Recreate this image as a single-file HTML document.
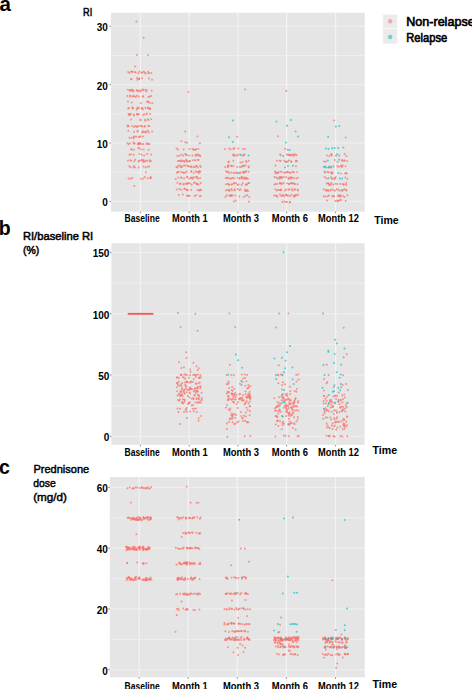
<!DOCTYPE html>
<html><head><meta charset="utf-8"><style>
html,body{margin:0;padding:0;background:#fff;width:472px;height:689px;overflow:hidden}
svg{display:block;font-family:"Liberation Sans",sans-serif}
</style></head><body>
<svg width="472" height="689" viewBox="0 0 472 689">
<rect x="111.0" y="12.7" width="253.8" height="199.0" fill="#E5E5E5"/>
<line x1="111.0" x2="364.8" y1="172.22" y2="172.22" stroke="#EFEFEF" stroke-width="1"/>
<line x1="111.0" x2="364.8" y1="113.85" y2="113.85" stroke="#EFEFEF" stroke-width="1"/>
<line x1="111.0" x2="364.8" y1="55.48" y2="55.48" stroke="#EFEFEF" stroke-width="1"/>
<line x1="111.0" x2="364.8" y1="201.40" y2="201.40" stroke="#F0F0F0" stroke-width="1"/>
<line x1="109.5" x2="111.0" y1="201.40" y2="201.40" stroke="#333" stroke-width="0.6"/>
<line x1="111.0" x2="364.8" y1="143.03" y2="143.03" stroke="#F0F0F0" stroke-width="1"/>
<line x1="109.5" x2="111.0" y1="143.03" y2="143.03" stroke="#333" stroke-width="0.6"/>
<line x1="111.0" x2="364.8" y1="84.66" y2="84.66" stroke="#F0F0F0" stroke-width="1"/>
<line x1="109.5" x2="111.0" y1="84.66" y2="84.66" stroke="#333" stroke-width="0.6"/>
<line x1="111.0" x2="364.8" y1="26.29" y2="26.29" stroke="#F0F0F0" stroke-width="1"/>
<line x1="109.5" x2="111.0" y1="26.29" y2="26.29" stroke="#333" stroke-width="0.6"/>
<line x1="140.4" x2="140.4" y1="12.7" y2="211.7" stroke="#F3F3F3" stroke-width="1.2"/>
<line x1="140.4" x2="140.4" y1="211.7" y2="213.2" stroke="#333" stroke-width="0.6"/>
<line x1="189.2" x2="189.2" y1="12.7" y2="211.7" stroke="#F3F3F3" stroke-width="1.2"/>
<line x1="189.2" x2="189.2" y1="211.7" y2="213.2" stroke="#333" stroke-width="0.6"/>
<line x1="237.9" x2="237.9" y1="12.7" y2="211.7" stroke="#F3F3F3" stroke-width="1.2"/>
<line x1="237.9" x2="237.9" y1="211.7" y2="213.2" stroke="#333" stroke-width="0.6"/>
<line x1="286.6" x2="286.6" y1="12.7" y2="211.7" stroke="#F3F3F3" stroke-width="1.2"/>
<line x1="286.6" x2="286.6" y1="211.7" y2="213.2" stroke="#333" stroke-width="0.6"/>
<line x1="335.6" x2="335.6" y1="12.7" y2="211.7" stroke="#F3F3F3" stroke-width="1.2"/>
<line x1="335.6" x2="335.6" y1="211.7" y2="213.2" stroke="#333" stroke-width="0.6"/>
<rect x="111.4" y="243.3" width="253.2" height="201.6" fill="#E5E5E5"/>
<line x1="111.4" x2="364.6" y1="405.64" y2="405.64" stroke="#EFEFEF" stroke-width="1"/>
<line x1="111.4" x2="364.6" y1="344.33" y2="344.33" stroke="#EFEFEF" stroke-width="1"/>
<line x1="111.4" x2="364.6" y1="283.01" y2="283.01" stroke="#EFEFEF" stroke-width="1"/>
<line x1="111.4" x2="364.6" y1="436.30" y2="436.30" stroke="#F0F0F0" stroke-width="1"/>
<line x1="109.9" x2="111.4" y1="436.30" y2="436.30" stroke="#333" stroke-width="0.6"/>
<line x1="111.4" x2="364.6" y1="374.99" y2="374.99" stroke="#F0F0F0" stroke-width="1"/>
<line x1="109.9" x2="111.4" y1="374.99" y2="374.99" stroke="#333" stroke-width="0.6"/>
<line x1="111.4" x2="364.6" y1="313.67" y2="313.67" stroke="#F0F0F0" stroke-width="1"/>
<line x1="109.9" x2="111.4" y1="313.67" y2="313.67" stroke="#333" stroke-width="0.6"/>
<line x1="111.4" x2="364.6" y1="252.36" y2="252.36" stroke="#F0F0F0" stroke-width="1"/>
<line x1="109.9" x2="111.4" y1="252.36" y2="252.36" stroke="#333" stroke-width="0.6"/>
<line x1="140.4" x2="140.4" y1="243.3" y2="444.9" stroke="#F3F3F3" stroke-width="1.2"/>
<line x1="140.4" x2="140.4" y1="444.9" y2="446.4" stroke="#333" stroke-width="0.6"/>
<line x1="189.2" x2="189.2" y1="243.3" y2="444.9" stroke="#F3F3F3" stroke-width="1.2"/>
<line x1="189.2" x2="189.2" y1="444.9" y2="446.4" stroke="#333" stroke-width="0.6"/>
<line x1="237.9" x2="237.9" y1="243.3" y2="444.9" stroke="#F3F3F3" stroke-width="1.2"/>
<line x1="237.9" x2="237.9" y1="444.9" y2="446.4" stroke="#333" stroke-width="0.6"/>
<line x1="286.6" x2="286.6" y1="243.3" y2="444.9" stroke="#F3F3F3" stroke-width="1.2"/>
<line x1="286.6" x2="286.6" y1="444.9" y2="446.4" stroke="#333" stroke-width="0.6"/>
<line x1="335.6" x2="335.6" y1="243.3" y2="444.9" stroke="#F3F3F3" stroke-width="1.2"/>
<line x1="335.6" x2="335.6" y1="444.9" y2="446.4" stroke="#333" stroke-width="0.6"/>
<rect x="109.8" y="477.0" width="255.0" height="200.3" fill="#E5E5E5"/>
<line x1="109.8" x2="364.8" y1="639.32" y2="639.32" stroke="#EFEFEF" stroke-width="1"/>
<line x1="109.8" x2="364.8" y1="578.56" y2="578.56" stroke="#EFEFEF" stroke-width="1"/>
<line x1="109.8" x2="364.8" y1="517.80" y2="517.80" stroke="#EFEFEF" stroke-width="1"/>
<line x1="109.8" x2="364.8" y1="669.70" y2="669.70" stroke="#F0F0F0" stroke-width="1"/>
<line x1="108.3" x2="109.8" y1="669.70" y2="669.70" stroke="#333" stroke-width="0.6"/>
<line x1="109.8" x2="364.8" y1="608.94" y2="608.94" stroke="#F0F0F0" stroke-width="1"/>
<line x1="108.3" x2="109.8" y1="608.94" y2="608.94" stroke="#333" stroke-width="0.6"/>
<line x1="109.8" x2="364.8" y1="548.18" y2="548.18" stroke="#F0F0F0" stroke-width="1"/>
<line x1="108.3" x2="109.8" y1="548.18" y2="548.18" stroke="#333" stroke-width="0.6"/>
<line x1="109.8" x2="364.8" y1="487.42" y2="487.42" stroke="#F0F0F0" stroke-width="1"/>
<line x1="108.3" x2="109.8" y1="487.42" y2="487.42" stroke="#333" stroke-width="0.6"/>
<line x1="139.2" x2="139.2" y1="477.0" y2="677.3" stroke="#F3F3F3" stroke-width="1.2"/>
<line x1="139.2" x2="139.2" y1="677.3" y2="678.8" stroke="#333" stroke-width="0.6"/>
<line x1="188.2" x2="188.2" y1="477.0" y2="677.3" stroke="#F3F3F3" stroke-width="1.2"/>
<line x1="188.2" x2="188.2" y1="677.3" y2="678.8" stroke="#333" stroke-width="0.6"/>
<line x1="237.3" x2="237.3" y1="477.0" y2="677.3" stroke="#F3F3F3" stroke-width="1.2"/>
<line x1="237.3" x2="237.3" y1="677.3" y2="678.8" stroke="#333" stroke-width="0.6"/>
<line x1="286.4" x2="286.4" y1="477.0" y2="677.3" stroke="#F3F3F3" stroke-width="1.2"/>
<line x1="286.4" x2="286.4" y1="677.3" y2="678.8" stroke="#333" stroke-width="0.6"/>
<line x1="335.5" x2="335.5" y1="477.0" y2="677.3" stroke="#F3F3F3" stroke-width="1.2"/>
<line x1="335.5" x2="335.5" y1="677.3" y2="678.8" stroke="#333" stroke-width="0.6"/>
<circle cx="179.9" cy="399.5" r="1.0" fill="#F8766D" fill-opacity="0.75"/>
<circle cx="196.0" cy="383.8" r="1.0" fill="#F8766D" fill-opacity="0.75"/>
<circle cx="189.1" cy="388.9" r="1.0" fill="#F8766D" fill-opacity="0.75"/>
<circle cx="193.1" cy="397.9" r="1.0" fill="#F8766D" fill-opacity="0.75"/>
<circle cx="178.9" cy="377.8" r="1.0" fill="#F8766D" fill-opacity="0.75"/>
<circle cx="197.8" cy="388.5" r="1.0" fill="#F8766D" fill-opacity="0.75"/>
<circle cx="195.9" cy="377.1" r="1.0" fill="#F8766D" fill-opacity="0.75"/>
<circle cx="187.9" cy="396.1" r="1.0" fill="#F8766D" fill-opacity="0.75"/>
<circle cx="182.3" cy="402.0" r="1.0" fill="#F8766D" fill-opacity="0.75"/>
<circle cx="199.5" cy="377.8" r="1.0" fill="#F8766D" fill-opacity="0.75"/>
<circle cx="177.1" cy="391.3" r="1.0" fill="#F8766D" fill-opacity="0.75"/>
<circle cx="200.4" cy="387.1" r="1.0" fill="#F8766D" fill-opacity="0.75"/>
<circle cx="182.0" cy="388.2" r="1.0" fill="#F8766D" fill-opacity="0.75"/>
<circle cx="177.2" cy="382.9" r="1.0" fill="#F8766D" fill-opacity="0.75"/>
<circle cx="187.7" cy="390.1" r="1.0" fill="#F8766D" fill-opacity="0.75"/>
<circle cx="182.4" cy="383.1" r="1.0" fill="#F8766D" fill-opacity="0.75"/>
<circle cx="182.1" cy="389.2" r="1.0" fill="#F8766D" fill-opacity="0.75"/>
<circle cx="183.9" cy="377.6" r="1.0" fill="#F8766D" fill-opacity="0.75"/>
<circle cx="197.9" cy="391.7" r="1.0" fill="#F8766D" fill-opacity="0.75"/>
<circle cx="192.9" cy="381.9" r="1.0" fill="#F8766D" fill-opacity="0.75"/>
<circle cx="201.8" cy="399.8" r="1.0" fill="#F8766D" fill-opacity="0.75"/>
<circle cx="179.6" cy="385.8" r="1.0" fill="#F8766D" fill-opacity="0.75"/>
<circle cx="194.9" cy="395.8" r="1.0" fill="#F8766D" fill-opacity="0.75"/>
<circle cx="200.4" cy="388.2" r="1.0" fill="#F8766D" fill-opacity="0.75"/>
<circle cx="197.7" cy="394.8" r="1.0" fill="#F8766D" fill-opacity="0.75"/>
<circle cx="184.2" cy="392.6" r="1.0" fill="#F8766D" fill-opacity="0.75"/>
<circle cx="199.0" cy="399.4" r="1.0" fill="#F8766D" fill-opacity="0.75"/>
<circle cx="189.4" cy="392.6" r="1.0" fill="#F8766D" fill-opacity="0.75"/>
<circle cx="177.4" cy="383.4" r="1.0" fill="#F8766D" fill-opacity="0.75"/>
<circle cx="196.8" cy="388.0" r="1.0" fill="#F8766D" fill-opacity="0.75"/>
<circle cx="180.9" cy="391.5" r="1.0" fill="#F8766D" fill-opacity="0.75"/>
<circle cx="194.4" cy="394.9" r="1.0" fill="#F8766D" fill-opacity="0.75"/>
<circle cx="186.1" cy="388.6" r="1.0" fill="#F8766D" fill-opacity="0.75"/>
<circle cx="189.5" cy="397.6" r="1.0" fill="#F8766D" fill-opacity="0.75"/>
<circle cx="189.8" cy="387.4" r="1.0" fill="#F8766D" fill-opacity="0.75"/>
<circle cx="189.0" cy="377.8" r="1.0" fill="#F8766D" fill-opacity="0.75"/>
<circle cx="177.6" cy="395.6" r="1.0" fill="#F8766D" fill-opacity="0.75"/>
<circle cx="201.6" cy="392.7" r="1.0" fill="#F8766D" fill-opacity="0.75"/>
<circle cx="186.5" cy="381.5" r="1.0" fill="#F8766D" fill-opacity="0.75"/>
<circle cx="189.3" cy="403.0" r="1.0" fill="#F8766D" fill-opacity="0.75"/>
<circle cx="196.1" cy="391.3" r="1.0" fill="#F8766D" fill-opacity="0.75"/>
<circle cx="198.4" cy="383.2" r="1.0" fill="#F8766D" fill-opacity="0.75"/>
<circle cx="189.6" cy="402.2" r="1.0" fill="#F8766D" fill-opacity="0.75"/>
<circle cx="191.2" cy="389.2" r="1.0" fill="#F8766D" fill-opacity="0.75"/>
<circle cx="183.4" cy="391.5" r="1.0" fill="#F8766D" fill-opacity="0.75"/>
<circle cx="200.9" cy="377.2" r="1.0" fill="#F8766D" fill-opacity="0.75"/>
<circle cx="196.5" cy="398.7" r="1.0" fill="#F8766D" fill-opacity="0.75"/>
<circle cx="199.1" cy="396.6" r="1.0" fill="#F8766D" fill-opacity="0.75"/>
<circle cx="197.1" cy="390.7" r="1.0" fill="#F8766D" fill-opacity="0.75"/>
<circle cx="190.8" cy="388.3" r="1.0" fill="#F8766D" fill-opacity="0.75"/>
<circle cx="177.9" cy="400.1" r="1.0" fill="#F8766D" fill-opacity="0.75"/>
<circle cx="191.0" cy="382.3" r="1.0" fill="#F8766D" fill-opacity="0.75"/>
<circle cx="189.4" cy="389.9" r="1.0" fill="#F8766D" fill-opacity="0.75"/>
<circle cx="185.6" cy="386.2" r="1.0" fill="#F8766D" fill-opacity="0.75"/>
<circle cx="190.2" cy="393.5" r="1.0" fill="#F8766D" fill-opacity="0.75"/>
<circle cx="192.1" cy="389.1" r="1.0" fill="#F8766D" fill-opacity="0.75"/>
<circle cx="177.2" cy="383.1" r="1.0" fill="#F8766D" fill-opacity="0.75"/>
<circle cx="181.0" cy="392.5" r="1.0" fill="#F8766D" fill-opacity="0.75"/>
<circle cx="198.5" cy="398.2" r="1.0" fill="#F8766D" fill-opacity="0.75"/>
<circle cx="196.8" cy="398.6" r="1.0" fill="#F8766D" fill-opacity="0.75"/>
<circle cx="183.0" cy="399.3" r="1.0" fill="#F8766D" fill-opacity="0.75"/>
<circle cx="193.7" cy="379.2" r="1.0" fill="#F8766D" fill-opacity="0.75"/>
<circle cx="176.9" cy="377.4" r="1.0" fill="#F8766D" fill-opacity="0.75"/>
<circle cx="195.8" cy="383.6" r="1.0" fill="#F8766D" fill-opacity="0.75"/>
<circle cx="179.3" cy="393.6" r="1.0" fill="#F8766D" fill-opacity="0.75"/>
<circle cx="185.3" cy="378.8" r="1.0" fill="#F8766D" fill-opacity="0.75"/>
<circle cx="180.6" cy="391.0" r="1.0" fill="#F8766D" fill-opacity="0.75"/>
<circle cx="180.8" cy="384.2" r="1.0" fill="#F8766D" fill-opacity="0.75"/>
<circle cx="194.6" cy="389.0" r="1.0" fill="#F8766D" fill-opacity="0.75"/>
<circle cx="184.7" cy="389.6" r="1.0" fill="#F8766D" fill-opacity="0.75"/>
<circle cx="177.1" cy="387.2" r="1.0" fill="#F8766D" fill-opacity="0.75"/>
<circle cx="187.2" cy="382.0" r="1.0" fill="#F8766D" fill-opacity="0.75"/>
<circle cx="179.3" cy="400.8" r="1.0" fill="#F8766D" fill-opacity="0.75"/>
<circle cx="189.5" cy="382.5" r="1.0" fill="#F8766D" fill-opacity="0.75"/>
<circle cx="191.9" cy="398.7" r="1.0" fill="#F8766D" fill-opacity="0.75"/>
<circle cx="177.0" cy="377.5" r="1.0" fill="#F8766D" fill-opacity="0.75"/>
<circle cx="180.2" cy="396.0" r="1.0" fill="#F8766D" fill-opacity="0.75"/>
<circle cx="180.6" cy="395.7" r="1.0" fill="#F8766D" fill-opacity="0.75"/>
<circle cx="193.8" cy="391.4" r="1.0" fill="#F8766D" fill-opacity="0.75"/>
<circle cx="182.1" cy="402.9" r="1.0" fill="#F8766D" fill-opacity="0.75"/>
<circle cx="196.8" cy="390.7" r="1.0" fill="#F8766D" fill-opacity="0.75"/>
<circle cx="182.2" cy="394.2" r="1.0" fill="#F8766D" fill-opacity="0.75"/>
<circle cx="186.6" cy="392.3" r="1.0" fill="#F8766D" fill-opacity="0.75"/>
<circle cx="184.7" cy="393.7" r="1.0" fill="#F8766D" fill-opacity="0.75"/>
<circle cx="178.0" cy="384.9" r="1.0" fill="#F8766D" fill-opacity="0.75"/>
<circle cx="201.2" cy="400.2" r="1.0" fill="#F8766D" fill-opacity="0.75"/>
<circle cx="184.3" cy="399.8" r="1.0" fill="#F8766D" fill-opacity="0.75"/>
<circle cx="184.4" cy="401.9" r="1.0" fill="#F8766D" fill-opacity="0.75"/>
<circle cx="195.5" cy="388.0" r="1.0" fill="#F8766D" fill-opacity="0.75"/>
<circle cx="182.9" cy="377.2" r="1.0" fill="#F8766D" fill-opacity="0.75"/>
<circle cx="198.9" cy="378.0" r="1.0" fill="#F8766D" fill-opacity="0.75"/>
<circle cx="197.4" cy="402.5" r="1.0" fill="#F8766D" fill-opacity="0.75"/>
<circle cx="191.0" cy="381.5" r="1.0" fill="#F8766D" fill-opacity="0.75"/>
<circle cx="198.6" cy="402.8" r="1.0" fill="#F8766D" fill-opacity="0.75"/>
<circle cx="194.5" cy="390.5" r="1.0" fill="#F8766D" fill-opacity="0.75"/>
<circle cx="186.1" cy="386.2" r="1.0" fill="#F8766D" fill-opacity="0.75"/>
<circle cx="181.7" cy="394.9" r="1.0" fill="#F8766D" fill-opacity="0.75"/>
<circle cx="187.5" cy="382.1" r="1.0" fill="#F8766D" fill-opacity="0.75"/>
<circle cx="179.2" cy="394.6" r="1.0" fill="#F8766D" fill-opacity="0.75"/>
<circle cx="184.0" cy="390.2" r="1.0" fill="#F8766D" fill-opacity="0.75"/>
<circle cx="184.8" cy="400.1" r="1.0" fill="#F8766D" fill-opacity="0.75"/>
<circle cx="199.4" cy="377.5" r="1.0" fill="#F8766D" fill-opacity="0.75"/>
<circle cx="181.6" cy="385.7" r="1.0" fill="#F8766D" fill-opacity="0.75"/>
<circle cx="201.7" cy="397.7" r="1.0" fill="#F8766D" fill-opacity="0.75"/>
<circle cx="185.1" cy="382.6" r="1.0" fill="#F8766D" fill-opacity="0.75"/>
<circle cx="193.7" cy="399.2" r="1.0" fill="#F8766D" fill-opacity="0.75"/>
<circle cx="200.3" cy="386.1" r="1.0" fill="#F8766D" fill-opacity="0.75"/>
<circle cx="199.0" cy="395.2" r="1.0" fill="#F8766D" fill-opacity="0.75"/>
<circle cx="188.9" cy="403.1" r="1.0" fill="#F8766D" fill-opacity="0.75"/>
<circle cx="182.5" cy="396.2" r="1.0" fill="#F8766D" fill-opacity="0.75"/>
<circle cx="178.7" cy="381.5" r="1.0" fill="#F8766D" fill-opacity="0.75"/>
<circle cx="199.7" cy="382.6" r="1.0" fill="#F8766D" fill-opacity="0.75"/>
<circle cx="195.9" cy="392.9" r="1.0" fill="#F8766D" fill-opacity="0.75"/>
<circle cx="197.9" cy="386.8" r="1.0" fill="#F8766D" fill-opacity="0.75"/>
<circle cx="185.2" cy="384.7" r="1.0" fill="#F8766D" fill-opacity="0.75"/>
<circle cx="247.4" cy="388.5" r="1.0" fill="#F8766D" fill-opacity="0.75"/>
<circle cx="249.6" cy="392.1" r="1.0" fill="#F8766D" fill-opacity="0.75"/>
<circle cx="229.2" cy="387.9" r="1.0" fill="#F8766D" fill-opacity="0.75"/>
<circle cx="228.4" cy="381.5" r="1.0" fill="#F8766D" fill-opacity="0.75"/>
<circle cx="227.6" cy="391.8" r="1.0" fill="#F8766D" fill-opacity="0.75"/>
<circle cx="245.4" cy="391.4" r="1.0" fill="#F8766D" fill-opacity="0.75"/>
<circle cx="234.3" cy="388.7" r="1.0" fill="#F8766D" fill-opacity="0.75"/>
<circle cx="245.3" cy="385.7" r="1.0" fill="#F8766D" fill-opacity="0.75"/>
<circle cx="240.0" cy="383.8" r="1.0" fill="#F8766D" fill-opacity="0.75"/>
<circle cx="227.8" cy="384.3" r="1.0" fill="#F8766D" fill-opacity="0.75"/>
<circle cx="248.0" cy="388.1" r="1.0" fill="#F8766D" fill-opacity="0.75"/>
<circle cx="248.8" cy="386.7" r="1.0" fill="#F8766D" fill-opacity="0.75"/>
<circle cx="232.7" cy="390.8" r="1.0" fill="#F8766D" fill-opacity="0.75"/>
<circle cx="246.4" cy="381.2" r="1.0" fill="#F8766D" fill-opacity="0.75"/>
<circle cx="242.5" cy="382.1" r="1.0" fill="#F8766D" fill-opacity="0.75"/>
<circle cx="228.7" cy="392.1" r="1.0" fill="#F8766D" fill-opacity="0.75"/>
<circle cx="226.8" cy="384.0" r="1.0" fill="#F8766D" fill-opacity="0.75"/>
<circle cx="250.4" cy="386.3" r="1.0" fill="#F8766D" fill-opacity="0.75"/>
<circle cx="228.7" cy="383.1" r="1.0" fill="#F8766D" fill-opacity="0.75"/>
<circle cx="231.8" cy="390.3" r="1.0" fill="#F8766D" fill-opacity="0.75"/>
<circle cx="228.4" cy="392.4" r="1.0" fill="#F8766D" fill-opacity="0.75"/>
<circle cx="235.2" cy="393.1" r="1.0" fill="#F8766D" fill-opacity="0.75"/>
<circle cx="248.4" cy="384.7" r="1.0" fill="#F8766D" fill-opacity="0.75"/>
<circle cx="232.1" cy="387.0" r="1.0" fill="#F8766D" fill-opacity="0.75"/>
<circle cx="228.3" cy="400.0" r="1.0" fill="#F8766D" fill-opacity="0.75"/>
<circle cx="226.8" cy="393.6" r="1.0" fill="#F8766D" fill-opacity="0.75"/>
<circle cx="250.3" cy="396.5" r="1.0" fill="#F8766D" fill-opacity="0.75"/>
<circle cx="240.7" cy="398.0" r="1.0" fill="#F8766D" fill-opacity="0.75"/>
<circle cx="233.6" cy="394.1" r="1.0" fill="#F8766D" fill-opacity="0.75"/>
<circle cx="248.5" cy="403.2" r="1.0" fill="#F8766D" fill-opacity="0.75"/>
<circle cx="249.9" cy="394.6" r="1.0" fill="#F8766D" fill-opacity="0.75"/>
<circle cx="231.2" cy="399.7" r="1.0" fill="#F8766D" fill-opacity="0.75"/>
<circle cx="250.2" cy="398.9" r="1.0" fill="#F8766D" fill-opacity="0.75"/>
<circle cx="242.9" cy="400.1" r="1.0" fill="#F8766D" fill-opacity="0.75"/>
<circle cx="232.3" cy="398.9" r="1.0" fill="#F8766D" fill-opacity="0.75"/>
<circle cx="233.5" cy="396.0" r="1.0" fill="#F8766D" fill-opacity="0.75"/>
<circle cx="227.8" cy="396.3" r="1.0" fill="#F8766D" fill-opacity="0.75"/>
<circle cx="250.3" cy="398.0" r="1.0" fill="#F8766D" fill-opacity="0.75"/>
<circle cx="242.0" cy="399.9" r="1.0" fill="#F8766D" fill-opacity="0.75"/>
<circle cx="249.2" cy="397.4" r="1.0" fill="#F8766D" fill-opacity="0.75"/>
<circle cx="233.4" cy="396.8" r="1.0" fill="#F8766D" fill-opacity="0.75"/>
<circle cx="233.7" cy="402.0" r="1.0" fill="#F8766D" fill-opacity="0.75"/>
<circle cx="248.0" cy="396.5" r="1.0" fill="#F8766D" fill-opacity="0.75"/>
<circle cx="234.1" cy="398.9" r="1.0" fill="#F8766D" fill-opacity="0.75"/>
<circle cx="240.2" cy="399.5" r="1.0" fill="#F8766D" fill-opacity="0.75"/>
<circle cx="231.9" cy="393.7" r="1.0" fill="#F8766D" fill-opacity="0.75"/>
<circle cx="231.9" cy="394.2" r="1.0" fill="#F8766D" fill-opacity="0.75"/>
<circle cx="239.5" cy="394.2" r="1.0" fill="#F8766D" fill-opacity="0.75"/>
<circle cx="227.7" cy="399.9" r="1.0" fill="#F8766D" fill-opacity="0.75"/>
<circle cx="233.0" cy="401.4" r="1.0" fill="#F8766D" fill-opacity="0.75"/>
<circle cx="238.1" cy="402.1" r="1.0" fill="#F8766D" fill-opacity="0.75"/>
<circle cx="229.6" cy="398.5" r="1.0" fill="#F8766D" fill-opacity="0.75"/>
<circle cx="245.6" cy="394.3" r="1.0" fill="#F8766D" fill-opacity="0.75"/>
<circle cx="249.4" cy="395.2" r="1.0" fill="#F8766D" fill-opacity="0.75"/>
<circle cx="245.1" cy="403.3" r="1.0" fill="#F8766D" fill-opacity="0.75"/>
<circle cx="246.3" cy="396.7" r="1.0" fill="#F8766D" fill-opacity="0.75"/>
<circle cx="228.5" cy="398.6" r="1.0" fill="#F8766D" fill-opacity="0.75"/>
<circle cx="248.7" cy="396.4" r="1.0" fill="#F8766D" fill-opacity="0.75"/>
<circle cx="248.1" cy="394.9" r="1.0" fill="#F8766D" fill-opacity="0.75"/>
<circle cx="248.5" cy="393.8" r="1.0" fill="#F8766D" fill-opacity="0.75"/>
<circle cx="233.7" cy="402.5" r="1.0" fill="#F8766D" fill-opacity="0.75"/>
<circle cx="245.8" cy="402.6" r="1.0" fill="#F8766D" fill-opacity="0.75"/>
<circle cx="246.7" cy="401.0" r="1.0" fill="#F8766D" fill-opacity="0.75"/>
<circle cx="243.0" cy="395.3" r="1.0" fill="#F8766D" fill-opacity="0.75"/>
<circle cx="236.6" cy="395.1" r="1.0" fill="#F8766D" fill-opacity="0.75"/>
<circle cx="243.6" cy="400.2" r="1.0" fill="#F8766D" fill-opacity="0.75"/>
<circle cx="232.1" cy="394.1" r="1.0" fill="#F8766D" fill-opacity="0.75"/>
<circle cx="249.8" cy="401.6" r="1.0" fill="#F8766D" fill-opacity="0.75"/>
<circle cx="239.5" cy="398.9" r="1.0" fill="#F8766D" fill-opacity="0.75"/>
<circle cx="247.0" cy="398.0" r="1.0" fill="#F8766D" fill-opacity="0.75"/>
<circle cx="235.7" cy="396.9" r="1.0" fill="#F8766D" fill-opacity="0.75"/>
<circle cx="232.2" cy="393.7" r="1.0" fill="#F8766D" fill-opacity="0.75"/>
<circle cx="241.9" cy="397.7" r="1.0" fill="#F8766D" fill-opacity="0.75"/>
<circle cx="240.0" cy="394.1" r="1.0" fill="#F8766D" fill-opacity="0.75"/>
<circle cx="234.6" cy="394.9" r="1.0" fill="#F8766D" fill-opacity="0.75"/>
<circle cx="228.9" cy="396.1" r="1.0" fill="#F8766D" fill-opacity="0.75"/>
<circle cx="246.4" cy="397.5" r="1.0" fill="#F8766D" fill-opacity="0.75"/>
<circle cx="235.8" cy="399.6" r="1.0" fill="#F8766D" fill-opacity="0.75"/>
<circle cx="231.6" cy="393.6" r="1.0" fill="#F8766D" fill-opacity="0.75"/>
<circle cx="239.0" cy="398.5" r="1.0" fill="#F8766D" fill-opacity="0.75"/>
<circle cx="242.0" cy="397.9" r="1.0" fill="#F8766D" fill-opacity="0.75"/>
<circle cx="242.9" cy="400.8" r="1.0" fill="#F8766D" fill-opacity="0.75"/>
<circle cx="231.7" cy="413.6" r="1.0" fill="#F8766D" fill-opacity="0.75"/>
<circle cx="237.7" cy="408.1" r="1.0" fill="#F8766D" fill-opacity="0.75"/>
<circle cx="236.1" cy="415.0" r="1.0" fill="#F8766D" fill-opacity="0.75"/>
<circle cx="248.4" cy="422.3" r="1.0" fill="#F8766D" fill-opacity="0.75"/>
<circle cx="232.7" cy="416.8" r="1.0" fill="#F8766D" fill-opacity="0.75"/>
<circle cx="227.0" cy="405.0" r="1.0" fill="#F8766D" fill-opacity="0.75"/>
<circle cx="238.5" cy="421.5" r="1.0" fill="#F8766D" fill-opacity="0.75"/>
<circle cx="229.8" cy="419.2" r="1.0" fill="#F8766D" fill-opacity="0.75"/>
<circle cx="247.8" cy="409.9" r="1.0" fill="#F8766D" fill-opacity="0.75"/>
<circle cx="243.0" cy="420.9" r="1.0" fill="#F8766D" fill-opacity="0.75"/>
<circle cx="235.1" cy="417.9" r="1.0" fill="#F8766D" fill-opacity="0.75"/>
<circle cx="244.1" cy="415.7" r="1.0" fill="#F8766D" fill-opacity="0.75"/>
<circle cx="247.1" cy="421.9" r="1.0" fill="#F8766D" fill-opacity="0.75"/>
<circle cx="249.7" cy="415.2" r="1.0" fill="#F8766D" fill-opacity="0.75"/>
<circle cx="230.2" cy="408.6" r="1.0" fill="#F8766D" fill-opacity="0.75"/>
<circle cx="231.2" cy="415.2" r="1.0" fill="#F8766D" fill-opacity="0.75"/>
<circle cx="244.7" cy="404.6" r="1.0" fill="#F8766D" fill-opacity="0.75"/>
<circle cx="242.8" cy="418.2" r="1.0" fill="#F8766D" fill-opacity="0.75"/>
<circle cx="234.5" cy="414.1" r="1.0" fill="#F8766D" fill-opacity="0.75"/>
<circle cx="229.9" cy="418.5" r="1.0" fill="#F8766D" fill-opacity="0.75"/>
<circle cx="226.8" cy="423.6" r="1.0" fill="#F8766D" fill-opacity="0.75"/>
<circle cx="245.9" cy="416.4" r="1.0" fill="#F8766D" fill-opacity="0.75"/>
<circle cx="232.5" cy="422.2" r="1.0" fill="#F8766D" fill-opacity="0.75"/>
<circle cx="249.7" cy="406.4" r="1.0" fill="#F8766D" fill-opacity="0.75"/>
<circle cx="245.1" cy="420.8" r="1.0" fill="#F8766D" fill-opacity="0.75"/>
<circle cx="242.2" cy="417.9" r="1.0" fill="#F8766D" fill-opacity="0.75"/>
<circle cx="236.9" cy="422.4" r="1.0" fill="#F8766D" fill-opacity="0.75"/>
<circle cx="250.0" cy="411.3" r="1.0" fill="#F8766D" fill-opacity="0.75"/>
<circle cx="245.8" cy="412.4" r="1.0" fill="#F8766D" fill-opacity="0.75"/>
<circle cx="229.9" cy="410.2" r="1.0" fill="#F8766D" fill-opacity="0.75"/>
<circle cx="228.9" cy="422.1" r="1.0" fill="#F8766D" fill-opacity="0.75"/>
<circle cx="249.7" cy="405.9" r="1.0" fill="#F8766D" fill-opacity="0.75"/>
<circle cx="240.8" cy="411.9" r="1.0" fill="#F8766D" fill-opacity="0.75"/>
<circle cx="228.7" cy="409.6" r="1.0" fill="#F8766D" fill-opacity="0.75"/>
<circle cx="232.0" cy="418.9" r="1.0" fill="#F8766D" fill-opacity="0.75"/>
<circle cx="225.9" cy="407.4" r="1.0" fill="#F8766D" fill-opacity="0.75"/>
<circle cx="236.7" cy="403.9" r="1.0" fill="#F8766D" fill-opacity="0.75"/>
<circle cx="241.4" cy="415.9" r="1.0" fill="#F8766D" fill-opacity="0.75"/>
<circle cx="246.6" cy="407.7" r="1.0" fill="#F8766D" fill-opacity="0.75"/>
<circle cx="232.9" cy="414.6" r="1.0" fill="#F8766D" fill-opacity="0.75"/>
<circle cx="232.6" cy="415.5" r="1.0" fill="#F8766D" fill-opacity="0.75"/>
<circle cx="232.0" cy="417.5" r="1.0" fill="#F8766D" fill-opacity="0.75"/>
<circle cx="293.4" cy="406.9" r="1.0" fill="#F8766D" fill-opacity="0.75"/>
<circle cx="297.9" cy="402.6" r="1.0" fill="#F8766D" fill-opacity="0.75"/>
<circle cx="286.1" cy="407.7" r="1.0" fill="#F8766D" fill-opacity="0.75"/>
<circle cx="292.9" cy="403.0" r="1.0" fill="#F8766D" fill-opacity="0.75"/>
<circle cx="283.5" cy="398.4" r="1.0" fill="#F8766D" fill-opacity="0.75"/>
<circle cx="276.8" cy="406.9" r="1.0" fill="#F8766D" fill-opacity="0.75"/>
<circle cx="277.1" cy="405.9" r="1.0" fill="#F8766D" fill-opacity="0.75"/>
<circle cx="287.5" cy="409.4" r="1.0" fill="#F8766D" fill-opacity="0.75"/>
<circle cx="292.7" cy="409.6" r="1.0" fill="#F8766D" fill-opacity="0.75"/>
<circle cx="277.5" cy="401.9" r="1.0" fill="#F8766D" fill-opacity="0.75"/>
<circle cx="288.1" cy="398.8" r="1.0" fill="#F8766D" fill-opacity="0.75"/>
<circle cx="286.4" cy="399.6" r="1.0" fill="#F8766D" fill-opacity="0.75"/>
<circle cx="287.0" cy="393.8" r="1.0" fill="#F8766D" fill-opacity="0.75"/>
<circle cx="284.9" cy="401.1" r="1.0" fill="#F8766D" fill-opacity="0.75"/>
<circle cx="281.6" cy="400.3" r="1.0" fill="#F8766D" fill-opacity="0.75"/>
<circle cx="293.2" cy="404.9" r="1.0" fill="#F8766D" fill-opacity="0.75"/>
<circle cx="286.2" cy="404.3" r="1.0" fill="#F8766D" fill-opacity="0.75"/>
<circle cx="283.4" cy="397.1" r="1.0" fill="#F8766D" fill-opacity="0.75"/>
<circle cx="274.3" cy="398.3" r="1.0" fill="#F8766D" fill-opacity="0.75"/>
<circle cx="288.7" cy="408.1" r="1.0" fill="#F8766D" fill-opacity="0.75"/>
<circle cx="294.4" cy="402.1" r="1.0" fill="#F8766D" fill-opacity="0.75"/>
<circle cx="298.2" cy="401.3" r="1.0" fill="#F8766D" fill-opacity="0.75"/>
<circle cx="294.5" cy="400.4" r="1.0" fill="#F8766D" fill-opacity="0.75"/>
<circle cx="292.3" cy="409.8" r="1.0" fill="#F8766D" fill-opacity="0.75"/>
<circle cx="281.6" cy="396.6" r="1.0" fill="#F8766D" fill-opacity="0.75"/>
<circle cx="289.3" cy="402.4" r="1.0" fill="#F8766D" fill-opacity="0.75"/>
<circle cx="282.9" cy="393.9" r="1.0" fill="#F8766D" fill-opacity="0.75"/>
<circle cx="283.7" cy="400.7" r="1.0" fill="#F8766D" fill-opacity="0.75"/>
<circle cx="284.0" cy="407.8" r="1.0" fill="#F8766D" fill-opacity="0.75"/>
<circle cx="288.4" cy="405.7" r="1.0" fill="#F8766D" fill-opacity="0.75"/>
<circle cx="296.0" cy="405.9" r="1.0" fill="#F8766D" fill-opacity="0.75"/>
<circle cx="286.2" cy="405.9" r="1.0" fill="#F8766D" fill-opacity="0.75"/>
<circle cx="289.8" cy="404.3" r="1.0" fill="#F8766D" fill-opacity="0.75"/>
<circle cx="289.5" cy="400.4" r="1.0" fill="#F8766D" fill-opacity="0.75"/>
<circle cx="289.5" cy="404.1" r="1.0" fill="#F8766D" fill-opacity="0.75"/>
<circle cx="297.0" cy="406.5" r="1.0" fill="#F8766D" fill-opacity="0.75"/>
<circle cx="294.8" cy="406.2" r="1.0" fill="#F8766D" fill-opacity="0.75"/>
<circle cx="294.0" cy="403.6" r="1.0" fill="#F8766D" fill-opacity="0.75"/>
<circle cx="282.7" cy="398.1" r="1.0" fill="#F8766D" fill-opacity="0.75"/>
<circle cx="291.4" cy="408.0" r="1.0" fill="#F8766D" fill-opacity="0.75"/>
<circle cx="287.4" cy="396.3" r="1.0" fill="#F8766D" fill-opacity="0.75"/>
<circle cx="294.4" cy="401.6" r="1.0" fill="#F8766D" fill-opacity="0.75"/>
<circle cx="285.6" cy="394.5" r="1.0" fill="#F8766D" fill-opacity="0.75"/>
<circle cx="286.6" cy="405.9" r="1.0" fill="#F8766D" fill-opacity="0.75"/>
<circle cx="284.5" cy="399.6" r="1.0" fill="#F8766D" fill-opacity="0.75"/>
<circle cx="290.2" cy="394.1" r="1.0" fill="#F8766D" fill-opacity="0.75"/>
<circle cx="286.5" cy="409.1" r="1.0" fill="#F8766D" fill-opacity="0.75"/>
<circle cx="291.0" cy="400.3" r="1.0" fill="#F8766D" fill-opacity="0.75"/>
<circle cx="290.9" cy="403.6" r="1.0" fill="#F8766D" fill-opacity="0.75"/>
<circle cx="279.3" cy="397.2" r="1.0" fill="#F8766D" fill-opacity="0.75"/>
<circle cx="295.7" cy="398.2" r="1.0" fill="#F8766D" fill-opacity="0.75"/>
<circle cx="276.0" cy="407.3" r="1.0" fill="#F8766D" fill-opacity="0.75"/>
<circle cx="286.9" cy="399.8" r="1.0" fill="#F8766D" fill-opacity="0.75"/>
<circle cx="286.6" cy="405.7" r="1.0" fill="#F8766D" fill-opacity="0.75"/>
<circle cx="278.3" cy="404.4" r="1.0" fill="#F8766D" fill-opacity="0.75"/>
<circle cx="291.5" cy="407.0" r="1.0" fill="#F8766D" fill-opacity="0.75"/>
<circle cx="280.8" cy="403.7" r="1.0" fill="#F8766D" fill-opacity="0.75"/>
<circle cx="279.8" cy="402.9" r="1.0" fill="#F8766D" fill-opacity="0.75"/>
<circle cx="278.4" cy="406.6" r="1.0" fill="#F8766D" fill-opacity="0.75"/>
<circle cx="295.3" cy="399.1" r="1.0" fill="#F8766D" fill-opacity="0.75"/>
<circle cx="279.6" cy="409.4" r="1.0" fill="#F8766D" fill-opacity="0.75"/>
<circle cx="291.4" cy="407.5" r="1.0" fill="#F8766D" fill-opacity="0.75"/>
<circle cx="274.9" cy="408.4" r="1.0" fill="#F8766D" fill-opacity="0.75"/>
<circle cx="289.3" cy="398.9" r="1.0" fill="#F8766D" fill-opacity="0.75"/>
<circle cx="284.7" cy="406.1" r="1.0" fill="#F8766D" fill-opacity="0.75"/>
<circle cx="293.3" cy="413.0" r="1.0" fill="#F8766D" fill-opacity="0.75"/>
<circle cx="289.4" cy="412.6" r="1.0" fill="#F8766D" fill-opacity="0.75"/>
<circle cx="297.8" cy="416.9" r="1.0" fill="#F8766D" fill-opacity="0.75"/>
<circle cx="296.4" cy="421.4" r="1.0" fill="#F8766D" fill-opacity="0.75"/>
<circle cx="288.9" cy="414.1" r="1.0" fill="#F8766D" fill-opacity="0.75"/>
<circle cx="287.0" cy="412.2" r="1.0" fill="#F8766D" fill-opacity="0.75"/>
<circle cx="277.6" cy="421.2" r="1.0" fill="#F8766D" fill-opacity="0.75"/>
<circle cx="283.0" cy="421.7" r="1.0" fill="#F8766D" fill-opacity="0.75"/>
<circle cx="280.0" cy="421.2" r="1.0" fill="#F8766D" fill-opacity="0.75"/>
<circle cx="291.7" cy="414.8" r="1.0" fill="#F8766D" fill-opacity="0.75"/>
<circle cx="276.8" cy="416.2" r="1.0" fill="#F8766D" fill-opacity="0.75"/>
<circle cx="286.2" cy="411.6" r="1.0" fill="#F8766D" fill-opacity="0.75"/>
<circle cx="278.7" cy="410.9" r="1.0" fill="#F8766D" fill-opacity="0.75"/>
<circle cx="288.7" cy="423.9" r="1.0" fill="#F8766D" fill-opacity="0.75"/>
<circle cx="279.5" cy="410.5" r="1.0" fill="#F8766D" fill-opacity="0.75"/>
<circle cx="291.3" cy="422.7" r="1.0" fill="#F8766D" fill-opacity="0.75"/>
<circle cx="297.6" cy="419.6" r="1.0" fill="#F8766D" fill-opacity="0.75"/>
<circle cx="282.5" cy="423.1" r="1.0" fill="#F8766D" fill-opacity="0.75"/>
<circle cx="277.1" cy="420.8" r="1.0" fill="#F8766D" fill-opacity="0.75"/>
<circle cx="276.5" cy="416.2" r="1.0" fill="#F8766D" fill-opacity="0.75"/>
<circle cx="286.2" cy="415.9" r="1.0" fill="#F8766D" fill-opacity="0.75"/>
<circle cx="278.3" cy="413.6" r="1.0" fill="#F8766D" fill-opacity="0.75"/>
<circle cx="294.1" cy="417.2" r="1.0" fill="#F8766D" fill-opacity="0.75"/>
<circle cx="288.3" cy="413.3" r="1.0" fill="#F8766D" fill-opacity="0.75"/>
<circle cx="291.6" cy="415.1" r="1.0" fill="#F8766D" fill-opacity="0.75"/>
<circle cx="288.6" cy="424.2" r="1.0" fill="#F8766D" fill-opacity="0.75"/>
<circle cx="298.4" cy="410.7" r="1.0" fill="#F8766D" fill-opacity="0.75"/>
<circle cx="293.6" cy="423.4" r="1.0" fill="#F8766D" fill-opacity="0.75"/>
<circle cx="282.0" cy="416.0" r="1.0" fill="#F8766D" fill-opacity="0.75"/>
<circle cx="288.3" cy="424.3" r="1.0" fill="#F8766D" fill-opacity="0.75"/>
<circle cx="283.9" cy="423.7" r="1.0" fill="#F8766D" fill-opacity="0.75"/>
<circle cx="292.6" cy="412.4" r="1.0" fill="#F8766D" fill-opacity="0.75"/>
<circle cx="296.4" cy="410.2" r="1.0" fill="#F8766D" fill-opacity="0.75"/>
<circle cx="277.7" cy="420.4" r="1.0" fill="#F8766D" fill-opacity="0.75"/>
<circle cx="275.6" cy="415.9" r="1.0" fill="#F8766D" fill-opacity="0.75"/>
<circle cx="277.4" cy="417.2" r="1.0" fill="#F8766D" fill-opacity="0.75"/>
<circle cx="294.6" cy="424.1" r="1.0" fill="#F8766D" fill-opacity="0.75"/>
<circle cx="275.1" cy="410.9" r="1.0" fill="#F8766D" fill-opacity="0.75"/>
<circle cx="294.6" cy="410.7" r="1.0" fill="#F8766D" fill-opacity="0.75"/>
<circle cx="280.8" cy="411.8" r="1.0" fill="#F8766D" fill-opacity="0.75"/>
<circle cx="276.4" cy="410.4" r="1.0" fill="#F8766D" fill-opacity="0.75"/>
<circle cx="289.7" cy="421.6" r="1.0" fill="#F8766D" fill-opacity="0.75"/>
<circle cx="290.9" cy="423.2" r="1.0" fill="#F8766D" fill-opacity="0.75"/>
<circle cx="290.3" cy="416.1" r="1.0" fill="#F8766D" fill-opacity="0.75"/>
<circle cx="289.5" cy="425.1" r="1.0" fill="#F8766D" fill-opacity="0.75"/>
<circle cx="289.8" cy="413.8" r="1.0" fill="#F8766D" fill-opacity="0.75"/>
<circle cx="275.7" cy="424.6" r="1.0" fill="#F8766D" fill-opacity="0.75"/>
<circle cx="288.5" cy="415.5" r="1.0" fill="#F8766D" fill-opacity="0.75"/>
<circle cx="288.9" cy="418.7" r="1.0" fill="#F8766D" fill-opacity="0.75"/>
<circle cx="286.9" cy="410.9" r="1.0" fill="#F8766D" fill-opacity="0.75"/>
<circle cx="331.3" cy="401.5" r="1.0" fill="#F8766D" fill-opacity="0.75"/>
<circle cx="327.6" cy="409.9" r="1.0" fill="#F8766D" fill-opacity="0.75"/>
<circle cx="333.0" cy="406.0" r="1.0" fill="#F8766D" fill-opacity="0.75"/>
<circle cx="340.1" cy="407.4" r="1.0" fill="#F8766D" fill-opacity="0.75"/>
<circle cx="340.3" cy="407.6" r="1.0" fill="#F8766D" fill-opacity="0.75"/>
<circle cx="328.8" cy="411.6" r="1.0" fill="#F8766D" fill-opacity="0.75"/>
<circle cx="326.4" cy="410.5" r="1.0" fill="#F8766D" fill-opacity="0.75"/>
<circle cx="343.6" cy="409.4" r="1.0" fill="#F8766D" fill-opacity="0.75"/>
<circle cx="324.0" cy="395.7" r="1.0" fill="#F8766D" fill-opacity="0.75"/>
<circle cx="342.5" cy="402.5" r="1.0" fill="#F8766D" fill-opacity="0.75"/>
<circle cx="331.7" cy="411.7" r="1.0" fill="#F8766D" fill-opacity="0.75"/>
<circle cx="323.7" cy="403.6" r="1.0" fill="#F8766D" fill-opacity="0.75"/>
<circle cx="333.5" cy="396.4" r="1.0" fill="#F8766D" fill-opacity="0.75"/>
<circle cx="332.3" cy="406.8" r="1.0" fill="#F8766D" fill-opacity="0.75"/>
<circle cx="344.2" cy="394.5" r="1.0" fill="#F8766D" fill-opacity="0.75"/>
<circle cx="335.5" cy="395.7" r="1.0" fill="#F8766D" fill-opacity="0.75"/>
<circle cx="342.2" cy="395.6" r="1.0" fill="#F8766D" fill-opacity="0.75"/>
<circle cx="323.5" cy="401.0" r="1.0" fill="#F8766D" fill-opacity="0.75"/>
<circle cx="340.6" cy="399.7" r="1.0" fill="#F8766D" fill-opacity="0.75"/>
<circle cx="325.9" cy="408.3" r="1.0" fill="#F8766D" fill-opacity="0.75"/>
<circle cx="342.4" cy="409.4" r="1.0" fill="#F8766D" fill-opacity="0.75"/>
<circle cx="330.1" cy="401.7" r="1.0" fill="#F8766D" fill-opacity="0.75"/>
<circle cx="328.7" cy="404.1" r="1.0" fill="#F8766D" fill-opacity="0.75"/>
<circle cx="330.8" cy="400.2" r="1.0" fill="#F8766D" fill-opacity="0.75"/>
<circle cx="341.8" cy="411.2" r="1.0" fill="#F8766D" fill-opacity="0.75"/>
<circle cx="337.0" cy="396.0" r="1.0" fill="#F8766D" fill-opacity="0.75"/>
<circle cx="338.6" cy="402.1" r="1.0" fill="#F8766D" fill-opacity="0.75"/>
<circle cx="346.8" cy="407.0" r="1.0" fill="#F8766D" fill-opacity="0.75"/>
<circle cx="343.1" cy="406.7" r="1.0" fill="#F8766D" fill-opacity="0.75"/>
<circle cx="335.8" cy="410.2" r="1.0" fill="#F8766D" fill-opacity="0.75"/>
<circle cx="343.0" cy="399.3" r="1.0" fill="#F8766D" fill-opacity="0.75"/>
<circle cx="326.5" cy="400.7" r="1.0" fill="#F8766D" fill-opacity="0.75"/>
<circle cx="335.4" cy="395.8" r="1.0" fill="#F8766D" fill-opacity="0.75"/>
<circle cx="331.1" cy="404.4" r="1.0" fill="#F8766D" fill-opacity="0.75"/>
<circle cx="323.8" cy="408.7" r="1.0" fill="#F8766D" fill-opacity="0.75"/>
<circle cx="338.6" cy="399.7" r="1.0" fill="#F8766D" fill-opacity="0.75"/>
<circle cx="330.0" cy="400.4" r="1.0" fill="#F8766D" fill-opacity="0.75"/>
<circle cx="330.6" cy="407.5" r="1.0" fill="#F8766D" fill-opacity="0.75"/>
<circle cx="334.9" cy="403.5" r="1.0" fill="#F8766D" fill-opacity="0.75"/>
<circle cx="326.3" cy="410.5" r="1.0" fill="#F8766D" fill-opacity="0.75"/>
<circle cx="330.6" cy="400.0" r="1.0" fill="#F8766D" fill-opacity="0.75"/>
<circle cx="324.4" cy="411.6" r="1.0" fill="#F8766D" fill-opacity="0.75"/>
<circle cx="334.4" cy="410.4" r="1.0" fill="#F8766D" fill-opacity="0.75"/>
<circle cx="345.3" cy="411.5" r="1.0" fill="#F8766D" fill-opacity="0.75"/>
<circle cx="342.6" cy="410.7" r="1.0" fill="#F8766D" fill-opacity="0.75"/>
<circle cx="345.2" cy="408.4" r="1.0" fill="#F8766D" fill-opacity="0.75"/>
<circle cx="326.0" cy="403.5" r="1.0" fill="#F8766D" fill-opacity="0.75"/>
<circle cx="336.7" cy="411.9" r="1.0" fill="#F8766D" fill-opacity="0.75"/>
<circle cx="341.8" cy="406.7" r="1.0" fill="#F8766D" fill-opacity="0.75"/>
<circle cx="340.9" cy="400.6" r="1.0" fill="#F8766D" fill-opacity="0.75"/>
<circle cx="345.7" cy="405.6" r="1.0" fill="#F8766D" fill-opacity="0.75"/>
<circle cx="332.5" cy="402.4" r="1.0" fill="#F8766D" fill-opacity="0.75"/>
<circle cx="346.6" cy="403.6" r="1.0" fill="#F8766D" fill-opacity="0.75"/>
<circle cx="326.8" cy="396.8" r="1.0" fill="#F8766D" fill-opacity="0.75"/>
<circle cx="339.5" cy="404.2" r="1.0" fill="#F8766D" fill-opacity="0.75"/>
<circle cx="344.8" cy="397.4" r="1.0" fill="#F8766D" fill-opacity="0.75"/>
<circle cx="332.7" cy="407.1" r="1.0" fill="#F8766D" fill-opacity="0.75"/>
<circle cx="323.9" cy="395.9" r="1.0" fill="#F8766D" fill-opacity="0.75"/>
<circle cx="336.0" cy="398.9" r="1.0" fill="#F8766D" fill-opacity="0.75"/>
<circle cx="325.3" cy="398.8" r="1.0" fill="#F8766D" fill-opacity="0.75"/>
<circle cx="338.1" cy="421.5" r="1.0" fill="#F8766D" fill-opacity="0.75"/>
<circle cx="324.6" cy="413.3" r="1.0" fill="#F8766D" fill-opacity="0.75"/>
<circle cx="343.5" cy="423.6" r="1.0" fill="#F8766D" fill-opacity="0.75"/>
<circle cx="326.9" cy="427.6" r="1.0" fill="#F8766D" fill-opacity="0.75"/>
<circle cx="323.2" cy="418.7" r="1.0" fill="#F8766D" fill-opacity="0.75"/>
<circle cx="343.4" cy="424.9" r="1.0" fill="#F8766D" fill-opacity="0.75"/>
<circle cx="329.6" cy="428.1" r="1.0" fill="#F8766D" fill-opacity="0.75"/>
<circle cx="337.3" cy="427.7" r="1.0" fill="#F8766D" fill-opacity="0.75"/>
<circle cx="344.5" cy="419.7" r="1.0" fill="#F8766D" fill-opacity="0.75"/>
<circle cx="339.2" cy="421.9" r="1.0" fill="#F8766D" fill-opacity="0.75"/>
<circle cx="345.8" cy="426.4" r="1.0" fill="#F8766D" fill-opacity="0.75"/>
<circle cx="340.4" cy="426.7" r="1.0" fill="#F8766D" fill-opacity="0.75"/>
<circle cx="347.1" cy="416.6" r="1.0" fill="#F8766D" fill-opacity="0.75"/>
<circle cx="327.6" cy="425.5" r="1.0" fill="#F8766D" fill-opacity="0.75"/>
<circle cx="341.5" cy="421.3" r="1.0" fill="#F8766D" fill-opacity="0.75"/>
<circle cx="334.6" cy="419.3" r="1.0" fill="#F8766D" fill-opacity="0.75"/>
<circle cx="344.2" cy="426.4" r="1.0" fill="#F8766D" fill-opacity="0.75"/>
<circle cx="337.0" cy="412.7" r="1.0" fill="#F8766D" fill-opacity="0.75"/>
<circle cx="343.5" cy="420.3" r="1.0" fill="#F8766D" fill-opacity="0.75"/>
<circle cx="327.3" cy="417.4" r="1.0" fill="#F8766D" fill-opacity="0.75"/>
<circle cx="339.6" cy="412.1" r="1.0" fill="#F8766D" fill-opacity="0.75"/>
<circle cx="325.6" cy="417.5" r="1.0" fill="#F8766D" fill-opacity="0.75"/>
<circle cx="344.3" cy="425.5" r="1.0" fill="#F8766D" fill-opacity="0.75"/>
<circle cx="346.4" cy="421.8" r="1.0" fill="#F8766D" fill-opacity="0.75"/>
<circle cx="336.7" cy="422.0" r="1.0" fill="#F8766D" fill-opacity="0.75"/>
<circle cx="335.5" cy="421.8" r="1.0" fill="#F8766D" fill-opacity="0.75"/>
<circle cx="342.7" cy="429.3" r="1.0" fill="#F8766D" fill-opacity="0.75"/>
<circle cx="332.7" cy="423.4" r="1.0" fill="#F8766D" fill-opacity="0.75"/>
<circle cx="330.2" cy="417.5" r="1.0" fill="#F8766D" fill-opacity="0.75"/>
<circle cx="335.1" cy="422.6" r="1.0" fill="#F8766D" fill-opacity="0.75"/>
<circle cx="336.1" cy="429.7" r="1.0" fill="#F8766D" fill-opacity="0.75"/>
<circle cx="326.7" cy="423.5" r="1.0" fill="#F8766D" fill-opacity="0.75"/>
<circle cx="347.0" cy="425.3" r="1.0" fill="#F8766D" fill-opacity="0.75"/>
<circle cx="336.5" cy="418.7" r="1.0" fill="#F8766D" fill-opacity="0.75"/>
<circle cx="332.5" cy="429.0" r="1.0" fill="#F8766D" fill-opacity="0.75"/>
<circle cx="344.5" cy="424.1" r="1.0" fill="#F8766D" fill-opacity="0.75"/>
<circle cx="344.6" cy="428.7" r="1.0" fill="#F8766D" fill-opacity="0.75"/>
<circle cx="343.4" cy="418.9" r="1.0" fill="#F8766D" fill-opacity="0.75"/>
<circle cx="334.0" cy="426.4" r="1.0" fill="#F8766D" fill-opacity="0.75"/>
<circle cx="331.8" cy="425.6" r="1.0" fill="#F8766D" fill-opacity="0.75"/>
<circle cx="334.4" cy="418.1" r="1.0" fill="#F8766D" fill-opacity="0.75"/>
<circle cx="333.8" cy="414.1" r="1.0" fill="#F8766D" fill-opacity="0.75"/>
<circle cx="331.3" cy="419.5" r="1.0" fill="#F8766D" fill-opacity="0.75"/>
<circle cx="323.1" cy="415.1" r="1.0" fill="#F8766D" fill-opacity="0.75"/>
<circle cx="329.0" cy="427.5" r="1.0" fill="#F8766D" fill-opacity="0.75"/>
<circle cx="337.1" cy="417.2" r="1.0" fill="#F8766D" fill-opacity="0.75"/>
<circle cx="347.0" cy="416.7" r="1.0" fill="#F8766D" fill-opacity="0.75"/>
<circle cx="335.2" cy="425.4" r="1.0" fill="#F8766D" fill-opacity="0.75"/>
<circle cx="143.7" cy="518.4" r="1.0" fill="#F8766D" fill-opacity="0.75"/>
<circle cx="145.8" cy="518.6" r="1.0" fill="#F8766D" fill-opacity="0.75"/>
<circle cx="144.3" cy="518.6" r="1.0" fill="#F8766D" fill-opacity="0.75"/>
<circle cx="150.5" cy="519.3" r="1.0" fill="#F8766D" fill-opacity="0.75"/>
<circle cx="129.2" cy="517.4" r="1.0" fill="#F8766D" fill-opacity="0.75"/>
<circle cx="150.4" cy="517.7" r="1.0" fill="#F8766D" fill-opacity="0.75"/>
<circle cx="127.6" cy="517.8" r="1.0" fill="#F8766D" fill-opacity="0.75"/>
<circle cx="138.6" cy="520.0" r="1.0" fill="#F8766D" fill-opacity="0.75"/>
<circle cx="136.7" cy="519.3" r="1.0" fill="#F8766D" fill-opacity="0.75"/>
<circle cx="147.2" cy="517.3" r="1.0" fill="#F8766D" fill-opacity="0.75"/>
<circle cx="141.8" cy="520.2" r="1.0" fill="#F8766D" fill-opacity="0.75"/>
<circle cx="140.3" cy="518.7" r="1.0" fill="#F8766D" fill-opacity="0.75"/>
<circle cx="135.4" cy="520.0" r="1.0" fill="#F8766D" fill-opacity="0.75"/>
<circle cx="150.5" cy="517.3" r="1.0" fill="#F8766D" fill-opacity="0.75"/>
<circle cx="140.4" cy="518.3" r="1.0" fill="#F8766D" fill-opacity="0.75"/>
<circle cx="143.3" cy="517.4" r="1.0" fill="#F8766D" fill-opacity="0.75"/>
<circle cx="133.4" cy="517.9" r="1.0" fill="#F8766D" fill-opacity="0.75"/>
<circle cx="138.6" cy="519.5" r="1.0" fill="#F8766D" fill-opacity="0.75"/>
<circle cx="147.8" cy="519.5" r="1.0" fill="#F8766D" fill-opacity="0.75"/>
<circle cx="143.4" cy="517.3" r="1.0" fill="#F8766D" fill-opacity="0.75"/>
<circle cx="136.4" cy="519.1" r="1.0" fill="#F8766D" fill-opacity="0.75"/>
<circle cx="134.1" cy="518.6" r="1.0" fill="#F8766D" fill-opacity="0.75"/>
<circle cx="148.9" cy="517.4" r="1.0" fill="#F8766D" fill-opacity="0.75"/>
<circle cx="147.7" cy="517.3" r="1.0" fill="#F8766D" fill-opacity="0.75"/>
<circle cx="136.4" cy="519.9" r="1.0" fill="#F8766D" fill-opacity="0.75"/>
<circle cx="131.9" cy="518.7" r="1.0" fill="#F8766D" fill-opacity="0.75"/>
<circle cx="137.1" cy="519.8" r="1.0" fill="#F8766D" fill-opacity="0.75"/>
<circle cx="151.0" cy="517.9" r="1.0" fill="#F8766D" fill-opacity="0.75"/>
<circle cx="138.9" cy="519.9" r="1.0" fill="#F8766D" fill-opacity="0.75"/>
<circle cx="140.2" cy="517.7" r="1.0" fill="#F8766D" fill-opacity="0.75"/>
<circle cx="145.4" cy="518.1" r="1.0" fill="#F8766D" fill-opacity="0.75"/>
<circle cx="138.8" cy="517.0" r="1.0" fill="#F8766D" fill-opacity="0.75"/>
<circle cx="150.9" cy="519.1" r="1.0" fill="#F8766D" fill-opacity="0.75"/>
<circle cx="149.4" cy="520.1" r="1.0" fill="#F8766D" fill-opacity="0.75"/>
<circle cx="133.5" cy="518.7" r="1.0" fill="#F8766D" fill-opacity="0.75"/>
<circle cx="137.7" cy="519.4" r="1.0" fill="#F8766D" fill-opacity="0.75"/>
<circle cx="147.4" cy="517.7" r="1.0" fill="#F8766D" fill-opacity="0.75"/>
<circle cx="133.6" cy="519.3" r="1.0" fill="#F8766D" fill-opacity="0.75"/>
<circle cx="137.0" cy="517.4" r="1.0" fill="#F8766D" fill-opacity="0.75"/>
<circle cx="131.7" cy="518.8" r="1.0" fill="#F8766D" fill-opacity="0.75"/>
<circle cx="141.5" cy="520.1" r="1.0" fill="#F8766D" fill-opacity="0.75"/>
<circle cx="139.9" cy="518.9" r="1.0" fill="#F8766D" fill-opacity="0.75"/>
<circle cx="130.6" cy="518.3" r="1.0" fill="#F8766D" fill-opacity="0.75"/>
<circle cx="133.8" cy="519.2" r="1.0" fill="#F8766D" fill-opacity="0.75"/>
<circle cx="133.5" cy="517.7" r="1.0" fill="#F8766D" fill-opacity="0.75"/>
<circle cx="135.9" cy="518.5" r="1.0" fill="#F8766D" fill-opacity="0.75"/>
<circle cx="135.2" cy="518.9" r="1.0" fill="#F8766D" fill-opacity="0.75"/>
<circle cx="131.4" cy="519.8" r="1.0" fill="#F8766D" fill-opacity="0.75"/>
<circle cx="143.8" cy="518.7" r="1.0" fill="#F8766D" fill-opacity="0.75"/>
<circle cx="128.4" cy="518.0" r="1.0" fill="#F8766D" fill-opacity="0.75"/>
<circle cx="143.5" cy="549.1" r="1.0" fill="#F8766D" fill-opacity="0.75"/>
<circle cx="146.5" cy="550.0" r="1.0" fill="#F8766D" fill-opacity="0.75"/>
<circle cx="134.1" cy="548.5" r="1.0" fill="#F8766D" fill-opacity="0.75"/>
<circle cx="134.5" cy="547.1" r="1.0" fill="#F8766D" fill-opacity="0.75"/>
<circle cx="129.7" cy="547.6" r="1.0" fill="#F8766D" fill-opacity="0.75"/>
<circle cx="128.4" cy="548.6" r="1.0" fill="#F8766D" fill-opacity="0.75"/>
<circle cx="143.8" cy="548.7" r="1.0" fill="#F8766D" fill-opacity="0.75"/>
<circle cx="143.3" cy="547.5" r="1.0" fill="#F8766D" fill-opacity="0.75"/>
<circle cx="131.2" cy="548.8" r="1.0" fill="#F8766D" fill-opacity="0.75"/>
<circle cx="148.3" cy="548.2" r="1.0" fill="#F8766D" fill-opacity="0.75"/>
<circle cx="126.3" cy="546.7" r="1.0" fill="#F8766D" fill-opacity="0.75"/>
<circle cx="133.8" cy="548.9" r="1.0" fill="#F8766D" fill-opacity="0.75"/>
<circle cx="128.3" cy="547.5" r="1.0" fill="#F8766D" fill-opacity="0.75"/>
<circle cx="143.2" cy="550.3" r="1.0" fill="#F8766D" fill-opacity="0.75"/>
<circle cx="134.7" cy="548.9" r="1.0" fill="#F8766D" fill-opacity="0.75"/>
<circle cx="139.2" cy="546.7" r="1.0" fill="#F8766D" fill-opacity="0.75"/>
<circle cx="134.4" cy="547.1" r="1.0" fill="#F8766D" fill-opacity="0.75"/>
<circle cx="132.5" cy="549.5" r="1.0" fill="#F8766D" fill-opacity="0.75"/>
<circle cx="143.2" cy="546.8" r="1.0" fill="#F8766D" fill-opacity="0.75"/>
<circle cx="128.1" cy="549.4" r="1.0" fill="#F8766D" fill-opacity="0.75"/>
<circle cx="128.8" cy="547.8" r="1.0" fill="#F8766D" fill-opacity="0.75"/>
<circle cx="132.9" cy="546.8" r="1.0" fill="#F8766D" fill-opacity="0.75"/>
<circle cx="127.0" cy="547.1" r="1.0" fill="#F8766D" fill-opacity="0.75"/>
<circle cx="136.2" cy="550.1" r="1.0" fill="#F8766D" fill-opacity="0.75"/>
<circle cx="142.2" cy="547.5" r="1.0" fill="#F8766D" fill-opacity="0.75"/>
<circle cx="143.2" cy="547.6" r="1.0" fill="#F8766D" fill-opacity="0.75"/>
<circle cx="139.1" cy="547.8" r="1.0" fill="#F8766D" fill-opacity="0.75"/>
<circle cx="149.9" cy="547.9" r="1.0" fill="#F8766D" fill-opacity="0.75"/>
<circle cx="146.3" cy="549.0" r="1.0" fill="#F8766D" fill-opacity="0.75"/>
<circle cx="147.3" cy="548.9" r="1.0" fill="#F8766D" fill-opacity="0.75"/>
<circle cx="148.0" cy="548.1" r="1.0" fill="#F8766D" fill-opacity="0.75"/>
<circle cx="143.2" cy="549.0" r="1.0" fill="#F8766D" fill-opacity="0.75"/>
<circle cx="139.4" cy="548.7" r="1.0" fill="#F8766D" fill-opacity="0.75"/>
<circle cx="139.6" cy="548.1" r="1.0" fill="#F8766D" fill-opacity="0.75"/>
<circle cx="148.7" cy="549.0" r="1.0" fill="#F8766D" fill-opacity="0.75"/>
<circle cx="139.9" cy="546.8" r="1.0" fill="#F8766D" fill-opacity="0.75"/>
<circle cx="138.9" cy="547.3" r="1.0" fill="#F8766D" fill-opacity="0.75"/>
<circle cx="131.6" cy="548.3" r="1.0" fill="#F8766D" fill-opacity="0.75"/>
<circle cx="139.8" cy="547.6" r="1.0" fill="#F8766D" fill-opacity="0.75"/>
<circle cx="133.0" cy="548.6" r="1.0" fill="#F8766D" fill-opacity="0.75"/>
<circle cx="138.0" cy="548.1" r="1.0" fill="#F8766D" fill-opacity="0.75"/>
<circle cx="128.8" cy="548.0" r="1.0" fill="#F8766D" fill-opacity="0.75"/>
<circle cx="142.6" cy="548.7" r="1.0" fill="#F8766D" fill-opacity="0.75"/>
<circle cx="139.8" cy="549.8" r="1.0" fill="#F8766D" fill-opacity="0.75"/>
<circle cx="144.3" cy="549.2" r="1.0" fill="#F8766D" fill-opacity="0.75"/>
<circle cx="127.0" cy="547.8" r="1.0" fill="#F8766D" fill-opacity="0.75"/>
<circle cx="143.3" cy="547.2" r="1.0" fill="#F8766D" fill-opacity="0.75"/>
<circle cx="149.0" cy="547.1" r="1.0" fill="#F8766D" fill-opacity="0.75"/>
<circle cx="148.2" cy="547.4" r="1.0" fill="#F8766D" fill-opacity="0.75"/>
<circle cx="147.2" cy="549.8" r="1.0" fill="#F8766D" fill-opacity="0.75"/>
<circle cx="134.6" cy="550.0" r="1.0" fill="#F8766D" fill-opacity="0.75"/>
<circle cx="130.2" cy="549.8" r="1.0" fill="#F8766D" fill-opacity="0.75"/>
<circle cx="135.7" cy="548.3" r="1.0" fill="#F8766D" fill-opacity="0.75"/>
<circle cx="129.1" cy="548.9" r="1.0" fill="#F8766D" fill-opacity="0.75"/>
<circle cx="132.9" cy="549.1" r="1.0" fill="#F8766D" fill-opacity="0.75"/>
<circle cx="146.2" cy="548.9" r="1.0" fill="#F8766D" fill-opacity="0.75"/>
<circle cx="126.4" cy="550.2" r="1.0" fill="#F8766D" fill-opacity="0.75"/>
<circle cx="149.2" cy="549.0" r="1.0" fill="#F8766D" fill-opacity="0.75"/>
<circle cx="135.7" cy="548.7" r="1.0" fill="#F8766D" fill-opacity="0.75"/>
<circle cx="148.3" cy="548.3" r="1.0" fill="#F8766D" fill-opacity="0.75"/>
<circle cx="145.7" cy="548.9" r="1.0" fill="#F8766D" fill-opacity="0.75"/>
<circle cx="136.8" cy="550.1" r="1.0" fill="#F8766D" fill-opacity="0.75"/>
<circle cx="136.4" cy="548.9" r="1.0" fill="#F8766D" fill-opacity="0.75"/>
<circle cx="127.5" cy="548.4" r="1.0" fill="#F8766D" fill-opacity="0.75"/>
<circle cx="127.1" cy="549.3" r="1.0" fill="#F8766D" fill-opacity="0.75"/>
<circle cx="126.2" cy="546.8" r="1.0" fill="#F8766D" fill-opacity="0.75"/>
<circle cx="129.0" cy="577.5" r="1.0" fill="#F8766D" fill-opacity="0.75"/>
<circle cx="139.1" cy="578.2" r="1.0" fill="#F8766D" fill-opacity="0.75"/>
<circle cx="133.1" cy="580.3" r="1.0" fill="#F8766D" fill-opacity="0.75"/>
<circle cx="149.3" cy="579.2" r="1.0" fill="#F8766D" fill-opacity="0.75"/>
<circle cx="146.6" cy="579.8" r="1.0" fill="#F8766D" fill-opacity="0.75"/>
<circle cx="132.4" cy="579.7" r="1.0" fill="#F8766D" fill-opacity="0.75"/>
<circle cx="132.3" cy="578.9" r="1.0" fill="#F8766D" fill-opacity="0.75"/>
<circle cx="135.3" cy="577.5" r="1.0" fill="#F8766D" fill-opacity="0.75"/>
<circle cx="145.9" cy="580.1" r="1.0" fill="#F8766D" fill-opacity="0.75"/>
<circle cx="134.2" cy="580.0" r="1.0" fill="#F8766D" fill-opacity="0.75"/>
<circle cx="135.0" cy="579.2" r="1.0" fill="#F8766D" fill-opacity="0.75"/>
<circle cx="151.5" cy="579.6" r="1.0" fill="#F8766D" fill-opacity="0.75"/>
<circle cx="127.6" cy="578.5" r="1.0" fill="#F8766D" fill-opacity="0.75"/>
<circle cx="135.8" cy="578.0" r="1.0" fill="#F8766D" fill-opacity="0.75"/>
<circle cx="146.9" cy="578.5" r="1.0" fill="#F8766D" fill-opacity="0.75"/>
<circle cx="144.0" cy="579.2" r="1.0" fill="#F8766D" fill-opacity="0.75"/>
<circle cx="139.4" cy="577.2" r="1.0" fill="#F8766D" fill-opacity="0.75"/>
<circle cx="143.3" cy="580.0" r="1.0" fill="#F8766D" fill-opacity="0.75"/>
<circle cx="130.6" cy="579.2" r="1.0" fill="#F8766D" fill-opacity="0.75"/>
<circle cx="138.6" cy="578.2" r="1.0" fill="#F8766D" fill-opacity="0.75"/>
<circle cx="144.2" cy="580.3" r="1.0" fill="#F8766D" fill-opacity="0.75"/>
<circle cx="126.8" cy="580.1" r="1.0" fill="#F8766D" fill-opacity="0.75"/>
<circle cx="135.9" cy="579.8" r="1.0" fill="#F8766D" fill-opacity="0.75"/>
<circle cx="130.6" cy="579.4" r="1.0" fill="#F8766D" fill-opacity="0.75"/>
<circle cx="128.7" cy="578.1" r="1.0" fill="#F8766D" fill-opacity="0.75"/>
<circle cx="150.8" cy="579.2" r="1.0" fill="#F8766D" fill-opacity="0.75"/>
<circle cx="146.1" cy="578.6" r="1.0" fill="#F8766D" fill-opacity="0.75"/>
<circle cx="138.2" cy="578.7" r="1.0" fill="#F8766D" fill-opacity="0.75"/>
<circle cx="145.8" cy="579.5" r="1.0" fill="#F8766D" fill-opacity="0.75"/>
<circle cx="131.1" cy="578.5" r="1.0" fill="#F8766D" fill-opacity="0.75"/>
<circle cx="140.0" cy="578.9" r="1.0" fill="#F8766D" fill-opacity="0.75"/>
<circle cx="149.7" cy="579.9" r="1.0" fill="#F8766D" fill-opacity="0.75"/>
<circle cx="130.0" cy="578.3" r="1.0" fill="#F8766D" fill-opacity="0.75"/>
<circle cx="129.0" cy="577.1" r="1.0" fill="#F8766D" fill-opacity="0.75"/>
<circle cx="128.1" cy="577.6" r="1.0" fill="#F8766D" fill-opacity="0.75"/>
<circle cx="145.7" cy="579.3" r="1.0" fill="#F8766D" fill-opacity="0.75"/>
<circle cx="146.5" cy="578.0" r="1.0" fill="#F8766D" fill-opacity="0.75"/>
<circle cx="130.1" cy="580.3" r="1.0" fill="#F8766D" fill-opacity="0.75"/>
<circle cx="147.2" cy="580.2" r="1.0" fill="#F8766D" fill-opacity="0.75"/>
<circle cx="126.7" cy="578.3" r="1.0" fill="#F8766D" fill-opacity="0.75"/>
<circle cx="142.3" cy="579.5" r="1.0" fill="#F8766D" fill-opacity="0.75"/>
<circle cx="149.4" cy="578.8" r="1.0" fill="#F8766D" fill-opacity="0.75"/>
<circle cx="136.1" cy="577.0" r="1.0" fill="#F8766D" fill-opacity="0.75"/>
<circle cx="146.6" cy="580.3" r="1.0" fill="#F8766D" fill-opacity="0.75"/>
<circle cx="149.2" cy="579.3" r="1.0" fill="#F8766D" fill-opacity="0.75"/>
<circle cx="134.9" cy="577.8" r="1.0" fill="#F8766D" fill-opacity="0.75"/>
<circle cx="145.9" cy="580.2" r="1.0" fill="#F8766D" fill-opacity="0.75"/>
<circle cx="150.6" cy="577.6" r="1.0" fill="#F8766D" fill-opacity="0.75"/>
<circle cx="190.5" cy="563.4" r="1.0" fill="#F8766D" fill-opacity="0.75"/>
<circle cx="186.6" cy="564.2" r="1.0" fill="#F8766D" fill-opacity="0.75"/>
<circle cx="199.0" cy="564.0" r="1.0" fill="#F8766D" fill-opacity="0.75"/>
<circle cx="193.3" cy="563.9" r="1.0" fill="#F8766D" fill-opacity="0.75"/>
<circle cx="192.1" cy="563.5" r="1.0" fill="#F8766D" fill-opacity="0.75"/>
<circle cx="182.2" cy="564.2" r="1.0" fill="#F8766D" fill-opacity="0.75"/>
<circle cx="179.1" cy="563.8" r="1.0" fill="#F8766D" fill-opacity="0.75"/>
<circle cx="185.6" cy="563.6" r="1.0" fill="#F8766D" fill-opacity="0.75"/>
<circle cx="191.9" cy="563.3" r="1.0" fill="#F8766D" fill-opacity="0.75"/>
<circle cx="200.1" cy="562.7" r="1.0" fill="#F8766D" fill-opacity="0.75"/>
<circle cx="176.5" cy="564.7" r="1.0" fill="#F8766D" fill-opacity="0.75"/>
<circle cx="183.8" cy="562.8" r="1.0" fill="#F8766D" fill-opacity="0.75"/>
<circle cx="186.3" cy="563.7" r="1.0" fill="#F8766D" fill-opacity="0.75"/>
<circle cx="200.3" cy="564.0" r="1.0" fill="#F8766D" fill-opacity="0.75"/>
<circle cx="184.0" cy="563.5" r="1.0" fill="#F8766D" fill-opacity="0.75"/>
<circle cx="187.1" cy="563.4" r="1.0" fill="#F8766D" fill-opacity="0.75"/>
<circle cx="186.4" cy="562.5" r="1.0" fill="#F8766D" fill-opacity="0.75"/>
<circle cx="185.8" cy="563.1" r="1.0" fill="#F8766D" fill-opacity="0.75"/>
<circle cx="181.1" cy="564.3" r="1.0" fill="#F8766D" fill-opacity="0.75"/>
<circle cx="185.0" cy="562.4" r="1.0" fill="#F8766D" fill-opacity="0.75"/>
<circle cx="190.0" cy="564.4" r="1.0" fill="#F8766D" fill-opacity="0.75"/>
<circle cx="195.2" cy="563.7" r="1.0" fill="#F8766D" fill-opacity="0.75"/>
<circle cx="194.0" cy="562.9" r="1.0" fill="#F8766D" fill-opacity="0.75"/>
<circle cx="179.7" cy="562.7" r="1.0" fill="#F8766D" fill-opacity="0.75"/>
<circle cx="184.7" cy="562.8" r="1.0" fill="#F8766D" fill-opacity="0.75"/>
<circle cx="187.6" cy="562.4" r="1.0" fill="#F8766D" fill-opacity="0.75"/>
<circle cx="179.4" cy="562.7" r="1.0" fill="#F8766D" fill-opacity="0.75"/>
<circle cx="181.0" cy="564.2" r="1.0" fill="#F8766D" fill-opacity="0.75"/>
<circle cx="189.3" cy="562.6" r="1.0" fill="#F8766D" fill-opacity="0.75"/>
<circle cx="186.7" cy="564.4" r="1.0" fill="#F8766D" fill-opacity="0.75"/>
<circle cx="190.3" cy="563.6" r="1.0" fill="#F8766D" fill-opacity="0.75"/>
<circle cx="185.7" cy="562.5" r="1.0" fill="#F8766D" fill-opacity="0.75"/>
<circle cx="191.2" cy="577.4" r="1.0" fill="#F8766D" fill-opacity="0.75"/>
<circle cx="195.3" cy="577.4" r="1.0" fill="#F8766D" fill-opacity="0.75"/>
<circle cx="194.3" cy="578.3" r="1.0" fill="#F8766D" fill-opacity="0.75"/>
<circle cx="192.7" cy="578.9" r="1.0" fill="#F8766D" fill-opacity="0.75"/>
<circle cx="178.8" cy="578.7" r="1.0" fill="#F8766D" fill-opacity="0.75"/>
<circle cx="177.5" cy="577.9" r="1.0" fill="#F8766D" fill-opacity="0.75"/>
<circle cx="185.1" cy="578.0" r="1.0" fill="#F8766D" fill-opacity="0.75"/>
<circle cx="192.1" cy="580.0" r="1.0" fill="#F8766D" fill-opacity="0.75"/>
<circle cx="184.5" cy="579.5" r="1.0" fill="#F8766D" fill-opacity="0.75"/>
<circle cx="181.2" cy="579.2" r="1.0" fill="#F8766D" fill-opacity="0.75"/>
<circle cx="184.3" cy="578.7" r="1.0" fill="#F8766D" fill-opacity="0.75"/>
<circle cx="177.8" cy="579.5" r="1.0" fill="#F8766D" fill-opacity="0.75"/>
<circle cx="180.8" cy="578.5" r="1.0" fill="#F8766D" fill-opacity="0.75"/>
<circle cx="182.9" cy="579.5" r="1.0" fill="#F8766D" fill-opacity="0.75"/>
<circle cx="190.4" cy="578.9" r="1.0" fill="#F8766D" fill-opacity="0.75"/>
<circle cx="194.5" cy="577.9" r="1.0" fill="#F8766D" fill-opacity="0.75"/>
<circle cx="177.1" cy="579.5" r="1.0" fill="#F8766D" fill-opacity="0.75"/>
<circle cx="183.5" cy="579.5" r="1.0" fill="#F8766D" fill-opacity="0.75"/>
<circle cx="199.5" cy="579.0" r="1.0" fill="#F8766D" fill-opacity="0.75"/>
<circle cx="178.2" cy="579.6" r="1.0" fill="#F8766D" fill-opacity="0.75"/>
<circle cx="191.4" cy="577.9" r="1.0" fill="#F8766D" fill-opacity="0.75"/>
<circle cx="180.8" cy="578.6" r="1.0" fill="#F8766D" fill-opacity="0.75"/>
<circle cx="178.6" cy="579.7" r="1.0" fill="#F8766D" fill-opacity="0.75"/>
<circle cx="193.3" cy="579.5" r="1.0" fill="#F8766D" fill-opacity="0.75"/>
<circle cx="185.2" cy="579.8" r="1.0" fill="#F8766D" fill-opacity="0.75"/>
<circle cx="178.9" cy="579.2" r="1.0" fill="#F8766D" fill-opacity="0.75"/>
<circle cx="182.0" cy="577.2" r="1.0" fill="#F8766D" fill-opacity="0.75"/>
<circle cx="178.6" cy="577.8" r="1.0" fill="#F8766D" fill-opacity="0.75"/>
<circle cx="194.7" cy="578.3" r="1.0" fill="#F8766D" fill-opacity="0.75"/>
<circle cx="187.7" cy="578.9" r="1.0" fill="#F8766D" fill-opacity="0.75"/>
<circle cx="231.2" cy="639.0" r="1.0" fill="#F8766D" fill-opacity="0.75"/>
<circle cx="241.4" cy="639.9" r="1.0" fill="#F8766D" fill-opacity="0.75"/>
<circle cx="237.1" cy="639.7" r="1.0" fill="#F8766D" fill-opacity="0.75"/>
<circle cx="248.8" cy="639.5" r="1.0" fill="#F8766D" fill-opacity="0.75"/>
<circle cx="235.1" cy="637.9" r="1.0" fill="#F8766D" fill-opacity="0.75"/>
<circle cx="227.0" cy="639.7" r="1.0" fill="#F8766D" fill-opacity="0.75"/>
<circle cx="227.8" cy="638.8" r="1.0" fill="#F8766D" fill-opacity="0.75"/>
<circle cx="235.9" cy="637.1" r="1.0" fill="#F8766D" fill-opacity="0.75"/>
<circle cx="229.9" cy="639.6" r="1.0" fill="#F8766D" fill-opacity="0.75"/>
<circle cx="238.0" cy="640.0" r="1.0" fill="#F8766D" fill-opacity="0.75"/>
<circle cx="247.3" cy="637.3" r="1.0" fill="#F8766D" fill-opacity="0.75"/>
<circle cx="241.5" cy="637.1" r="1.0" fill="#F8766D" fill-opacity="0.75"/>
<circle cx="235.1" cy="638.4" r="1.0" fill="#F8766D" fill-opacity="0.75"/>
<circle cx="248.5" cy="638.9" r="1.0" fill="#F8766D" fill-opacity="0.75"/>
<circle cx="229.3" cy="638.6" r="1.0" fill="#F8766D" fill-opacity="0.75"/>
<circle cx="237.6" cy="637.6" r="1.0" fill="#F8766D" fill-opacity="0.75"/>
<circle cx="233.5" cy="639.8" r="1.0" fill="#F8766D" fill-opacity="0.75"/>
<circle cx="249.1" cy="639.5" r="1.0" fill="#F8766D" fill-opacity="0.75"/>
<circle cx="226.1" cy="639.9" r="1.0" fill="#F8766D" fill-opacity="0.75"/>
<circle cx="236.0" cy="639.7" r="1.0" fill="#F8766D" fill-opacity="0.75"/>
<circle cx="228.9" cy="637.5" r="1.0" fill="#F8766D" fill-opacity="0.75"/>
<circle cx="247.3" cy="637.9" r="1.0" fill="#F8766D" fill-opacity="0.75"/>
<circle cx="225.6" cy="638.6" r="1.0" fill="#F8766D" fill-opacity="0.75"/>
<circle cx="249.4" cy="639.7" r="1.0" fill="#F8766D" fill-opacity="0.75"/>
<circle cx="234.4" cy="640.2" r="1.0" fill="#F8766D" fill-opacity="0.75"/>
<circle cx="244.5" cy="639.7" r="1.0" fill="#F8766D" fill-opacity="0.75"/>
<circle cx="240.7" cy="638.3" r="1.0" fill="#F8766D" fill-opacity="0.75"/>
<circle cx="247.2" cy="638.5" r="1.0" fill="#F8766D" fill-opacity="0.75"/>
<circle cx="248.0" cy="638.8" r="1.0" fill="#F8766D" fill-opacity="0.75"/>
<circle cx="247.3" cy="638.5" r="1.0" fill="#F8766D" fill-opacity="0.75"/>
<circle cx="235.2" cy="638.9" r="1.0" fill="#F8766D" fill-opacity="0.75"/>
<circle cx="232.5" cy="637.5" r="1.0" fill="#F8766D" fill-opacity="0.75"/>
<circle cx="239.3" cy="639.7" r="1.0" fill="#F8766D" fill-opacity="0.75"/>
<circle cx="231.5" cy="639.8" r="1.0" fill="#F8766D" fill-opacity="0.75"/>
<circle cx="244.3" cy="639.5" r="1.0" fill="#F8766D" fill-opacity="0.75"/>
<circle cx="234.9" cy="640.2" r="1.0" fill="#F8766D" fill-opacity="0.75"/>
<circle cx="244.4" cy="638.8" r="1.0" fill="#F8766D" fill-opacity="0.75"/>
<circle cx="227.3" cy="638.8" r="1.0" fill="#F8766D" fill-opacity="0.75"/>
<circle cx="224.9" cy="639.9" r="1.0" fill="#F8766D" fill-opacity="0.75"/>
<circle cx="233.0" cy="638.2" r="1.0" fill="#F8766D" fill-opacity="0.75"/>
<circle cx="287.9" cy="639.5" r="1.0" fill="#F8766D" fill-opacity="0.75"/>
<circle cx="288.7" cy="638.9" r="1.0" fill="#F8766D" fill-opacity="0.75"/>
<circle cx="290.0" cy="640.2" r="1.0" fill="#F8766D" fill-opacity="0.75"/>
<circle cx="285.3" cy="639.0" r="1.0" fill="#F8766D" fill-opacity="0.75"/>
<circle cx="294.4" cy="637.2" r="1.0" fill="#F8766D" fill-opacity="0.75"/>
<circle cx="278.1" cy="638.4" r="1.0" fill="#F8766D" fill-opacity="0.75"/>
<circle cx="279.5" cy="640.4" r="1.0" fill="#F8766D" fill-opacity="0.75"/>
<circle cx="277.8" cy="637.6" r="1.0" fill="#F8766D" fill-opacity="0.75"/>
<circle cx="282.1" cy="639.0" r="1.0" fill="#F8766D" fill-opacity="0.75"/>
<circle cx="294.7" cy="640.8" r="1.0" fill="#F8766D" fill-opacity="0.75"/>
<circle cx="295.5" cy="639.4" r="1.0" fill="#F8766D" fill-opacity="0.75"/>
<circle cx="275.0" cy="637.4" r="1.0" fill="#F8766D" fill-opacity="0.75"/>
<circle cx="289.9" cy="640.2" r="1.0" fill="#F8766D" fill-opacity="0.75"/>
<circle cx="280.8" cy="640.7" r="1.0" fill="#F8766D" fill-opacity="0.75"/>
<circle cx="287.9" cy="639.3" r="1.0" fill="#F8766D" fill-opacity="0.75"/>
<circle cx="289.6" cy="637.5" r="1.0" fill="#F8766D" fill-opacity="0.75"/>
<circle cx="278.4" cy="640.6" r="1.0" fill="#F8766D" fill-opacity="0.75"/>
<circle cx="280.8" cy="637.5" r="1.0" fill="#F8766D" fill-opacity="0.75"/>
<circle cx="281.2" cy="639.8" r="1.0" fill="#F8766D" fill-opacity="0.75"/>
<circle cx="280.7" cy="638.0" r="1.0" fill="#F8766D" fill-opacity="0.75"/>
<circle cx="281.1" cy="638.9" r="1.0" fill="#F8766D" fill-opacity="0.75"/>
<circle cx="292.6" cy="638.3" r="1.0" fill="#F8766D" fill-opacity="0.75"/>
<circle cx="296.0" cy="640.7" r="1.0" fill="#F8766D" fill-opacity="0.75"/>
<circle cx="294.7" cy="637.5" r="1.0" fill="#F8766D" fill-opacity="0.75"/>
<circle cx="282.0" cy="640.5" r="1.0" fill="#F8766D" fill-opacity="0.75"/>
<circle cx="295.7" cy="637.7" r="1.0" fill="#F8766D" fill-opacity="0.75"/>
<circle cx="285.2" cy="638.5" r="1.0" fill="#F8766D" fill-opacity="0.75"/>
<circle cx="292.9" cy="637.3" r="1.0" fill="#F8766D" fill-opacity="0.75"/>
<circle cx="282.0" cy="639.9" r="1.0" fill="#F8766D" fill-opacity="0.75"/>
<circle cx="296.4" cy="637.3" r="1.0" fill="#F8766D" fill-opacity="0.75"/>
<circle cx="288.9" cy="639.6" r="1.0" fill="#F8766D" fill-opacity="0.75"/>
<circle cx="296.0" cy="638.7" r="1.0" fill="#F8766D" fill-opacity="0.75"/>
<circle cx="298.5" cy="637.9" r="1.0" fill="#F8766D" fill-opacity="0.75"/>
<circle cx="277.0" cy="637.7" r="1.0" fill="#F8766D" fill-opacity="0.75"/>
<circle cx="288.8" cy="637.6" r="1.0" fill="#F8766D" fill-opacity="0.75"/>
<circle cx="280.8" cy="637.9" r="1.0" fill="#F8766D" fill-opacity="0.75"/>
<circle cx="275.5" cy="640.7" r="1.0" fill="#F8766D" fill-opacity="0.75"/>
<circle cx="282.5" cy="640.7" r="1.0" fill="#F8766D" fill-opacity="0.75"/>
<circle cx="292.3" cy="638.0" r="1.0" fill="#F8766D" fill-opacity="0.75"/>
<circle cx="297.5" cy="637.2" r="1.0" fill="#F8766D" fill-opacity="0.75"/>
<circle cx="298.7" cy="637.3" r="1.0" fill="#F8766D" fill-opacity="0.75"/>
<circle cx="280.5" cy="639.2" r="1.0" fill="#F8766D" fill-opacity="0.75"/>
<circle cx="274.3" cy="640.0" r="1.0" fill="#F8766D" fill-opacity="0.75"/>
<circle cx="276.2" cy="640.1" r="1.0" fill="#F8766D" fill-opacity="0.75"/>
<circle cx="275.0" cy="639.1" r="1.0" fill="#F8766D" fill-opacity="0.75"/>
<circle cx="279.4" cy="638.2" r="1.0" fill="#F8766D" fill-opacity="0.75"/>
<circle cx="286.4" cy="638.5" r="1.0" fill="#F8766D" fill-opacity="0.75"/>
<circle cx="283.9" cy="639.6" r="1.0" fill="#F8766D" fill-opacity="0.75"/>
<circle cx="279.0" cy="637.9" r="1.0" fill="#F8766D" fill-opacity="0.75"/>
<circle cx="291.3" cy="638.3" r="1.0" fill="#F8766D" fill-opacity="0.75"/>
<circle cx="297.5" cy="638.7" r="1.0" fill="#F8766D" fill-opacity="0.75"/>
<circle cx="286.0" cy="637.3" r="1.0" fill="#F8766D" fill-opacity="0.75"/>
<circle cx="274.6" cy="637.6" r="1.0" fill="#F8766D" fill-opacity="0.75"/>
<circle cx="289.8" cy="639.6" r="1.0" fill="#F8766D" fill-opacity="0.75"/>
<circle cx="298.0" cy="638.8" r="1.0" fill="#F8766D" fill-opacity="0.75"/>
<circle cx="291.9" cy="638.4" r="1.0" fill="#F8766D" fill-opacity="0.75"/>
<circle cx="276.0" cy="638.7" r="1.0" fill="#F8766D" fill-opacity="0.75"/>
<circle cx="291.7" cy="640.1" r="1.0" fill="#F8766D" fill-opacity="0.75"/>
<circle cx="298.0" cy="640.2" r="1.0" fill="#F8766D" fill-opacity="0.75"/>
<circle cx="288.2" cy="639.2" r="1.0" fill="#F8766D" fill-opacity="0.75"/>
<circle cx="286.7" cy="638.9" r="1.0" fill="#F8766D" fill-opacity="0.75"/>
<circle cx="291.2" cy="639.3" r="1.0" fill="#F8766D" fill-opacity="0.75"/>
<circle cx="295.6" cy="638.8" r="1.0" fill="#F8766D" fill-opacity="0.75"/>
<circle cx="285.9" cy="640.2" r="1.0" fill="#F8766D" fill-opacity="0.75"/>
<circle cx="291.1" cy="639.1" r="1.0" fill="#F8766D" fill-opacity="0.75"/>
<circle cx="288.2" cy="640.1" r="1.0" fill="#F8766D" fill-opacity="0.75"/>
<circle cx="289.3" cy="638.1" r="1.0" fill="#F8766D" fill-opacity="0.75"/>
<circle cx="281.9" cy="639.4" r="1.0" fill="#F8766D" fill-opacity="0.75"/>
<circle cx="275.3" cy="638.8" r="1.0" fill="#F8766D" fill-opacity="0.75"/>
<circle cx="296.5" cy="638.0" r="1.0" fill="#F8766D" fill-opacity="0.75"/>
<circle cx="285.2" cy="639.7" r="1.0" fill="#F8766D" fill-opacity="0.75"/>
<circle cx="297.3" cy="639.7" r="1.0" fill="#F8766D" fill-opacity="0.75"/>
<circle cx="289.8" cy="638.6" r="1.0" fill="#F8766D" fill-opacity="0.75"/>
<circle cx="285.1" cy="639.5" r="1.0" fill="#F8766D" fill-opacity="0.75"/>
<circle cx="283.0" cy="640.0" r="1.0" fill="#F8766D" fill-opacity="0.75"/>
<circle cx="274.3" cy="639.9" r="1.0" fill="#F8766D" fill-opacity="0.75"/>
<circle cx="292.7" cy="638.3" r="1.0" fill="#F8766D" fill-opacity="0.75"/>
<circle cx="274.5" cy="638.4" r="1.0" fill="#F8766D" fill-opacity="0.75"/>
<circle cx="288.9" cy="640.0" r="1.0" fill="#F8766D" fill-opacity="0.75"/>
<circle cx="295.9" cy="638.0" r="1.0" fill="#F8766D" fill-opacity="0.75"/>
<circle cx="325.2" cy="637.7" r="1.0" fill="#F8766D" fill-opacity="0.75"/>
<circle cx="347.9" cy="639.3" r="1.0" fill="#F8766D" fill-opacity="0.75"/>
<circle cx="326.4" cy="639.4" r="1.0" fill="#F8766D" fill-opacity="0.75"/>
<circle cx="347.2" cy="639.2" r="1.0" fill="#F8766D" fill-opacity="0.75"/>
<circle cx="329.0" cy="640.3" r="1.0" fill="#F8766D" fill-opacity="0.75"/>
<circle cx="340.7" cy="637.9" r="1.0" fill="#F8766D" fill-opacity="0.75"/>
<circle cx="342.4" cy="638.9" r="1.0" fill="#F8766D" fill-opacity="0.75"/>
<circle cx="337.6" cy="638.4" r="1.0" fill="#F8766D" fill-opacity="0.75"/>
<circle cx="330.5" cy="638.6" r="1.0" fill="#F8766D" fill-opacity="0.75"/>
<circle cx="336.4" cy="638.7" r="1.0" fill="#F8766D" fill-opacity="0.75"/>
<circle cx="344.9" cy="637.5" r="1.0" fill="#F8766D" fill-opacity="0.75"/>
<circle cx="328.2" cy="640.2" r="1.0" fill="#F8766D" fill-opacity="0.75"/>
<circle cx="338.4" cy="639.2" r="1.0" fill="#F8766D" fill-opacity="0.75"/>
<circle cx="338.9" cy="638.1" r="1.0" fill="#F8766D" fill-opacity="0.75"/>
<circle cx="333.1" cy="638.0" r="1.0" fill="#F8766D" fill-opacity="0.75"/>
<circle cx="327.0" cy="640.4" r="1.0" fill="#F8766D" fill-opacity="0.75"/>
<circle cx="341.8" cy="640.0" r="1.0" fill="#F8766D" fill-opacity="0.75"/>
<circle cx="323.2" cy="639.5" r="1.0" fill="#F8766D" fill-opacity="0.75"/>
<circle cx="330.9" cy="638.8" r="1.0" fill="#F8766D" fill-opacity="0.75"/>
<circle cx="340.1" cy="637.4" r="1.0" fill="#F8766D" fill-opacity="0.75"/>
<circle cx="332.5" cy="639.0" r="1.0" fill="#F8766D" fill-opacity="0.75"/>
<circle cx="345.1" cy="638.9" r="1.0" fill="#F8766D" fill-opacity="0.75"/>
<circle cx="331.1" cy="639.2" r="1.0" fill="#F8766D" fill-opacity="0.75"/>
<circle cx="337.8" cy="638.2" r="1.0" fill="#F8766D" fill-opacity="0.75"/>
<circle cx="336.9" cy="638.2" r="1.0" fill="#F8766D" fill-opacity="0.75"/>
<circle cx="323.5" cy="638.3" r="1.0" fill="#F8766D" fill-opacity="0.75"/>
<circle cx="325.4" cy="638.8" r="1.0" fill="#F8766D" fill-opacity="0.75"/>
<circle cx="335.7" cy="640.0" r="1.0" fill="#F8766D" fill-opacity="0.75"/>
<circle cx="341.9" cy="639.6" r="1.0" fill="#F8766D" fill-opacity="0.75"/>
<circle cx="347.9" cy="638.1" r="1.0" fill="#F8766D" fill-opacity="0.75"/>
<circle cx="332.5" cy="638.0" r="1.0" fill="#F8766D" fill-opacity="0.75"/>
<circle cx="325.8" cy="638.9" r="1.0" fill="#F8766D" fill-opacity="0.75"/>
<circle cx="336.0" cy="637.7" r="1.0" fill="#F8766D" fill-opacity="0.75"/>
<circle cx="346.3" cy="640.3" r="1.0" fill="#F8766D" fill-opacity="0.75"/>
<circle cx="324.9" cy="637.3" r="1.0" fill="#F8766D" fill-opacity="0.75"/>
<circle cx="324.7" cy="639.6" r="1.0" fill="#F8766D" fill-opacity="0.75"/>
<circle cx="344.5" cy="637.5" r="1.0" fill="#F8766D" fill-opacity="0.75"/>
<circle cx="323.4" cy="639.0" r="1.0" fill="#F8766D" fill-opacity="0.75"/>
<circle cx="331.5" cy="637.4" r="1.0" fill="#F8766D" fill-opacity="0.75"/>
<circle cx="323.4" cy="638.0" r="1.0" fill="#F8766D" fill-opacity="0.75"/>
<circle cx="328.2" cy="638.2" r="1.0" fill="#F8766D" fill-opacity="0.75"/>
<circle cx="337.0" cy="638.1" r="1.0" fill="#F8766D" fill-opacity="0.75"/>
<circle cx="329.0" cy="638.0" r="1.0" fill="#F8766D" fill-opacity="0.75"/>
<circle cx="345.4" cy="638.0" r="1.0" fill="#F8766D" fill-opacity="0.75"/>
<circle cx="337.1" cy="638.7" r="1.0" fill="#F8766D" fill-opacity="0.75"/>
<circle cx="282.6" cy="644.3" r="1.0" fill="#F8766D" fill-opacity="0.75"/>
<circle cx="274.9" cy="642.8" r="1.0" fill="#F8766D" fill-opacity="0.75"/>
<circle cx="290.2" cy="646.8" r="1.0" fill="#F8766D" fill-opacity="0.75"/>
<circle cx="279.9" cy="642.7" r="1.0" fill="#F8766D" fill-opacity="0.75"/>
<circle cx="296.7" cy="642.2" r="1.0" fill="#F8766D" fill-opacity="0.75"/>
<circle cx="294.0" cy="647.6" r="1.0" fill="#F8766D" fill-opacity="0.75"/>
<circle cx="278.1" cy="647.3" r="1.0" fill="#F8766D" fill-opacity="0.75"/>
<circle cx="278.2" cy="641.8" r="1.0" fill="#F8766D" fill-opacity="0.75"/>
<circle cx="281.5" cy="643.9" r="1.0" fill="#F8766D" fill-opacity="0.75"/>
<circle cx="288.9" cy="644.6" r="1.0" fill="#F8766D" fill-opacity="0.75"/>
<circle cx="293.9" cy="646.2" r="1.0" fill="#F8766D" fill-opacity="0.75"/>
<circle cx="277.4" cy="642.9" r="1.0" fill="#F8766D" fill-opacity="0.75"/>
<circle cx="292.8" cy="642.3" r="1.0" fill="#F8766D" fill-opacity="0.75"/>
<circle cx="297.8" cy="647.2" r="1.0" fill="#F8766D" fill-opacity="0.75"/>
<circle cx="279.9" cy="643.5" r="1.0" fill="#F8766D" fill-opacity="0.75"/>
<circle cx="280.7" cy="644.5" r="1.0" fill="#F8766D" fill-opacity="0.75"/>
<circle cx="329.6" cy="641.7" r="1.0" fill="#F8766D" fill-opacity="0.75"/>
<circle cx="329.7" cy="642.9" r="1.0" fill="#F8766D" fill-opacity="0.75"/>
<circle cx="332.1" cy="644.7" r="1.0" fill="#F8766D" fill-opacity="0.75"/>
<circle cx="344.9" cy="646.1" r="1.0" fill="#F8766D" fill-opacity="0.75"/>
<circle cx="338.6" cy="647.6" r="1.0" fill="#F8766D" fill-opacity="0.75"/>
<circle cx="333.0" cy="644.5" r="1.0" fill="#F8766D" fill-opacity="0.75"/>
<circle cx="329.5" cy="647.3" r="1.0" fill="#F8766D" fill-opacity="0.75"/>
<circle cx="345.0" cy="647.9" r="1.0" fill="#F8766D" fill-opacity="0.75"/>
<circle cx="338.3" cy="642.3" r="1.0" fill="#F8766D" fill-opacity="0.75"/>
<circle cx="325.3" cy="647.1" r="1.0" fill="#F8766D" fill-opacity="0.75"/>
<circle cx="345.2" cy="645.2" r="1.0" fill="#F8766D" fill-opacity="0.75"/>
<circle cx="346.1" cy="648.0" r="1.0" fill="#F8766D" fill-opacity="0.75"/>
<circle cx="136.4" cy="21.4" r="1.0" fill="#F8766D" fill-opacity="0.75"/>
<circle cx="143.6" cy="37.7" r="1.0" fill="#F8766D" fill-opacity="0.75"/>
<circle cx="136.8" cy="54.9" r="1.0" fill="#F8766D" fill-opacity="0.75"/>
<circle cx="148.1" cy="55.3" r="1.0" fill="#F8766D" fill-opacity="0.75"/>
<circle cx="135.2" cy="66.6" r="1.0" fill="#F8766D" fill-opacity="0.75"/>
<circle cx="128.2" cy="71.9" r="1.0" fill="#F8766D" fill-opacity="0.75"/>
<circle cx="132.5" cy="71.7" r="1.0" fill="#F8766D" fill-opacity="0.75"/>
<circle cx="134.7" cy="72.0" r="1.0" fill="#F8766D" fill-opacity="0.75"/>
<circle cx="135.8" cy="72.5" r="1.0" fill="#F8766D" fill-opacity="0.75"/>
<circle cx="138.4" cy="73.2" r="1.0" fill="#F8766D" fill-opacity="0.75"/>
<circle cx="141.4" cy="72.8" r="1.0" fill="#F8766D" fill-opacity="0.75"/>
<circle cx="143.9" cy="71.8" r="1.0" fill="#F8766D" fill-opacity="0.75"/>
<circle cx="145.8" cy="73.4" r="1.0" fill="#F8766D" fill-opacity="0.75"/>
<circle cx="148.0" cy="71.8" r="1.0" fill="#F8766D" fill-opacity="0.75"/>
<circle cx="148.6" cy="73.3" r="1.0" fill="#F8766D" fill-opacity="0.75"/>
<circle cx="151.3" cy="73.1" r="1.0" fill="#F8766D" fill-opacity="0.75"/>
<circle cx="148.9" cy="73.0" r="1.0" fill="#F8766D" fill-opacity="0.75"/>
<circle cx="144.8" cy="72.7" r="1.0" fill="#F8766D" fill-opacity="0.75"/>
<circle cx="131.2" cy="71.6" r="1.0" fill="#F8766D" fill-opacity="0.75"/>
<circle cx="139.4" cy="71.5" r="1.0" fill="#F8766D" fill-opacity="0.75"/>
<circle cx="142.3" cy="72.6" r="1.0" fill="#F8766D" fill-opacity="0.75"/>
<circle cx="131.9" cy="71.8" r="1.0" fill="#F8766D" fill-opacity="0.75"/>
<circle cx="129.4" cy="73.1" r="1.0" fill="#F8766D" fill-opacity="0.75"/>
<circle cx="131.1" cy="79.3" r="1.0" fill="#F8766D" fill-opacity="0.75"/>
<circle cx="137.0" cy="78.1" r="1.0" fill="#F8766D" fill-opacity="0.75"/>
<circle cx="139.1" cy="78.6" r="1.0" fill="#F8766D" fill-opacity="0.75"/>
<circle cx="142.1" cy="78.2" r="1.0" fill="#F8766D" fill-opacity="0.75"/>
<circle cx="149.0" cy="78.5" r="1.0" fill="#F8766D" fill-opacity="0.75"/>
<circle cx="152.0" cy="79.7" r="1.0" fill="#F8766D" fill-opacity="0.75"/>
<circle cx="137.5" cy="79.7" r="1.0" fill="#F8766D" fill-opacity="0.75"/>
<circle cx="139.2" cy="78.8" r="1.0" fill="#F8766D" fill-opacity="0.75"/>
<circle cx="138.8" cy="79.1" r="1.0" fill="#F8766D" fill-opacity="0.75"/>
<circle cx="131.5" cy="78.9" r="1.0" fill="#F8766D" fill-opacity="0.75"/>
<circle cx="127.8" cy="89.7" r="1.0" fill="#F8766D" fill-opacity="0.75"/>
<circle cx="130.2" cy="90.8" r="1.0" fill="#F8766D" fill-opacity="0.75"/>
<circle cx="132.6" cy="91.3" r="1.0" fill="#F8766D" fill-opacity="0.75"/>
<circle cx="133.5" cy="90.9" r="1.0" fill="#F8766D" fill-opacity="0.75"/>
<circle cx="136.7" cy="90.3" r="1.0" fill="#F8766D" fill-opacity="0.75"/>
<circle cx="138.5" cy="91.3" r="1.0" fill="#F8766D" fill-opacity="0.75"/>
<circle cx="140.5" cy="91.5" r="1.0" fill="#F8766D" fill-opacity="0.75"/>
<circle cx="140.7" cy="90.2" r="1.0" fill="#F8766D" fill-opacity="0.75"/>
<circle cx="142.7" cy="89.6" r="1.0" fill="#F8766D" fill-opacity="0.75"/>
<circle cx="143.2" cy="90.3" r="1.0" fill="#F8766D" fill-opacity="0.75"/>
<circle cx="145.3" cy="89.8" r="1.0" fill="#F8766D" fill-opacity="0.75"/>
<circle cx="146.9" cy="90.2" r="1.0" fill="#F8766D" fill-opacity="0.75"/>
<circle cx="151.7" cy="90.7" r="1.0" fill="#F8766D" fill-opacity="0.75"/>
<circle cx="137.1" cy="90.8" r="1.0" fill="#F8766D" fill-opacity="0.75"/>
<circle cx="138.7" cy="90.7" r="1.0" fill="#F8766D" fill-opacity="0.75"/>
<circle cx="129.7" cy="90.4" r="1.0" fill="#F8766D" fill-opacity="0.75"/>
<circle cx="132.1" cy="89.7" r="1.0" fill="#F8766D" fill-opacity="0.75"/>
<circle cx="146.0" cy="91.3" r="1.0" fill="#F8766D" fill-opacity="0.75"/>
<circle cx="130.3" cy="89.9" r="1.0" fill="#F8766D" fill-opacity="0.75"/>
<circle cx="132.6" cy="90.2" r="1.0" fill="#F8766D" fill-opacity="0.75"/>
<circle cx="132.3" cy="90.1" r="1.0" fill="#F8766D" fill-opacity="0.75"/>
<circle cx="127.3" cy="96.0" r="1.0" fill="#F8766D" fill-opacity="0.75"/>
<circle cx="129.9" cy="95.5" r="1.0" fill="#F8766D" fill-opacity="0.75"/>
<circle cx="130.2" cy="96.4" r="1.0" fill="#F8766D" fill-opacity="0.75"/>
<circle cx="132.4" cy="96.3" r="1.0" fill="#F8766D" fill-opacity="0.75"/>
<circle cx="133.7" cy="96.5" r="1.0" fill="#F8766D" fill-opacity="0.75"/>
<circle cx="136.9" cy="95.8" r="1.0" fill="#F8766D" fill-opacity="0.75"/>
<circle cx="143.2" cy="96.2" r="1.0" fill="#F8766D" fill-opacity="0.75"/>
<circle cx="148.4" cy="96.9" r="1.0" fill="#F8766D" fill-opacity="0.75"/>
<circle cx="151.2" cy="96.0" r="1.0" fill="#F8766D" fill-opacity="0.75"/>
<circle cx="135.7" cy="97.0" r="1.0" fill="#F8766D" fill-opacity="0.75"/>
<circle cx="138.9" cy="96.6" r="1.0" fill="#F8766D" fill-opacity="0.75"/>
<circle cx="149.8" cy="96.6" r="1.0" fill="#F8766D" fill-opacity="0.75"/>
<circle cx="134.1" cy="96.1" r="1.0" fill="#F8766D" fill-opacity="0.75"/>
<circle cx="142.9" cy="96.5" r="1.0" fill="#F8766D" fill-opacity="0.75"/>
<circle cx="128.0" cy="101.5" r="1.0" fill="#F8766D" fill-opacity="0.75"/>
<circle cx="131.7" cy="102.6" r="1.0" fill="#F8766D" fill-opacity="0.75"/>
<circle cx="147.4" cy="101.8" r="1.0" fill="#F8766D" fill-opacity="0.75"/>
<circle cx="148.4" cy="101.6" r="1.0" fill="#F8766D" fill-opacity="0.75"/>
<circle cx="152.3" cy="103.1" r="1.0" fill="#F8766D" fill-opacity="0.75"/>
<circle cx="149.8" cy="102.9" r="1.0" fill="#F8766D" fill-opacity="0.75"/>
<circle cx="147.3" cy="102.1" r="1.0" fill="#F8766D" fill-opacity="0.75"/>
<circle cx="140.8" cy="103.0" r="1.0" fill="#F8766D" fill-opacity="0.75"/>
<circle cx="128.1" cy="108.4" r="1.0" fill="#F8766D" fill-opacity="0.75"/>
<circle cx="129.0" cy="107.9" r="1.0" fill="#F8766D" fill-opacity="0.75"/>
<circle cx="132.3" cy="107.5" r="1.0" fill="#F8766D" fill-opacity="0.75"/>
<circle cx="133.1" cy="108.4" r="1.0" fill="#F8766D" fill-opacity="0.75"/>
<circle cx="136.7" cy="109.4" r="1.0" fill="#F8766D" fill-opacity="0.75"/>
<circle cx="139.0" cy="107.9" r="1.0" fill="#F8766D" fill-opacity="0.75"/>
<circle cx="142.3" cy="108.1" r="1.0" fill="#F8766D" fill-opacity="0.75"/>
<circle cx="142.8" cy="109.2" r="1.0" fill="#F8766D" fill-opacity="0.75"/>
<circle cx="145.4" cy="108.0" r="1.0" fill="#F8766D" fill-opacity="0.75"/>
<circle cx="147.7" cy="108.2" r="1.0" fill="#F8766D" fill-opacity="0.75"/>
<circle cx="149.4" cy="108.5" r="1.0" fill="#F8766D" fill-opacity="0.75"/>
<circle cx="150.2" cy="108.6" r="1.0" fill="#F8766D" fill-opacity="0.75"/>
<circle cx="137.2" cy="108.6" r="1.0" fill="#F8766D" fill-opacity="0.75"/>
<circle cx="132.6" cy="108.0" r="1.0" fill="#F8766D" fill-opacity="0.75"/>
<circle cx="137.8" cy="107.4" r="1.0" fill="#F8766D" fill-opacity="0.75"/>
<circle cx="147.8" cy="107.6" r="1.0" fill="#F8766D" fill-opacity="0.75"/>
<circle cx="149.5" cy="108.7" r="1.0" fill="#F8766D" fill-opacity="0.75"/>
<circle cx="141.5" cy="108.6" r="1.0" fill="#F8766D" fill-opacity="0.75"/>
<circle cx="149.9" cy="109.0" r="1.0" fill="#F8766D" fill-opacity="0.75"/>
<circle cx="128.5" cy="113.9" r="1.0" fill="#F8766D" fill-opacity="0.75"/>
<circle cx="129.7" cy="115.2" r="1.0" fill="#F8766D" fill-opacity="0.75"/>
<circle cx="130.3" cy="113.9" r="1.0" fill="#F8766D" fill-opacity="0.75"/>
<circle cx="133.7" cy="114.4" r="1.0" fill="#F8766D" fill-opacity="0.75"/>
<circle cx="133.9" cy="115.4" r="1.0" fill="#F8766D" fill-opacity="0.75"/>
<circle cx="137.0" cy="113.9" r="1.0" fill="#F8766D" fill-opacity="0.75"/>
<circle cx="138.6" cy="113.9" r="1.0" fill="#F8766D" fill-opacity="0.75"/>
<circle cx="143.2" cy="114.7" r="1.0" fill="#F8766D" fill-opacity="0.75"/>
<circle cx="146.9" cy="113.7" r="1.0" fill="#F8766D" fill-opacity="0.75"/>
<circle cx="150.2" cy="114.0" r="1.0" fill="#F8766D" fill-opacity="0.75"/>
<circle cx="138.4" cy="114.4" r="1.0" fill="#F8766D" fill-opacity="0.75"/>
<circle cx="146.7" cy="113.7" r="1.0" fill="#F8766D" fill-opacity="0.75"/>
<circle cx="129.0" cy="114.5" r="1.0" fill="#F8766D" fill-opacity="0.75"/>
<circle cx="144.4" cy="114.5" r="1.0" fill="#F8766D" fill-opacity="0.75"/>
<circle cx="130.6" cy="113.9" r="1.0" fill="#F8766D" fill-opacity="0.75"/>
<circle cx="136.8" cy="114.4" r="1.0" fill="#F8766D" fill-opacity="0.75"/>
<circle cx="131.1" cy="119.4" r="1.0" fill="#F8766D" fill-opacity="0.75"/>
<circle cx="140.4" cy="120.3" r="1.0" fill="#F8766D" fill-opacity="0.75"/>
<circle cx="145.4" cy="120.7" r="1.0" fill="#F8766D" fill-opacity="0.75"/>
<circle cx="148.4" cy="120.0" r="1.0" fill="#F8766D" fill-opacity="0.75"/>
<circle cx="151.3" cy="119.3" r="1.0" fill="#F8766D" fill-opacity="0.75"/>
<circle cx="147.9" cy="119.2" r="1.0" fill="#F8766D" fill-opacity="0.75"/>
<circle cx="145.2" cy="119.8" r="1.0" fill="#F8766D" fill-opacity="0.75"/>
<circle cx="140.5" cy="119.6" r="1.0" fill="#F8766D" fill-opacity="0.75"/>
<circle cx="127.7" cy="126.6" r="1.0" fill="#F8766D" fill-opacity="0.75"/>
<circle cx="128.7" cy="126.0" r="1.0" fill="#F8766D" fill-opacity="0.75"/>
<circle cx="132.2" cy="126.0" r="1.0" fill="#F8766D" fill-opacity="0.75"/>
<circle cx="135.4" cy="126.1" r="1.0" fill="#F8766D" fill-opacity="0.75"/>
<circle cx="136.9" cy="126.7" r="1.0" fill="#F8766D" fill-opacity="0.75"/>
<circle cx="141.6" cy="126.2" r="1.0" fill="#F8766D" fill-opacity="0.75"/>
<circle cx="142.3" cy="126.5" r="1.0" fill="#F8766D" fill-opacity="0.75"/>
<circle cx="144.9" cy="126.2" r="1.0" fill="#F8766D" fill-opacity="0.75"/>
<circle cx="148.2" cy="126.0" r="1.0" fill="#F8766D" fill-opacity="0.75"/>
<circle cx="149.3" cy="126.1" r="1.0" fill="#F8766D" fill-opacity="0.75"/>
<circle cx="127.8" cy="125.5" r="1.0" fill="#F8766D" fill-opacity="0.75"/>
<circle cx="138.0" cy="126.2" r="1.0" fill="#F8766D" fill-opacity="0.75"/>
<circle cx="137.1" cy="126.6" r="1.0" fill="#F8766D" fill-opacity="0.75"/>
<circle cx="144.6" cy="126.6" r="1.0" fill="#F8766D" fill-opacity="0.75"/>
<circle cx="134.2" cy="126.9" r="1.0" fill="#F8766D" fill-opacity="0.75"/>
<circle cx="140.2" cy="125.8" r="1.0" fill="#F8766D" fill-opacity="0.75"/>
<circle cx="128.3" cy="131.0" r="1.0" fill="#F8766D" fill-opacity="0.75"/>
<circle cx="134.0" cy="132.0" r="1.0" fill="#F8766D" fill-opacity="0.75"/>
<circle cx="137.5" cy="130.9" r="1.0" fill="#F8766D" fill-opacity="0.75"/>
<circle cx="141.9" cy="132.4" r="1.0" fill="#F8766D" fill-opacity="0.75"/>
<circle cx="144.7" cy="131.8" r="1.0" fill="#F8766D" fill-opacity="0.75"/>
<circle cx="146.2" cy="132.3" r="1.0" fill="#F8766D" fill-opacity="0.75"/>
<circle cx="147.8" cy="130.7" r="1.0" fill="#F8766D" fill-opacity="0.75"/>
<circle cx="152.1" cy="131.4" r="1.0" fill="#F8766D" fill-opacity="0.75"/>
<circle cx="142.8" cy="131.2" r="1.0" fill="#F8766D" fill-opacity="0.75"/>
<circle cx="143.9" cy="132.2" r="1.0" fill="#F8766D" fill-opacity="0.75"/>
<circle cx="137.5" cy="131.4" r="1.0" fill="#F8766D" fill-opacity="0.75"/>
<circle cx="146.4" cy="131.7" r="1.0" fill="#F8766D" fill-opacity="0.75"/>
<circle cx="148.9" cy="132.6" r="1.0" fill="#F8766D" fill-opacity="0.75"/>
<circle cx="129.4" cy="137.8" r="1.0" fill="#F8766D" fill-opacity="0.75"/>
<circle cx="133.6" cy="138.2" r="1.0" fill="#F8766D" fill-opacity="0.75"/>
<circle cx="133.7" cy="136.7" r="1.0" fill="#F8766D" fill-opacity="0.75"/>
<circle cx="139.8" cy="136.7" r="1.0" fill="#F8766D" fill-opacity="0.75"/>
<circle cx="140.4" cy="136.6" r="1.0" fill="#F8766D" fill-opacity="0.75"/>
<circle cx="142.9" cy="136.6" r="1.0" fill="#F8766D" fill-opacity="0.75"/>
<circle cx="138.8" cy="137.0" r="1.0" fill="#F8766D" fill-opacity="0.75"/>
<circle cx="131.6" cy="137.8" r="1.0" fill="#F8766D" fill-opacity="0.75"/>
<circle cx="134.8" cy="136.6" r="1.0" fill="#F8766D" fill-opacity="0.75"/>
<circle cx="136.3" cy="136.7" r="1.0" fill="#F8766D" fill-opacity="0.75"/>
<circle cx="127.4" cy="143.2" r="1.0" fill="#F8766D" fill-opacity="0.75"/>
<circle cx="128.6" cy="144.3" r="1.0" fill="#F8766D" fill-opacity="0.75"/>
<circle cx="133.3" cy="142.6" r="1.0" fill="#F8766D" fill-opacity="0.75"/>
<circle cx="134.7" cy="143.6" r="1.0" fill="#F8766D" fill-opacity="0.75"/>
<circle cx="137.8" cy="143.9" r="1.0" fill="#F8766D" fill-opacity="0.75"/>
<circle cx="138.6" cy="144.3" r="1.0" fill="#F8766D" fill-opacity="0.75"/>
<circle cx="140.1" cy="143.9" r="1.0" fill="#F8766D" fill-opacity="0.75"/>
<circle cx="142.0" cy="144.1" r="1.0" fill="#F8766D" fill-opacity="0.75"/>
<circle cx="143.5" cy="144.1" r="1.0" fill="#F8766D" fill-opacity="0.75"/>
<circle cx="146.9" cy="144.0" r="1.0" fill="#F8766D" fill-opacity="0.75"/>
<circle cx="147.0" cy="143.3" r="1.0" fill="#F8766D" fill-opacity="0.75"/>
<circle cx="149.5" cy="143.9" r="1.0" fill="#F8766D" fill-opacity="0.75"/>
<circle cx="134.0" cy="143.5" r="1.0" fill="#F8766D" fill-opacity="0.75"/>
<circle cx="139.2" cy="143.8" r="1.0" fill="#F8766D" fill-opacity="0.75"/>
<circle cx="138.2" cy="143.2" r="1.0" fill="#F8766D" fill-opacity="0.75"/>
<circle cx="148.1" cy="144.0" r="1.0" fill="#F8766D" fill-opacity="0.75"/>
<circle cx="129.8" cy="143.2" r="1.0" fill="#F8766D" fill-opacity="0.75"/>
<circle cx="139.8" cy="142.9" r="1.0" fill="#F8766D" fill-opacity="0.75"/>
<circle cx="139.8" cy="143.0" r="1.0" fill="#F8766D" fill-opacity="0.75"/>
<circle cx="131.2" cy="149.2" r="1.0" fill="#F8766D" fill-opacity="0.75"/>
<circle cx="134.0" cy="149.7" r="1.0" fill="#F8766D" fill-opacity="0.75"/>
<circle cx="138.3" cy="148.0" r="1.0" fill="#F8766D" fill-opacity="0.75"/>
<circle cx="140.8" cy="149.6" r="1.0" fill="#F8766D" fill-opacity="0.75"/>
<circle cx="148.7" cy="149.8" r="1.0" fill="#F8766D" fill-opacity="0.75"/>
<circle cx="131.7" cy="149.4" r="1.0" fill="#F8766D" fill-opacity="0.75"/>
<circle cx="143.6" cy="149.6" r="1.0" fill="#F8766D" fill-opacity="0.75"/>
<circle cx="139.3" cy="148.1" r="1.0" fill="#F8766D" fill-opacity="0.75"/>
<circle cx="129.3" cy="154.6" r="1.0" fill="#F8766D" fill-opacity="0.75"/>
<circle cx="131.0" cy="154.4" r="1.0" fill="#F8766D" fill-opacity="0.75"/>
<circle cx="133.7" cy="154.8" r="1.0" fill="#F8766D" fill-opacity="0.75"/>
<circle cx="147.1" cy="154.0" r="1.0" fill="#F8766D" fill-opacity="0.75"/>
<circle cx="151.3" cy="154.5" r="1.0" fill="#F8766D" fill-opacity="0.75"/>
<circle cx="139.5" cy="154.0" r="1.0" fill="#F8766D" fill-opacity="0.75"/>
<circle cx="144.2" cy="155.5" r="1.0" fill="#F8766D" fill-opacity="0.75"/>
<circle cx="141.9" cy="154.8" r="1.0" fill="#F8766D" fill-opacity="0.75"/>
<circle cx="128.0" cy="160.5" r="1.0" fill="#F8766D" fill-opacity="0.75"/>
<circle cx="131.1" cy="160.8" r="1.0" fill="#F8766D" fill-opacity="0.75"/>
<circle cx="134.1" cy="161.2" r="1.0" fill="#F8766D" fill-opacity="0.75"/>
<circle cx="135.2" cy="159.8" r="1.0" fill="#F8766D" fill-opacity="0.75"/>
<circle cx="138.6" cy="161.4" r="1.0" fill="#F8766D" fill-opacity="0.75"/>
<circle cx="143.7" cy="159.9" r="1.0" fill="#F8766D" fill-opacity="0.75"/>
<circle cx="144.5" cy="161.5" r="1.0" fill="#F8766D" fill-opacity="0.75"/>
<circle cx="145.8" cy="161.0" r="1.0" fill="#F8766D" fill-opacity="0.75"/>
<circle cx="147.0" cy="160.7" r="1.0" fill="#F8766D" fill-opacity="0.75"/>
<circle cx="149.5" cy="160.2" r="1.0" fill="#F8766D" fill-opacity="0.75"/>
<circle cx="151.0" cy="160.9" r="1.0" fill="#F8766D" fill-opacity="0.75"/>
<circle cx="139.1" cy="160.8" r="1.0" fill="#F8766D" fill-opacity="0.75"/>
<circle cx="141.9" cy="159.8" r="1.0" fill="#F8766D" fill-opacity="0.75"/>
<circle cx="130.4" cy="160.3" r="1.0" fill="#F8766D" fill-opacity="0.75"/>
<circle cx="140.7" cy="160.6" r="1.0" fill="#F8766D" fill-opacity="0.75"/>
<circle cx="143.3" cy="161.7" r="1.0" fill="#F8766D" fill-opacity="0.75"/>
<circle cx="149.7" cy="161.6" r="1.0" fill="#F8766D" fill-opacity="0.75"/>
<circle cx="143.0" cy="160.8" r="1.0" fill="#F8766D" fill-opacity="0.75"/>
<circle cx="129.3" cy="166.2" r="1.0" fill="#F8766D" fill-opacity="0.75"/>
<circle cx="130.4" cy="167.2" r="1.0" fill="#F8766D" fill-opacity="0.75"/>
<circle cx="135.1" cy="167.2" r="1.0" fill="#F8766D" fill-opacity="0.75"/>
<circle cx="145.7" cy="167.2" r="1.0" fill="#F8766D" fill-opacity="0.75"/>
<circle cx="147.8" cy="166.8" r="1.0" fill="#F8766D" fill-opacity="0.75"/>
<circle cx="149.1" cy="166.5" r="1.0" fill="#F8766D" fill-opacity="0.75"/>
<circle cx="133.8" cy="166.1" r="1.0" fill="#F8766D" fill-opacity="0.75"/>
<circle cx="133.4" cy="167.6" r="1.0" fill="#F8766D" fill-opacity="0.75"/>
<circle cx="143.6" cy="166.4" r="1.0" fill="#F8766D" fill-opacity="0.75"/>
<circle cx="138.7" cy="167.4" r="1.0" fill="#F8766D" fill-opacity="0.75"/>
<circle cx="145.9" cy="172.2" r="1.0" fill="#F8766D" fill-opacity="0.75"/>
<circle cx="128.5" cy="178.4" r="1.0" fill="#F8766D" fill-opacity="0.75"/>
<circle cx="132.3" cy="178.0" r="1.0" fill="#F8766D" fill-opacity="0.75"/>
<circle cx="140.9" cy="178.9" r="1.0" fill="#F8766D" fill-opacity="0.75"/>
<circle cx="143.4" cy="178.5" r="1.0" fill="#F8766D" fill-opacity="0.75"/>
<circle cx="144.8" cy="177.0" r="1.0" fill="#F8766D" fill-opacity="0.75"/>
<circle cx="150.6" cy="176.9" r="1.0" fill="#F8766D" fill-opacity="0.75"/>
<circle cx="130.6" cy="178.8" r="1.0" fill="#F8766D" fill-opacity="0.75"/>
<circle cx="151.0" cy="178.0" r="1.0" fill="#F8766D" fill-opacity="0.75"/>
<circle cx="150.1" cy="178.3" r="1.0" fill="#F8766D" fill-opacity="0.75"/>
<circle cx="147.6" cy="178.2" r="1.0" fill="#F8766D" fill-opacity="0.75"/>
<circle cx="134.4" cy="186.0" r="1.0" fill="#F8766D" fill-opacity="0.75"/>
<circle cx="188.5" cy="91.9" r="1.0" fill="#F8766D" fill-opacity="0.75"/>
<circle cx="185.2" cy="131.4" r="1.0" fill="#F8766D" fill-opacity="0.75"/>
<circle cx="197.4" cy="136.6" r="1.0" fill="#F8766D" fill-opacity="0.75"/>
<circle cx="181.5" cy="141.3" r="1.0" fill="#F8766D" fill-opacity="0.75"/>
<circle cx="185.3" cy="142.2" r="1.0" fill="#F8766D" fill-opacity="0.75"/>
<circle cx="187.0" cy="142.7" r="1.0" fill="#F8766D" fill-opacity="0.75"/>
<circle cx="199.9" cy="143.2" r="1.0" fill="#F8766D" fill-opacity="0.75"/>
<circle cx="176.6" cy="148.5" r="1.0" fill="#F8766D" fill-opacity="0.75"/>
<circle cx="189.3" cy="149.1" r="1.0" fill="#F8766D" fill-opacity="0.75"/>
<circle cx="193.3" cy="149.7" r="1.0" fill="#F8766D" fill-opacity="0.75"/>
<circle cx="194.6" cy="149.8" r="1.0" fill="#F8766D" fill-opacity="0.75"/>
<circle cx="196.1" cy="149.2" r="1.0" fill="#F8766D" fill-opacity="0.75"/>
<circle cx="198.4" cy="148.9" r="1.0" fill="#F8766D" fill-opacity="0.75"/>
<circle cx="195.7" cy="149.6" r="1.0" fill="#F8766D" fill-opacity="0.75"/>
<circle cx="178.0" cy="149.5" r="1.0" fill="#F8766D" fill-opacity="0.75"/>
<circle cx="183.6" cy="149.2" r="1.0" fill="#F8766D" fill-opacity="0.75"/>
<circle cx="192.4" cy="148.8" r="1.0" fill="#F8766D" fill-opacity="0.75"/>
<circle cx="177.4" cy="156.0" r="1.0" fill="#F8766D" fill-opacity="0.75"/>
<circle cx="179.5" cy="155.8" r="1.0" fill="#F8766D" fill-opacity="0.75"/>
<circle cx="181.3" cy="154.5" r="1.0" fill="#F8766D" fill-opacity="0.75"/>
<circle cx="183.1" cy="155.4" r="1.0" fill="#F8766D" fill-opacity="0.75"/>
<circle cx="186.8" cy="155.1" r="1.0" fill="#F8766D" fill-opacity="0.75"/>
<circle cx="189.2" cy="155.4" r="1.0" fill="#F8766D" fill-opacity="0.75"/>
<circle cx="192.4" cy="155.6" r="1.0" fill="#F8766D" fill-opacity="0.75"/>
<circle cx="196.1" cy="154.7" r="1.0" fill="#F8766D" fill-opacity="0.75"/>
<circle cx="198.6" cy="155.5" r="1.0" fill="#F8766D" fill-opacity="0.75"/>
<circle cx="200.2" cy="155.9" r="1.0" fill="#F8766D" fill-opacity="0.75"/>
<circle cx="196.6" cy="155.4" r="1.0" fill="#F8766D" fill-opacity="0.75"/>
<circle cx="185.3" cy="154.1" r="1.0" fill="#F8766D" fill-opacity="0.75"/>
<circle cx="185.9" cy="155.0" r="1.0" fill="#F8766D" fill-opacity="0.75"/>
<circle cx="198.1" cy="154.3" r="1.0" fill="#F8766D" fill-opacity="0.75"/>
<circle cx="199.8" cy="155.4" r="1.0" fill="#F8766D" fill-opacity="0.75"/>
<circle cx="195.5" cy="155.5" r="1.0" fill="#F8766D" fill-opacity="0.75"/>
<circle cx="178.0" cy="161.0" r="1.0" fill="#F8766D" fill-opacity="0.75"/>
<circle cx="180.3" cy="160.7" r="1.0" fill="#F8766D" fill-opacity="0.75"/>
<circle cx="181.7" cy="160.6" r="1.0" fill="#F8766D" fill-opacity="0.75"/>
<circle cx="183.9" cy="161.0" r="1.0" fill="#F8766D" fill-opacity="0.75"/>
<circle cx="186.1" cy="160.1" r="1.0" fill="#F8766D" fill-opacity="0.75"/>
<circle cx="186.7" cy="160.4" r="1.0" fill="#F8766D" fill-opacity="0.75"/>
<circle cx="190.1" cy="161.1" r="1.0" fill="#F8766D" fill-opacity="0.75"/>
<circle cx="193.2" cy="160.3" r="1.0" fill="#F8766D" fill-opacity="0.75"/>
<circle cx="195.1" cy="160.3" r="1.0" fill="#F8766D" fill-opacity="0.75"/>
<circle cx="197.4" cy="160.0" r="1.0" fill="#F8766D" fill-opacity="0.75"/>
<circle cx="198.6" cy="160.1" r="1.0" fill="#F8766D" fill-opacity="0.75"/>
<circle cx="187.0" cy="161.4" r="1.0" fill="#F8766D" fill-opacity="0.75"/>
<circle cx="189.0" cy="161.6" r="1.0" fill="#F8766D" fill-opacity="0.75"/>
<circle cx="179.0" cy="161.1" r="1.0" fill="#F8766D" fill-opacity="0.75"/>
<circle cx="183.4" cy="161.3" r="1.0" fill="#F8766D" fill-opacity="0.75"/>
<circle cx="189.4" cy="161.3" r="1.0" fill="#F8766D" fill-opacity="0.75"/>
<circle cx="181.1" cy="161.4" r="1.0" fill="#F8766D" fill-opacity="0.75"/>
<circle cx="184.9" cy="161.7" r="1.0" fill="#F8766D" fill-opacity="0.75"/>
<circle cx="176.4" cy="167.1" r="1.0" fill="#F8766D" fill-opacity="0.75"/>
<circle cx="178.3" cy="165.7" r="1.0" fill="#F8766D" fill-opacity="0.75"/>
<circle cx="180.6" cy="167.3" r="1.0" fill="#F8766D" fill-opacity="0.75"/>
<circle cx="181.6" cy="166.7" r="1.0" fill="#F8766D" fill-opacity="0.75"/>
<circle cx="183.9" cy="165.6" r="1.0" fill="#F8766D" fill-opacity="0.75"/>
<circle cx="185.4" cy="165.6" r="1.0" fill="#F8766D" fill-opacity="0.75"/>
<circle cx="187.7" cy="166.1" r="1.0" fill="#F8766D" fill-opacity="0.75"/>
<circle cx="189.9" cy="166.7" r="1.0" fill="#F8766D" fill-opacity="0.75"/>
<circle cx="191.7" cy="167.2" r="1.0" fill="#F8766D" fill-opacity="0.75"/>
<circle cx="193.8" cy="166.8" r="1.0" fill="#F8766D" fill-opacity="0.75"/>
<circle cx="196.8" cy="166.0" r="1.0" fill="#F8766D" fill-opacity="0.75"/>
<circle cx="197.7" cy="167.5" r="1.0" fill="#F8766D" fill-opacity="0.75"/>
<circle cx="200.6" cy="166.9" r="1.0" fill="#F8766D" fill-opacity="0.75"/>
<circle cx="177.5" cy="167.5" r="1.0" fill="#F8766D" fill-opacity="0.75"/>
<circle cx="191.2" cy="166.2" r="1.0" fill="#F8766D" fill-opacity="0.75"/>
<circle cx="179.9" cy="165.5" r="1.0" fill="#F8766D" fill-opacity="0.75"/>
<circle cx="195.0" cy="167.3" r="1.0" fill="#F8766D" fill-opacity="0.75"/>
<circle cx="200.2" cy="165.8" r="1.0" fill="#F8766D" fill-opacity="0.75"/>
<circle cx="188.2" cy="165.8" r="1.0" fill="#F8766D" fill-opacity="0.75"/>
<circle cx="196.3" cy="165.9" r="1.0" fill="#F8766D" fill-opacity="0.75"/>
<circle cx="182.0" cy="166.6" r="1.0" fill="#F8766D" fill-opacity="0.75"/>
<circle cx="176.7" cy="172.8" r="1.0" fill="#F8766D" fill-opacity="0.75"/>
<circle cx="178.8" cy="171.9" r="1.0" fill="#F8766D" fill-opacity="0.75"/>
<circle cx="183.1" cy="172.5" r="1.0" fill="#F8766D" fill-opacity="0.75"/>
<circle cx="185.4" cy="172.8" r="1.0" fill="#F8766D" fill-opacity="0.75"/>
<circle cx="186.6" cy="171.4" r="1.0" fill="#F8766D" fill-opacity="0.75"/>
<circle cx="191.1" cy="171.7" r="1.0" fill="#F8766D" fill-opacity="0.75"/>
<circle cx="193.7" cy="172.7" r="1.0" fill="#F8766D" fill-opacity="0.75"/>
<circle cx="195.7" cy="171.2" r="1.0" fill="#F8766D" fill-opacity="0.75"/>
<circle cx="198.2" cy="172.1" r="1.0" fill="#F8766D" fill-opacity="0.75"/>
<circle cx="199.5" cy="171.6" r="1.0" fill="#F8766D" fill-opacity="0.75"/>
<circle cx="200.3" cy="171.7" r="1.0" fill="#F8766D" fill-opacity="0.75"/>
<circle cx="198.8" cy="173.0" r="1.0" fill="#F8766D" fill-opacity="0.75"/>
<circle cx="196.9" cy="171.9" r="1.0" fill="#F8766D" fill-opacity="0.75"/>
<circle cx="191.4" cy="171.3" r="1.0" fill="#F8766D" fill-opacity="0.75"/>
<circle cx="183.8" cy="172.8" r="1.0" fill="#F8766D" fill-opacity="0.75"/>
<circle cx="199.3" cy="171.3" r="1.0" fill="#F8766D" fill-opacity="0.75"/>
<circle cx="181.4" cy="172.1" r="1.0" fill="#F8766D" fill-opacity="0.75"/>
<circle cx="177.8" cy="171.7" r="1.0" fill="#F8766D" fill-opacity="0.75"/>
<circle cx="175.8" cy="178.9" r="1.0" fill="#F8766D" fill-opacity="0.75"/>
<circle cx="178.3" cy="177.4" r="1.0" fill="#F8766D" fill-opacity="0.75"/>
<circle cx="184.1" cy="178.6" r="1.0" fill="#F8766D" fill-opacity="0.75"/>
<circle cx="186.8" cy="177.0" r="1.0" fill="#F8766D" fill-opacity="0.75"/>
<circle cx="187.4" cy="177.0" r="1.0" fill="#F8766D" fill-opacity="0.75"/>
<circle cx="189.3" cy="178.8" r="1.0" fill="#F8766D" fill-opacity="0.75"/>
<circle cx="191.1" cy="178.0" r="1.0" fill="#F8766D" fill-opacity="0.75"/>
<circle cx="193.8" cy="177.0" r="1.0" fill="#F8766D" fill-opacity="0.75"/>
<circle cx="195.9" cy="177.5" r="1.0" fill="#F8766D" fill-opacity="0.75"/>
<circle cx="198.2" cy="178.7" r="1.0" fill="#F8766D" fill-opacity="0.75"/>
<circle cx="200.1" cy="178.0" r="1.0" fill="#F8766D" fill-opacity="0.75"/>
<circle cx="196.6" cy="177.3" r="1.0" fill="#F8766D" fill-opacity="0.75"/>
<circle cx="181.0" cy="177.7" r="1.0" fill="#F8766D" fill-opacity="0.75"/>
<circle cx="181.7" cy="177.4" r="1.0" fill="#F8766D" fill-opacity="0.75"/>
<circle cx="197.1" cy="177.1" r="1.0" fill="#F8766D" fill-opacity="0.75"/>
<circle cx="190.9" cy="177.4" r="1.0" fill="#F8766D" fill-opacity="0.75"/>
<circle cx="192.5" cy="178.7" r="1.0" fill="#F8766D" fill-opacity="0.75"/>
<circle cx="192.6" cy="178.1" r="1.0" fill="#F8766D" fill-opacity="0.75"/>
<circle cx="177.4" cy="182.8" r="1.0" fill="#F8766D" fill-opacity="0.75"/>
<circle cx="180.5" cy="184.1" r="1.0" fill="#F8766D" fill-opacity="0.75"/>
<circle cx="183.6" cy="184.5" r="1.0" fill="#F8766D" fill-opacity="0.75"/>
<circle cx="184.0" cy="183.8" r="1.0" fill="#F8766D" fill-opacity="0.75"/>
<circle cx="186.2" cy="183.7" r="1.0" fill="#F8766D" fill-opacity="0.75"/>
<circle cx="188.7" cy="183.0" r="1.0" fill="#F8766D" fill-opacity="0.75"/>
<circle cx="189.8" cy="183.6" r="1.0" fill="#F8766D" fill-opacity="0.75"/>
<circle cx="191.7" cy="184.4" r="1.0" fill="#F8766D" fill-opacity="0.75"/>
<circle cx="194.9" cy="182.7" r="1.0" fill="#F8766D" fill-opacity="0.75"/>
<circle cx="196.7" cy="184.3" r="1.0" fill="#F8766D" fill-opacity="0.75"/>
<circle cx="196.8" cy="183.8" r="1.0" fill="#F8766D" fill-opacity="0.75"/>
<circle cx="200.6" cy="183.0" r="1.0" fill="#F8766D" fill-opacity="0.75"/>
<circle cx="197.3" cy="183.8" r="1.0" fill="#F8766D" fill-opacity="0.75"/>
<circle cx="198.4" cy="184.5" r="1.0" fill="#F8766D" fill-opacity="0.75"/>
<circle cx="180.0" cy="184.0" r="1.0" fill="#F8766D" fill-opacity="0.75"/>
<circle cx="194.2" cy="182.8" r="1.0" fill="#F8766D" fill-opacity="0.75"/>
<circle cx="180.5" cy="183.6" r="1.0" fill="#F8766D" fill-opacity="0.75"/>
<circle cx="187.2" cy="183.4" r="1.0" fill="#F8766D" fill-opacity="0.75"/>
<circle cx="187.2" cy="183.8" r="1.0" fill="#F8766D" fill-opacity="0.75"/>
<circle cx="176.6" cy="189.4" r="1.0" fill="#F8766D" fill-opacity="0.75"/>
<circle cx="179.3" cy="188.9" r="1.0" fill="#F8766D" fill-opacity="0.75"/>
<circle cx="181.3" cy="189.8" r="1.0" fill="#F8766D" fill-opacity="0.75"/>
<circle cx="184.6" cy="188.8" r="1.0" fill="#F8766D" fill-opacity="0.75"/>
<circle cx="186.6" cy="189.8" r="1.0" fill="#F8766D" fill-opacity="0.75"/>
<circle cx="187.9" cy="190.2" r="1.0" fill="#F8766D" fill-opacity="0.75"/>
<circle cx="191.1" cy="189.9" r="1.0" fill="#F8766D" fill-opacity="0.75"/>
<circle cx="199.2" cy="190.5" r="1.0" fill="#F8766D" fill-opacity="0.75"/>
<circle cx="200.6" cy="189.7" r="1.0" fill="#F8766D" fill-opacity="0.75"/>
<circle cx="197.6" cy="190.0" r="1.0" fill="#F8766D" fill-opacity="0.75"/>
<circle cx="186.9" cy="189.8" r="1.0" fill="#F8766D" fill-opacity="0.75"/>
<circle cx="199.7" cy="190.3" r="1.0" fill="#F8766D" fill-opacity="0.75"/>
<circle cx="184.5" cy="189.0" r="1.0" fill="#F8766D" fill-opacity="0.75"/>
<circle cx="200.8" cy="190.1" r="1.0" fill="#F8766D" fill-opacity="0.75"/>
<circle cx="178.7" cy="195.0" r="1.0" fill="#F8766D" fill-opacity="0.75"/>
<circle cx="182.8" cy="194.6" r="1.0" fill="#F8766D" fill-opacity="0.75"/>
<circle cx="186.9" cy="195.7" r="1.0" fill="#F8766D" fill-opacity="0.75"/>
<circle cx="188.8" cy="195.9" r="1.0" fill="#F8766D" fill-opacity="0.75"/>
<circle cx="196.3" cy="195.2" r="1.0" fill="#F8766D" fill-opacity="0.75"/>
<circle cx="200.6" cy="196.0" r="1.0" fill="#F8766D" fill-opacity="0.75"/>
<circle cx="194.6" cy="196.0" r="1.0" fill="#F8766D" fill-opacity="0.75"/>
<circle cx="189.5" cy="195.8" r="1.0" fill="#F8766D" fill-opacity="0.75"/>
<circle cx="187.8" cy="195.5" r="1.0" fill="#F8766D" fill-opacity="0.75"/>
<circle cx="199.7" cy="196.3" r="1.0" fill="#F8766D" fill-opacity="0.75"/>
<circle cx="245.1" cy="89.5" r="1.0" fill="#F8766D" fill-opacity="0.75"/>
<circle cx="237.1" cy="136.8" r="1.0" fill="#F8766D" fill-opacity="0.75"/>
<circle cx="232.8" cy="120.4" r="1.0" fill="#00BFC4" fill-opacity="0.65"/>
<circle cx="229.0" cy="137.3" r="1.0" fill="#00BFC4" fill-opacity="0.65"/>
<circle cx="232.8" cy="142.1" r="1.0" fill="#00BFC4" fill-opacity="0.65"/>
<circle cx="240.5" cy="154.8" r="1.0" fill="#00BFC4" fill-opacity="0.65"/>
<circle cx="248.6" cy="155.5" r="1.0" fill="#00BFC4" fill-opacity="0.65"/>
<circle cx="243.8" cy="166.3" r="1.0" fill="#00BFC4" fill-opacity="0.65"/>
<circle cx="238.3" cy="173.2" r="1.0" fill="#00BFC4" fill-opacity="0.65"/>
<circle cx="225.0" cy="149.0" r="1.0" fill="#F8766D" fill-opacity="0.75"/>
<circle cx="234.3" cy="148.3" r="1.0" fill="#F8766D" fill-opacity="0.75"/>
<circle cx="238.4" cy="148.4" r="1.0" fill="#F8766D" fill-opacity="0.75"/>
<circle cx="243.0" cy="149.3" r="1.0" fill="#F8766D" fill-opacity="0.75"/>
<circle cx="245.0" cy="148.8" r="1.0" fill="#F8766D" fill-opacity="0.75"/>
<circle cx="230.6" cy="149.2" r="1.0" fill="#F8766D" fill-opacity="0.75"/>
<circle cx="233.4" cy="148.8" r="1.0" fill="#F8766D" fill-opacity="0.75"/>
<circle cx="229.0" cy="148.5" r="1.0" fill="#F8766D" fill-opacity="0.75"/>
<circle cx="233.2" cy="154.4" r="1.0" fill="#F8766D" fill-opacity="0.75"/>
<circle cx="233.9" cy="155.7" r="1.0" fill="#F8766D" fill-opacity="0.75"/>
<circle cx="235.3" cy="155.1" r="1.0" fill="#F8766D" fill-opacity="0.75"/>
<circle cx="238.5" cy="154.4" r="1.0" fill="#F8766D" fill-opacity="0.75"/>
<circle cx="241.8" cy="155.6" r="1.0" fill="#F8766D" fill-opacity="0.75"/>
<circle cx="244.5" cy="154.8" r="1.0" fill="#F8766D" fill-opacity="0.75"/>
<circle cx="237.2" cy="155.8" r="1.0" fill="#F8766D" fill-opacity="0.75"/>
<circle cx="244.0" cy="154.6" r="1.0" fill="#F8766D" fill-opacity="0.75"/>
<circle cx="233.5" cy="155.2" r="1.0" fill="#F8766D" fill-opacity="0.75"/>
<circle cx="243.5" cy="155.5" r="1.0" fill="#F8766D" fill-opacity="0.75"/>
<circle cx="228.6" cy="162.2" r="1.0" fill="#F8766D" fill-opacity="0.75"/>
<circle cx="240.5" cy="162.4" r="1.0" fill="#F8766D" fill-opacity="0.75"/>
<circle cx="246.0" cy="160.9" r="1.0" fill="#F8766D" fill-opacity="0.75"/>
<circle cx="246.6" cy="162.1" r="1.0" fill="#F8766D" fill-opacity="0.75"/>
<circle cx="248.7" cy="160.7" r="1.0" fill="#F8766D" fill-opacity="0.75"/>
<circle cx="233.4" cy="160.8" r="1.0" fill="#F8766D" fill-opacity="0.75"/>
<circle cx="228.7" cy="161.5" r="1.0" fill="#F8766D" fill-opacity="0.75"/>
<circle cx="242.6" cy="162.0" r="1.0" fill="#F8766D" fill-opacity="0.75"/>
<circle cx="225.2" cy="167.1" r="1.0" fill="#F8766D" fill-opacity="0.75"/>
<circle cx="227.7" cy="167.1" r="1.0" fill="#F8766D" fill-opacity="0.75"/>
<circle cx="228.8" cy="165.4" r="1.0" fill="#F8766D" fill-opacity="0.75"/>
<circle cx="231.4" cy="166.1" r="1.0" fill="#F8766D" fill-opacity="0.75"/>
<circle cx="233.2" cy="166.1" r="1.0" fill="#F8766D" fill-opacity="0.75"/>
<circle cx="241.4" cy="166.7" r="1.0" fill="#F8766D" fill-opacity="0.75"/>
<circle cx="243.5" cy="165.8" r="1.0" fill="#F8766D" fill-opacity="0.75"/>
<circle cx="245.6" cy="165.4" r="1.0" fill="#F8766D" fill-opacity="0.75"/>
<circle cx="248.8" cy="167.2" r="1.0" fill="#F8766D" fill-opacity="0.75"/>
<circle cx="248.6" cy="166.4" r="1.0" fill="#F8766D" fill-opacity="0.75"/>
<circle cx="227.9" cy="166.4" r="1.0" fill="#F8766D" fill-opacity="0.75"/>
<circle cx="227.8" cy="165.5" r="1.0" fill="#F8766D" fill-opacity="0.75"/>
<circle cx="237.3" cy="166.9" r="1.0" fill="#F8766D" fill-opacity="0.75"/>
<circle cx="242.6" cy="165.7" r="1.0" fill="#F8766D" fill-opacity="0.75"/>
<circle cx="231.4" cy="165.7" r="1.0" fill="#F8766D" fill-opacity="0.75"/>
<circle cx="240.0" cy="167.1" r="1.0" fill="#F8766D" fill-opacity="0.75"/>
<circle cx="226.1" cy="171.3" r="1.0" fill="#F8766D" fill-opacity="0.75"/>
<circle cx="227.0" cy="172.0" r="1.0" fill="#F8766D" fill-opacity="0.75"/>
<circle cx="229.1" cy="173.0" r="1.0" fill="#F8766D" fill-opacity="0.75"/>
<circle cx="231.4" cy="172.4" r="1.0" fill="#F8766D" fill-opacity="0.75"/>
<circle cx="236.5" cy="172.9" r="1.0" fill="#F8766D" fill-opacity="0.75"/>
<circle cx="239.8" cy="173.0" r="1.0" fill="#F8766D" fill-opacity="0.75"/>
<circle cx="240.4" cy="172.5" r="1.0" fill="#F8766D" fill-opacity="0.75"/>
<circle cx="243.4" cy="173.1" r="1.0" fill="#F8766D" fill-opacity="0.75"/>
<circle cx="245.0" cy="172.2" r="1.0" fill="#F8766D" fill-opacity="0.75"/>
<circle cx="246.3" cy="171.2" r="1.0" fill="#F8766D" fill-opacity="0.75"/>
<circle cx="248.6" cy="171.8" r="1.0" fill="#F8766D" fill-opacity="0.75"/>
<circle cx="242.9" cy="172.0" r="1.0" fill="#F8766D" fill-opacity="0.75"/>
<circle cx="244.0" cy="171.8" r="1.0" fill="#F8766D" fill-opacity="0.75"/>
<circle cx="233.6" cy="173.1" r="1.0" fill="#F8766D" fill-opacity="0.75"/>
<circle cx="245.4" cy="172.0" r="1.0" fill="#F8766D" fill-opacity="0.75"/>
<circle cx="228.4" cy="172.0" r="1.0" fill="#F8766D" fill-opacity="0.75"/>
<circle cx="234.8" cy="172.7" r="1.0" fill="#F8766D" fill-opacity="0.75"/>
<circle cx="237.0" cy="172.6" r="1.0" fill="#F8766D" fill-opacity="0.75"/>
<circle cx="225.7" cy="178.1" r="1.0" fill="#F8766D" fill-opacity="0.75"/>
<circle cx="227.5" cy="177.6" r="1.0" fill="#F8766D" fill-opacity="0.75"/>
<circle cx="229.0" cy="178.5" r="1.0" fill="#F8766D" fill-opacity="0.75"/>
<circle cx="230.6" cy="178.5" r="1.0" fill="#F8766D" fill-opacity="0.75"/>
<circle cx="231.4" cy="178.6" r="1.0" fill="#F8766D" fill-opacity="0.75"/>
<circle cx="234.0" cy="178.3" r="1.0" fill="#F8766D" fill-opacity="0.75"/>
<circle cx="237.5" cy="177.8" r="1.0" fill="#F8766D" fill-opacity="0.75"/>
<circle cx="239.5" cy="178.7" r="1.0" fill="#F8766D" fill-opacity="0.75"/>
<circle cx="241.8" cy="177.0" r="1.0" fill="#F8766D" fill-opacity="0.75"/>
<circle cx="243.6" cy="178.5" r="1.0" fill="#F8766D" fill-opacity="0.75"/>
<circle cx="245.0" cy="178.5" r="1.0" fill="#F8766D" fill-opacity="0.75"/>
<circle cx="246.5" cy="177.8" r="1.0" fill="#F8766D" fill-opacity="0.75"/>
<circle cx="247.9" cy="178.8" r="1.0" fill="#F8766D" fill-opacity="0.75"/>
<circle cx="226.9" cy="178.0" r="1.0" fill="#F8766D" fill-opacity="0.75"/>
<circle cx="242.1" cy="178.6" r="1.0" fill="#F8766D" fill-opacity="0.75"/>
<circle cx="239.8" cy="178.1" r="1.0" fill="#F8766D" fill-opacity="0.75"/>
<circle cx="232.8" cy="178.1" r="1.0" fill="#F8766D" fill-opacity="0.75"/>
<circle cx="244.2" cy="177.5" r="1.0" fill="#F8766D" fill-opacity="0.75"/>
<circle cx="245.9" cy="178.5" r="1.0" fill="#F8766D" fill-opacity="0.75"/>
<circle cx="246.3" cy="178.8" r="1.0" fill="#F8766D" fill-opacity="0.75"/>
<circle cx="241.5" cy="177.2" r="1.0" fill="#F8766D" fill-opacity="0.75"/>
<circle cx="226.0" cy="184.3" r="1.0" fill="#F8766D" fill-opacity="0.75"/>
<circle cx="227.8" cy="183.8" r="1.0" fill="#F8766D" fill-opacity="0.75"/>
<circle cx="228.8" cy="184.5" r="1.0" fill="#F8766D" fill-opacity="0.75"/>
<circle cx="231.4" cy="184.5" r="1.0" fill="#F8766D" fill-opacity="0.75"/>
<circle cx="232.2" cy="184.3" r="1.0" fill="#F8766D" fill-opacity="0.75"/>
<circle cx="234.3" cy="183.6" r="1.0" fill="#F8766D" fill-opacity="0.75"/>
<circle cx="236.2" cy="183.1" r="1.0" fill="#F8766D" fill-opacity="0.75"/>
<circle cx="238.5" cy="184.4" r="1.0" fill="#F8766D" fill-opacity="0.75"/>
<circle cx="242.8" cy="183.3" r="1.0" fill="#F8766D" fill-opacity="0.75"/>
<circle cx="246.9" cy="184.0" r="1.0" fill="#F8766D" fill-opacity="0.75"/>
<circle cx="249.1" cy="183.1" r="1.0" fill="#F8766D" fill-opacity="0.75"/>
<circle cx="229.0" cy="184.7" r="1.0" fill="#F8766D" fill-opacity="0.75"/>
<circle cx="234.1" cy="183.1" r="1.0" fill="#F8766D" fill-opacity="0.75"/>
<circle cx="248.6" cy="183.1" r="1.0" fill="#F8766D" fill-opacity="0.75"/>
<circle cx="246.6" cy="184.7" r="1.0" fill="#F8766D" fill-opacity="0.75"/>
<circle cx="245.8" cy="184.7" r="1.0" fill="#F8766D" fill-opacity="0.75"/>
<circle cx="241.6" cy="185.0" r="1.0" fill="#F8766D" fill-opacity="0.75"/>
<circle cx="237.5" cy="184.7" r="1.0" fill="#F8766D" fill-opacity="0.75"/>
<circle cx="225.8" cy="190.6" r="1.0" fill="#F8766D" fill-opacity="0.75"/>
<circle cx="227.3" cy="189.7" r="1.0" fill="#F8766D" fill-opacity="0.75"/>
<circle cx="229.5" cy="190.9" r="1.0" fill="#F8766D" fill-opacity="0.75"/>
<circle cx="231.4" cy="189.1" r="1.0" fill="#F8766D" fill-opacity="0.75"/>
<circle cx="232.0" cy="190.2" r="1.0" fill="#F8766D" fill-opacity="0.75"/>
<circle cx="234.7" cy="189.2" r="1.0" fill="#F8766D" fill-opacity="0.75"/>
<circle cx="237.8" cy="189.1" r="1.0" fill="#F8766D" fill-opacity="0.75"/>
<circle cx="240.7" cy="189.6" r="1.0" fill="#F8766D" fill-opacity="0.75"/>
<circle cx="245.6" cy="190.9" r="1.0" fill="#F8766D" fill-opacity="0.75"/>
<circle cx="247.2" cy="189.9" r="1.0" fill="#F8766D" fill-opacity="0.75"/>
<circle cx="248.1" cy="191.0" r="1.0" fill="#F8766D" fill-opacity="0.75"/>
<circle cx="229.0" cy="190.3" r="1.0" fill="#F8766D" fill-opacity="0.75"/>
<circle cx="239.4" cy="190.0" r="1.0" fill="#F8766D" fill-opacity="0.75"/>
<circle cx="246.4" cy="190.9" r="1.0" fill="#F8766D" fill-opacity="0.75"/>
<circle cx="245.4" cy="190.4" r="1.0" fill="#F8766D" fill-opacity="0.75"/>
<circle cx="229.1" cy="189.9" r="1.0" fill="#F8766D" fill-opacity="0.75"/>
<circle cx="245.0" cy="189.6" r="1.0" fill="#F8766D" fill-opacity="0.75"/>
<circle cx="234.7" cy="190.5" r="1.0" fill="#F8766D" fill-opacity="0.75"/>
<circle cx="225.4" cy="196.7" r="1.0" fill="#F8766D" fill-opacity="0.75"/>
<circle cx="226.8" cy="195.3" r="1.0" fill="#F8766D" fill-opacity="0.75"/>
<circle cx="230.5" cy="195.9" r="1.0" fill="#F8766D" fill-opacity="0.75"/>
<circle cx="231.7" cy="195.3" r="1.0" fill="#F8766D" fill-opacity="0.75"/>
<circle cx="232.7" cy="195.6" r="1.0" fill="#F8766D" fill-opacity="0.75"/>
<circle cx="235.4" cy="195.5" r="1.0" fill="#F8766D" fill-opacity="0.75"/>
<circle cx="243.8" cy="196.7" r="1.0" fill="#F8766D" fill-opacity="0.75"/>
<circle cx="245.7" cy="195.8" r="1.0" fill="#F8766D" fill-opacity="0.75"/>
<circle cx="249.3" cy="197.1" r="1.0" fill="#F8766D" fill-opacity="0.75"/>
<circle cx="231.1" cy="195.3" r="1.0" fill="#F8766D" fill-opacity="0.75"/>
<circle cx="247.3" cy="195.2" r="1.0" fill="#F8766D" fill-opacity="0.75"/>
<circle cx="229.5" cy="195.6" r="1.0" fill="#F8766D" fill-opacity="0.75"/>
<circle cx="230.4" cy="195.9" r="1.0" fill="#F8766D" fill-opacity="0.75"/>
<circle cx="239.3" cy="196.4" r="1.0" fill="#F8766D" fill-opacity="0.75"/>
<circle cx="233.9" cy="201.5" r="1.0" fill="#F8766D" fill-opacity="0.75"/>
<circle cx="235.8" cy="200.5" r="1.0" fill="#F8766D" fill-opacity="0.75"/>
<circle cx="248.9" cy="201.8" r="1.0" fill="#F8766D" fill-opacity="0.75"/>
<circle cx="286.3" cy="90.9" r="1.0" fill="#F8766D" fill-opacity="0.75"/>
<circle cx="277.8" cy="136.2" r="1.0" fill="#F8766D" fill-opacity="0.75"/>
<circle cx="276.5" cy="121.5" r="1.0" fill="#00BFC4" fill-opacity="0.65"/>
<circle cx="290.9" cy="120.0" r="1.0" fill="#00BFC4" fill-opacity="0.65"/>
<circle cx="287.1" cy="125.8" r="1.0" fill="#00BFC4" fill-opacity="0.65"/>
<circle cx="295.6" cy="131.4" r="1.0" fill="#00BFC4" fill-opacity="0.65"/>
<circle cx="298.0" cy="136.5" r="1.0" fill="#00BFC4" fill-opacity="0.65"/>
<circle cx="285.9" cy="142.5" r="1.0" fill="#00BFC4" fill-opacity="0.65"/>
<circle cx="287.8" cy="149.7" r="1.0" fill="#00BFC4" fill-opacity="0.65"/>
<circle cx="289.8" cy="150.0" r="1.0" fill="#00BFC4" fill-opacity="0.65"/>
<circle cx="283.2" cy="156.0" r="1.0" fill="#00BFC4" fill-opacity="0.65"/>
<circle cx="289.5" cy="154.7" r="1.0" fill="#00BFC4" fill-opacity="0.65"/>
<circle cx="285.7" cy="161.8" r="1.0" fill="#00BFC4" fill-opacity="0.65"/>
<circle cx="295.9" cy="161.3" r="1.0" fill="#00BFC4" fill-opacity="0.65"/>
<circle cx="285.0" cy="167.4" r="1.0" fill="#00BFC4" fill-opacity="0.65"/>
<circle cx="287.9" cy="166.1" r="1.0" fill="#00BFC4" fill-opacity="0.65"/>
<circle cx="293.0" cy="165.7" r="1.0" fill="#00BFC4" fill-opacity="0.65"/>
<circle cx="279.1" cy="178.6" r="1.0" fill="#00BFC4" fill-opacity="0.65"/>
<circle cx="288.3" cy="177.9" r="1.0" fill="#00BFC4" fill-opacity="0.65"/>
<circle cx="292.6" cy="183.2" r="1.0" fill="#00BFC4" fill-opacity="0.65"/>
<circle cx="297.6" cy="189.8" r="1.0" fill="#00BFC4" fill-opacity="0.65"/>
<circle cx="285.1" cy="148.7" r="1.0" fill="#F8766D" fill-opacity="0.75"/>
<circle cx="280.1" cy="154.2" r="1.0" fill="#F8766D" fill-opacity="0.75"/>
<circle cx="280.6" cy="155.2" r="1.0" fill="#F8766D" fill-opacity="0.75"/>
<circle cx="288.1" cy="155.0" r="1.0" fill="#F8766D" fill-opacity="0.75"/>
<circle cx="290.1" cy="155.1" r="1.0" fill="#F8766D" fill-opacity="0.75"/>
<circle cx="291.2" cy="155.6" r="1.0" fill="#F8766D" fill-opacity="0.75"/>
<circle cx="293.9" cy="155.9" r="1.0" fill="#F8766D" fill-opacity="0.75"/>
<circle cx="295.4" cy="154.5" r="1.0" fill="#F8766D" fill-opacity="0.75"/>
<circle cx="296.7" cy="155.2" r="1.0" fill="#F8766D" fill-opacity="0.75"/>
<circle cx="292.1" cy="154.7" r="1.0" fill="#F8766D" fill-opacity="0.75"/>
<circle cx="293.6" cy="154.6" r="1.0" fill="#F8766D" fill-opacity="0.75"/>
<circle cx="289.3" cy="154.7" r="1.0" fill="#F8766D" fill-opacity="0.75"/>
<circle cx="293.8" cy="154.7" r="1.0" fill="#F8766D" fill-opacity="0.75"/>
<circle cx="286.9" cy="154.6" r="1.0" fill="#F8766D" fill-opacity="0.75"/>
<circle cx="277.0" cy="160.7" r="1.0" fill="#F8766D" fill-opacity="0.75"/>
<circle cx="279.7" cy="160.8" r="1.0" fill="#F8766D" fill-opacity="0.75"/>
<circle cx="280.6" cy="160.9" r="1.0" fill="#F8766D" fill-opacity="0.75"/>
<circle cx="286.5" cy="162.1" r="1.0" fill="#F8766D" fill-opacity="0.75"/>
<circle cx="291.2" cy="161.2" r="1.0" fill="#F8766D" fill-opacity="0.75"/>
<circle cx="291.4" cy="161.9" r="1.0" fill="#F8766D" fill-opacity="0.75"/>
<circle cx="296.9" cy="161.3" r="1.0" fill="#F8766D" fill-opacity="0.75"/>
<circle cx="284.4" cy="160.8" r="1.0" fill="#F8766D" fill-opacity="0.75"/>
<circle cx="296.1" cy="160.8" r="1.0" fill="#F8766D" fill-opacity="0.75"/>
<circle cx="288.9" cy="160.4" r="1.0" fill="#F8766D" fill-opacity="0.75"/>
<circle cx="287.6" cy="161.6" r="1.0" fill="#F8766D" fill-opacity="0.75"/>
<circle cx="275.5" cy="165.5" r="1.0" fill="#F8766D" fill-opacity="0.75"/>
<circle cx="296.0" cy="166.2" r="1.0" fill="#F8766D" fill-opacity="0.75"/>
<circle cx="275.3" cy="172.7" r="1.0" fill="#F8766D" fill-opacity="0.75"/>
<circle cx="277.2" cy="172.5" r="1.0" fill="#F8766D" fill-opacity="0.75"/>
<circle cx="278.1" cy="172.8" r="1.0" fill="#F8766D" fill-opacity="0.75"/>
<circle cx="280.2" cy="171.6" r="1.0" fill="#F8766D" fill-opacity="0.75"/>
<circle cx="281.7" cy="172.0" r="1.0" fill="#F8766D" fill-opacity="0.75"/>
<circle cx="287.0" cy="172.6" r="1.0" fill="#F8766D" fill-opacity="0.75"/>
<circle cx="288.4" cy="172.0" r="1.0" fill="#F8766D" fill-opacity="0.75"/>
<circle cx="289.9" cy="173.0" r="1.0" fill="#F8766D" fill-opacity="0.75"/>
<circle cx="292.8" cy="171.9" r="1.0" fill="#F8766D" fill-opacity="0.75"/>
<circle cx="294.0" cy="172.2" r="1.0" fill="#F8766D" fill-opacity="0.75"/>
<circle cx="297.2" cy="172.3" r="1.0" fill="#F8766D" fill-opacity="0.75"/>
<circle cx="284.1" cy="172.8" r="1.0" fill="#F8766D" fill-opacity="0.75"/>
<circle cx="290.9" cy="172.5" r="1.0" fill="#F8766D" fill-opacity="0.75"/>
<circle cx="287.2" cy="171.7" r="1.0" fill="#F8766D" fill-opacity="0.75"/>
<circle cx="276.3" cy="173.2" r="1.0" fill="#F8766D" fill-opacity="0.75"/>
<circle cx="275.2" cy="171.4" r="1.0" fill="#F8766D" fill-opacity="0.75"/>
<circle cx="285.2" cy="172.6" r="1.0" fill="#F8766D" fill-opacity="0.75"/>
<circle cx="278.2" cy="172.8" r="1.0" fill="#F8766D" fill-opacity="0.75"/>
<circle cx="274.5" cy="177.1" r="1.0" fill="#F8766D" fill-opacity="0.75"/>
<circle cx="276.2" cy="177.5" r="1.0" fill="#F8766D" fill-opacity="0.75"/>
<circle cx="279.4" cy="177.0" r="1.0" fill="#F8766D" fill-opacity="0.75"/>
<circle cx="281.6" cy="177.0" r="1.0" fill="#F8766D" fill-opacity="0.75"/>
<circle cx="283.7" cy="177.0" r="1.0" fill="#F8766D" fill-opacity="0.75"/>
<circle cx="286.0" cy="177.1" r="1.0" fill="#F8766D" fill-opacity="0.75"/>
<circle cx="289.5" cy="178.3" r="1.0" fill="#F8766D" fill-opacity="0.75"/>
<circle cx="291.3" cy="178.5" r="1.0" fill="#F8766D" fill-opacity="0.75"/>
<circle cx="294.2" cy="178.2" r="1.0" fill="#F8766D" fill-opacity="0.75"/>
<circle cx="296.5" cy="178.4" r="1.0" fill="#F8766D" fill-opacity="0.75"/>
<circle cx="297.9" cy="177.8" r="1.0" fill="#F8766D" fill-opacity="0.75"/>
<circle cx="280.7" cy="177.0" r="1.0" fill="#F8766D" fill-opacity="0.75"/>
<circle cx="280.8" cy="178.2" r="1.0" fill="#F8766D" fill-opacity="0.75"/>
<circle cx="277.5" cy="178.6" r="1.0" fill="#F8766D" fill-opacity="0.75"/>
<circle cx="288.6" cy="178.8" r="1.0" fill="#F8766D" fill-opacity="0.75"/>
<circle cx="292.4" cy="177.8" r="1.0" fill="#F8766D" fill-opacity="0.75"/>
<circle cx="290.6" cy="177.1" r="1.0" fill="#F8766D" fill-opacity="0.75"/>
<circle cx="281.9" cy="178.0" r="1.0" fill="#F8766D" fill-opacity="0.75"/>
<circle cx="274.4" cy="184.6" r="1.0" fill="#F8766D" fill-opacity="0.75"/>
<circle cx="275.5" cy="183.9" r="1.0" fill="#F8766D" fill-opacity="0.75"/>
<circle cx="277.1" cy="184.1" r="1.0" fill="#F8766D" fill-opacity="0.75"/>
<circle cx="279.9" cy="183.1" r="1.0" fill="#F8766D" fill-opacity="0.75"/>
<circle cx="282.4" cy="183.7" r="1.0" fill="#F8766D" fill-opacity="0.75"/>
<circle cx="283.6" cy="183.1" r="1.0" fill="#F8766D" fill-opacity="0.75"/>
<circle cx="287.0" cy="183.3" r="1.0" fill="#F8766D" fill-opacity="0.75"/>
<circle cx="288.9" cy="184.0" r="1.0" fill="#F8766D" fill-opacity="0.75"/>
<circle cx="291.5" cy="183.4" r="1.0" fill="#F8766D" fill-opacity="0.75"/>
<circle cx="294.7" cy="183.9" r="1.0" fill="#F8766D" fill-opacity="0.75"/>
<circle cx="297.5" cy="184.2" r="1.0" fill="#F8766D" fill-opacity="0.75"/>
<circle cx="294.9" cy="184.1" r="1.0" fill="#F8766D" fill-opacity="0.75"/>
<circle cx="290.7" cy="183.3" r="1.0" fill="#F8766D" fill-opacity="0.75"/>
<circle cx="279.7" cy="183.5" r="1.0" fill="#F8766D" fill-opacity="0.75"/>
<circle cx="289.0" cy="183.9" r="1.0" fill="#F8766D" fill-opacity="0.75"/>
<circle cx="293.2" cy="183.2" r="1.0" fill="#F8766D" fill-opacity="0.75"/>
<circle cx="281.0" cy="183.6" r="1.0" fill="#F8766D" fill-opacity="0.75"/>
<circle cx="280.9" cy="183.8" r="1.0" fill="#F8766D" fill-opacity="0.75"/>
<circle cx="275.3" cy="189.3" r="1.0" fill="#F8766D" fill-opacity="0.75"/>
<circle cx="277.8" cy="190.0" r="1.0" fill="#F8766D" fill-opacity="0.75"/>
<circle cx="280.7" cy="190.2" r="1.0" fill="#F8766D" fill-opacity="0.75"/>
<circle cx="284.8" cy="190.5" r="1.0" fill="#F8766D" fill-opacity="0.75"/>
<circle cx="286.1" cy="189.4" r="1.0" fill="#F8766D" fill-opacity="0.75"/>
<circle cx="288.3" cy="189.6" r="1.0" fill="#F8766D" fill-opacity="0.75"/>
<circle cx="289.6" cy="189.5" r="1.0" fill="#F8766D" fill-opacity="0.75"/>
<circle cx="292.4" cy="190.4" r="1.0" fill="#F8766D" fill-opacity="0.75"/>
<circle cx="294.5" cy="190.1" r="1.0" fill="#F8766D" fill-opacity="0.75"/>
<circle cx="298.0" cy="190.5" r="1.0" fill="#F8766D" fill-opacity="0.75"/>
<circle cx="279.2" cy="190.1" r="1.0" fill="#F8766D" fill-opacity="0.75"/>
<circle cx="276.8" cy="190.4" r="1.0" fill="#F8766D" fill-opacity="0.75"/>
<circle cx="281.0" cy="189.9" r="1.0" fill="#F8766D" fill-opacity="0.75"/>
<circle cx="292.2" cy="189.1" r="1.0" fill="#F8766D" fill-opacity="0.75"/>
<circle cx="280.9" cy="189.4" r="1.0" fill="#F8766D" fill-opacity="0.75"/>
<circle cx="295.0" cy="189.1" r="1.0" fill="#F8766D" fill-opacity="0.75"/>
<circle cx="274.3" cy="195.4" r="1.0" fill="#F8766D" fill-opacity="0.75"/>
<circle cx="276.4" cy="195.9" r="1.0" fill="#F8766D" fill-opacity="0.75"/>
<circle cx="277.4" cy="196.4" r="1.0" fill="#F8766D" fill-opacity="0.75"/>
<circle cx="280.0" cy="194.4" r="1.0" fill="#F8766D" fill-opacity="0.75"/>
<circle cx="281.4" cy="196.1" r="1.0" fill="#F8766D" fill-opacity="0.75"/>
<circle cx="283.0" cy="195.0" r="1.0" fill="#F8766D" fill-opacity="0.75"/>
<circle cx="285.9" cy="194.7" r="1.0" fill="#F8766D" fill-opacity="0.75"/>
<circle cx="287.9" cy="195.6" r="1.0" fill="#F8766D" fill-opacity="0.75"/>
<circle cx="289.7" cy="196.0" r="1.0" fill="#F8766D" fill-opacity="0.75"/>
<circle cx="291.3" cy="194.8" r="1.0" fill="#F8766D" fill-opacity="0.75"/>
<circle cx="294.3" cy="195.6" r="1.0" fill="#F8766D" fill-opacity="0.75"/>
<circle cx="295.3" cy="195.2" r="1.0" fill="#F8766D" fill-opacity="0.75"/>
<circle cx="298.2" cy="194.8" r="1.0" fill="#F8766D" fill-opacity="0.75"/>
<circle cx="276.3" cy="195.4" r="1.0" fill="#F8766D" fill-opacity="0.75"/>
<circle cx="282.3" cy="195.8" r="1.0" fill="#F8766D" fill-opacity="0.75"/>
<circle cx="286.0" cy="194.8" r="1.0" fill="#F8766D" fill-opacity="0.75"/>
<circle cx="293.5" cy="196.3" r="1.0" fill="#F8766D" fill-opacity="0.75"/>
<circle cx="294.7" cy="196.4" r="1.0" fill="#F8766D" fill-opacity="0.75"/>
<circle cx="284.2" cy="195.9" r="1.0" fill="#F8766D" fill-opacity="0.75"/>
<circle cx="296.5" cy="195.2" r="1.0" fill="#F8766D" fill-opacity="0.75"/>
<circle cx="287.0" cy="195.5" r="1.0" fill="#F8766D" fill-opacity="0.75"/>
<circle cx="282.3" cy="201.9" r="1.0" fill="#F8766D" fill-opacity="0.75"/>
<circle cx="286.4" cy="201.9" r="1.0" fill="#F8766D" fill-opacity="0.75"/>
<circle cx="290.1" cy="201.9" r="1.0" fill="#F8766D" fill-opacity="0.75"/>
<circle cx="289.7" cy="202.5" r="1.0" fill="#F8766D" fill-opacity="0.75"/>
<circle cx="284.2" cy="201.5" r="1.0" fill="#F8766D" fill-opacity="0.75"/>
<circle cx="286.8" cy="201.9" r="1.0" fill="#F8766D" fill-opacity="0.75"/>
<circle cx="334.0" cy="120.4" r="1.0" fill="#F8766D" fill-opacity="0.75"/>
<circle cx="345.6" cy="137.6" r="1.0" fill="#F8766D" fill-opacity="0.75"/>
<circle cx="335.9" cy="126.5" r="1.0" fill="#00BFC4" fill-opacity="0.65"/>
<circle cx="339.4" cy="125.9" r="1.0" fill="#00BFC4" fill-opacity="0.65"/>
<circle cx="328.1" cy="136.9" r="1.0" fill="#00BFC4" fill-opacity="0.65"/>
<circle cx="325.9" cy="148.4" r="1.0" fill="#00BFC4" fill-opacity="0.65"/>
<circle cx="334.6" cy="147.9" r="1.0" fill="#00BFC4" fill-opacity="0.65"/>
<circle cx="338.2" cy="148.0" r="1.0" fill="#00BFC4" fill-opacity="0.65"/>
<circle cx="343.4" cy="147.6" r="1.0" fill="#00BFC4" fill-opacity="0.65"/>
<circle cx="332.1" cy="148.3" r="1.0" fill="#00BFC4" fill-opacity="0.65"/>
<circle cx="328.5" cy="149.1" r="1.0" fill="#00BFC4" fill-opacity="0.65"/>
<circle cx="337.1" cy="154.2" r="1.0" fill="#00BFC4" fill-opacity="0.65"/>
<circle cx="339.2" cy="155.5" r="1.0" fill="#00BFC4" fill-opacity="0.65"/>
<circle cx="327.9" cy="160.4" r="1.0" fill="#00BFC4" fill-opacity="0.65"/>
<circle cx="339.2" cy="159.8" r="1.0" fill="#00BFC4" fill-opacity="0.65"/>
<circle cx="344.3" cy="160.4" r="1.0" fill="#00BFC4" fill-opacity="0.65"/>
<circle cx="323.8" cy="167.0" r="1.0" fill="#00BFC4" fill-opacity="0.65"/>
<circle cx="328.3" cy="167.4" r="1.0" fill="#00BFC4" fill-opacity="0.65"/>
<circle cx="329.4" cy="166.5" r="1.0" fill="#00BFC4" fill-opacity="0.65"/>
<circle cx="333.3" cy="166.6" r="1.0" fill="#00BFC4" fill-opacity="0.65"/>
<circle cx="326.0" cy="167.4" r="1.0" fill="#00BFC4" fill-opacity="0.65"/>
<circle cx="325.0" cy="166.4" r="1.0" fill="#00BFC4" fill-opacity="0.65"/>
<circle cx="325.2" cy="172.6" r="1.0" fill="#00BFC4" fill-opacity="0.65"/>
<circle cx="338.3" cy="172.9" r="1.0" fill="#00BFC4" fill-opacity="0.65"/>
<circle cx="328.4" cy="178.3" r="1.0" fill="#00BFC4" fill-opacity="0.65"/>
<circle cx="339.8" cy="178.6" r="1.0" fill="#00BFC4" fill-opacity="0.65"/>
<circle cx="342.1" cy="178.6" r="1.0" fill="#00BFC4" fill-opacity="0.65"/>
<circle cx="342.3" cy="190.7" r="1.0" fill="#00BFC4" fill-opacity="0.65"/>
<circle cx="327.0" cy="155.5" r="1.0" fill="#F8766D" fill-opacity="0.75"/>
<circle cx="331.4" cy="154.2" r="1.0" fill="#F8766D" fill-opacity="0.75"/>
<circle cx="336.0" cy="155.7" r="1.0" fill="#F8766D" fill-opacity="0.75"/>
<circle cx="344.6" cy="154.1" r="1.0" fill="#F8766D" fill-opacity="0.75"/>
<circle cx="346.5" cy="156.0" r="1.0" fill="#F8766D" fill-opacity="0.75"/>
<circle cx="331.2" cy="154.4" r="1.0" fill="#F8766D" fill-opacity="0.75"/>
<circle cx="329.4" cy="156.0" r="1.0" fill="#F8766D" fill-opacity="0.75"/>
<circle cx="331.7" cy="155.5" r="1.0" fill="#F8766D" fill-opacity="0.75"/>
<circle cx="324.0" cy="161.4" r="1.0" fill="#F8766D" fill-opacity="0.75"/>
<circle cx="325.9" cy="161.6" r="1.0" fill="#F8766D" fill-opacity="0.75"/>
<circle cx="334.8" cy="160.0" r="1.0" fill="#F8766D" fill-opacity="0.75"/>
<circle cx="337.6" cy="161.8" r="1.0" fill="#F8766D" fill-opacity="0.75"/>
<circle cx="347.1" cy="161.0" r="1.0" fill="#F8766D" fill-opacity="0.75"/>
<circle cx="344.4" cy="160.8" r="1.0" fill="#F8766D" fill-opacity="0.75"/>
<circle cx="342.2" cy="160.9" r="1.0" fill="#F8766D" fill-opacity="0.75"/>
<circle cx="342.1" cy="160.1" r="1.0" fill="#F8766D" fill-opacity="0.75"/>
<circle cx="329.6" cy="167.4" r="1.0" fill="#F8766D" fill-opacity="0.75"/>
<circle cx="331.2" cy="167.5" r="1.0" fill="#F8766D" fill-opacity="0.75"/>
<circle cx="337.3" cy="166.3" r="1.0" fill="#F8766D" fill-opacity="0.75"/>
<circle cx="340.9" cy="165.7" r="1.0" fill="#F8766D" fill-opacity="0.75"/>
<circle cx="342.7" cy="165.5" r="1.0" fill="#F8766D" fill-opacity="0.75"/>
<circle cx="345.6" cy="166.2" r="1.0" fill="#F8766D" fill-opacity="0.75"/>
<circle cx="338.8" cy="166.8" r="1.0" fill="#F8766D" fill-opacity="0.75"/>
<circle cx="341.8" cy="167.1" r="1.0" fill="#F8766D" fill-opacity="0.75"/>
<circle cx="341.6" cy="166.1" r="1.0" fill="#F8766D" fill-opacity="0.75"/>
<circle cx="330.8" cy="167.0" r="1.0" fill="#F8766D" fill-opacity="0.75"/>
<circle cx="324.5" cy="171.7" r="1.0" fill="#F8766D" fill-opacity="0.75"/>
<circle cx="327.5" cy="172.0" r="1.0" fill="#F8766D" fill-opacity="0.75"/>
<circle cx="331.4" cy="173.5" r="1.0" fill="#F8766D" fill-opacity="0.75"/>
<circle cx="332.6" cy="173.2" r="1.0" fill="#F8766D" fill-opacity="0.75"/>
<circle cx="341.0" cy="173.4" r="1.0" fill="#F8766D" fill-opacity="0.75"/>
<circle cx="346.1" cy="173.0" r="1.0" fill="#F8766D" fill-opacity="0.75"/>
<circle cx="346.9" cy="173.4" r="1.0" fill="#F8766D" fill-opacity="0.75"/>
<circle cx="345.1" cy="173.6" r="1.0" fill="#F8766D" fill-opacity="0.75"/>
<circle cx="328.8" cy="172.2" r="1.0" fill="#F8766D" fill-opacity="0.75"/>
<circle cx="332.2" cy="172.6" r="1.0" fill="#F8766D" fill-opacity="0.75"/>
<circle cx="331.4" cy="172.2" r="1.0" fill="#F8766D" fill-opacity="0.75"/>
<circle cx="324.7" cy="177.0" r="1.0" fill="#F8766D" fill-opacity="0.75"/>
<circle cx="326.4" cy="178.5" r="1.0" fill="#F8766D" fill-opacity="0.75"/>
<circle cx="331.8" cy="178.8" r="1.0" fill="#F8766D" fill-opacity="0.75"/>
<circle cx="332.8" cy="178.8" r="1.0" fill="#F8766D" fill-opacity="0.75"/>
<circle cx="345.4" cy="177.6" r="1.0" fill="#F8766D" fill-opacity="0.75"/>
<circle cx="347.4" cy="178.9" r="1.0" fill="#F8766D" fill-opacity="0.75"/>
<circle cx="334.7" cy="178.1" r="1.0" fill="#F8766D" fill-opacity="0.75"/>
<circle cx="331.0" cy="177.3" r="1.0" fill="#F8766D" fill-opacity="0.75"/>
<circle cx="335.7" cy="177.2" r="1.0" fill="#F8766D" fill-opacity="0.75"/>
<circle cx="334.8" cy="178.9" r="1.0" fill="#F8766D" fill-opacity="0.75"/>
<circle cx="326.6" cy="183.6" r="1.0" fill="#F8766D" fill-opacity="0.75"/>
<circle cx="328.1" cy="183.3" r="1.0" fill="#F8766D" fill-opacity="0.75"/>
<circle cx="331.3" cy="183.2" r="1.0" fill="#F8766D" fill-opacity="0.75"/>
<circle cx="333.3" cy="184.5" r="1.0" fill="#F8766D" fill-opacity="0.75"/>
<circle cx="335.6" cy="183.7" r="1.0" fill="#F8766D" fill-opacity="0.75"/>
<circle cx="337.2" cy="183.9" r="1.0" fill="#F8766D" fill-opacity="0.75"/>
<circle cx="340.1" cy="183.9" r="1.0" fill="#F8766D" fill-opacity="0.75"/>
<circle cx="342.5" cy="184.0" r="1.0" fill="#F8766D" fill-opacity="0.75"/>
<circle cx="346.2" cy="183.1" r="1.0" fill="#F8766D" fill-opacity="0.75"/>
<circle cx="346.2" cy="184.7" r="1.0" fill="#F8766D" fill-opacity="0.75"/>
<circle cx="330.8" cy="184.6" r="1.0" fill="#F8766D" fill-opacity="0.75"/>
<circle cx="329.0" cy="185.0" r="1.0" fill="#F8766D" fill-opacity="0.75"/>
<circle cx="343.6" cy="184.6" r="1.0" fill="#F8766D" fill-opacity="0.75"/>
<circle cx="343.9" cy="184.5" r="1.0" fill="#F8766D" fill-opacity="0.75"/>
<circle cx="330.0" cy="184.5" r="1.0" fill="#F8766D" fill-opacity="0.75"/>
<circle cx="328.4" cy="183.5" r="1.0" fill="#F8766D" fill-opacity="0.75"/>
<circle cx="323.6" cy="189.3" r="1.0" fill="#F8766D" fill-opacity="0.75"/>
<circle cx="326.2" cy="190.1" r="1.0" fill="#F8766D" fill-opacity="0.75"/>
<circle cx="327.1" cy="190.6" r="1.0" fill="#F8766D" fill-opacity="0.75"/>
<circle cx="330.2" cy="190.6" r="1.0" fill="#F8766D" fill-opacity="0.75"/>
<circle cx="333.0" cy="189.9" r="1.0" fill="#F8766D" fill-opacity="0.75"/>
<circle cx="335.0" cy="190.8" r="1.0" fill="#F8766D" fill-opacity="0.75"/>
<circle cx="336.6" cy="189.2" r="1.0" fill="#F8766D" fill-opacity="0.75"/>
<circle cx="339.6" cy="190.4" r="1.0" fill="#F8766D" fill-opacity="0.75"/>
<circle cx="341.6" cy="190.2" r="1.0" fill="#F8766D" fill-opacity="0.75"/>
<circle cx="346.2" cy="189.9" r="1.0" fill="#F8766D" fill-opacity="0.75"/>
<circle cx="346.6" cy="190.4" r="1.0" fill="#F8766D" fill-opacity="0.75"/>
<circle cx="343.4" cy="189.8" r="1.0" fill="#F8766D" fill-opacity="0.75"/>
<circle cx="338.1" cy="189.7" r="1.0" fill="#F8766D" fill-opacity="0.75"/>
<circle cx="328.1" cy="190.2" r="1.0" fill="#F8766D" fill-opacity="0.75"/>
<circle cx="328.2" cy="190.8" r="1.0" fill="#F8766D" fill-opacity="0.75"/>
<circle cx="325.7" cy="190.5" r="1.0" fill="#F8766D" fill-opacity="0.75"/>
<circle cx="344.8" cy="189.3" r="1.0" fill="#F8766D" fill-opacity="0.75"/>
<circle cx="331.3" cy="189.5" r="1.0" fill="#F8766D" fill-opacity="0.75"/>
<circle cx="323.9" cy="196.2" r="1.0" fill="#F8766D" fill-opacity="0.75"/>
<circle cx="325.6" cy="196.4" r="1.0" fill="#F8766D" fill-opacity="0.75"/>
<circle cx="327.9" cy="196.2" r="1.0" fill="#F8766D" fill-opacity="0.75"/>
<circle cx="333.4" cy="196.5" r="1.0" fill="#F8766D" fill-opacity="0.75"/>
<circle cx="334.1" cy="196.2" r="1.0" fill="#F8766D" fill-opacity="0.75"/>
<circle cx="338.0" cy="196.0" r="1.0" fill="#F8766D" fill-opacity="0.75"/>
<circle cx="339.6" cy="196.0" r="1.0" fill="#F8766D" fill-opacity="0.75"/>
<circle cx="343.0" cy="196.1" r="1.0" fill="#F8766D" fill-opacity="0.75"/>
<circle cx="344.5" cy="196.9" r="1.0" fill="#F8766D" fill-opacity="0.75"/>
<circle cx="347.4" cy="195.3" r="1.0" fill="#F8766D" fill-opacity="0.75"/>
<circle cx="332.2" cy="196.1" r="1.0" fill="#F8766D" fill-opacity="0.75"/>
<circle cx="339.6" cy="195.2" r="1.0" fill="#F8766D" fill-opacity="0.75"/>
<circle cx="340.3" cy="196.8" r="1.0" fill="#F8766D" fill-opacity="0.75"/>
<circle cx="328.9" cy="195.4" r="1.0" fill="#F8766D" fill-opacity="0.75"/>
<circle cx="340.9" cy="195.4" r="1.0" fill="#F8766D" fill-opacity="0.75"/>
<circle cx="338.3" cy="195.5" r="1.0" fill="#F8766D" fill-opacity="0.75"/>
<circle cx="327.1" cy="200.4" r="1.0" fill="#F8766D" fill-opacity="0.75"/>
<circle cx="335.4" cy="200.9" r="1.0" fill="#F8766D" fill-opacity="0.75"/>
<circle cx="337.9" cy="201.2" r="1.0" fill="#F8766D" fill-opacity="0.75"/>
<circle cx="340.9" cy="200.1" r="1.0" fill="#F8766D" fill-opacity="0.75"/>
<circle cx="345.7" cy="201.0" r="1.0" fill="#F8766D" fill-opacity="0.75"/>
<circle cx="337.1" cy="200.6" r="1.0" fill="#F8766D" fill-opacity="0.75"/>
<circle cx="340.2" cy="200.1" r="1.0" fill="#F8766D" fill-opacity="0.75"/>
<circle cx="338.7" cy="200.7" r="1.0" fill="#F8766D" fill-opacity="0.75"/>
<circle cx="177.9" cy="313.1" r="1.0" fill="#F8766D" fill-opacity="0.75"/>
<circle cx="195.3" cy="313.8" r="1.0" fill="#F8766D" fill-opacity="0.75"/>
<circle cx="180.6" cy="327.2" r="1.0" fill="#F8766D" fill-opacity="0.75"/>
<circle cx="197.6" cy="330.7" r="1.0" fill="#F8766D" fill-opacity="0.75"/>
<circle cx="186.2" cy="352.2" r="1.0" fill="#F8766D" fill-opacity="0.75"/>
<circle cx="186.6" cy="358.1" r="1.0" fill="#F8766D" fill-opacity="0.75"/>
<circle cx="179.0" cy="362.2" r="1.0" fill="#F8766D" fill-opacity="0.75"/>
<circle cx="193.5" cy="362.8" r="1.0" fill="#F8766D" fill-opacity="0.75"/>
<circle cx="181.3" cy="368.0" r="1.0" fill="#F8766D" fill-opacity="0.75"/>
<circle cx="183.9" cy="367.3" r="1.0" fill="#F8766D" fill-opacity="0.75"/>
<circle cx="196.5" cy="366.3" r="1.0" fill="#F8766D" fill-opacity="0.75"/>
<circle cx="198.8" cy="368.2" r="1.0" fill="#F8766D" fill-opacity="0.75"/>
<circle cx="190.1" cy="369.5" r="1.0" fill="#F8766D" fill-opacity="0.75"/>
<circle cx="190.5" cy="371.9" r="1.0" fill="#F8766D" fill-opacity="0.75"/>
<circle cx="197.7" cy="370.2" r="1.0" fill="#F8766D" fill-opacity="0.75"/>
<circle cx="181.1" cy="375.0" r="1.0" fill="#F8766D" fill-opacity="0.75"/>
<circle cx="185.6" cy="374.5" r="1.0" fill="#F8766D" fill-opacity="0.75"/>
<circle cx="187.0" cy="375.2" r="1.0" fill="#F8766D" fill-opacity="0.75"/>
<circle cx="193.2" cy="375.0" r="1.0" fill="#F8766D" fill-opacity="0.75"/>
<circle cx="194.4" cy="374.7" r="1.0" fill="#F8766D" fill-opacity="0.75"/>
<circle cx="195.5" cy="375.0" r="1.0" fill="#F8766D" fill-opacity="0.75"/>
<circle cx="196.4" cy="375.2" r="1.0" fill="#F8766D" fill-opacity="0.75"/>
<circle cx="198.0" cy="374.6" r="1.0" fill="#F8766D" fill-opacity="0.75"/>
<circle cx="200.4" cy="375.3" r="1.0" fill="#F8766D" fill-opacity="0.75"/>
<circle cx="184.3" cy="374.4" r="1.0" fill="#F8766D" fill-opacity="0.75"/>
<circle cx="190.0" cy="375.0" r="1.0" fill="#F8766D" fill-opacity="0.75"/>
<circle cx="181.4" cy="375.0" r="1.0" fill="#F8766D" fill-opacity="0.75"/>
<circle cx="180.8" cy="374.7" r="1.0" fill="#F8766D" fill-opacity="0.75"/>
<circle cx="183.0" cy="403.6" r="1.0" fill="#F8766D" fill-opacity="0.75"/>
<circle cx="188.1" cy="404.1" r="1.0" fill="#F8766D" fill-opacity="0.75"/>
<circle cx="191.6" cy="405.3" r="1.0" fill="#F8766D" fill-opacity="0.75"/>
<circle cx="193.1" cy="405.0" r="1.0" fill="#F8766D" fill-opacity="0.75"/>
<circle cx="195.6" cy="402.5" r="1.0" fill="#F8766D" fill-opacity="0.75"/>
<circle cx="199.5" cy="402.3" r="1.0" fill="#F8766D" fill-opacity="0.75"/>
<circle cx="200.7" cy="402.4" r="1.0" fill="#F8766D" fill-opacity="0.75"/>
<circle cx="177.5" cy="408.4" r="1.0" fill="#F8766D" fill-opacity="0.75"/>
<circle cx="180.0" cy="408.7" r="1.0" fill="#F8766D" fill-opacity="0.75"/>
<circle cx="192.7" cy="408.8" r="1.0" fill="#F8766D" fill-opacity="0.75"/>
<circle cx="196.1" cy="408.6" r="1.0" fill="#F8766D" fill-opacity="0.75"/>
<circle cx="185.9" cy="409.2" r="1.0" fill="#F8766D" fill-opacity="0.75"/>
<circle cx="194.4" cy="408.7" r="1.0" fill="#F8766D" fill-opacity="0.75"/>
<circle cx="186.7" cy="408.0" r="1.0" fill="#F8766D" fill-opacity="0.75"/>
<circle cx="185.6" cy="410.1" r="1.0" fill="#F8766D" fill-opacity="0.75"/>
<circle cx="178.4" cy="412.0" r="1.0" fill="#F8766D" fill-opacity="0.75"/>
<circle cx="186.6" cy="411.7" r="1.0" fill="#F8766D" fill-opacity="0.75"/>
<circle cx="189.9" cy="411.5" r="1.0" fill="#F8766D" fill-opacity="0.75"/>
<circle cx="196.7" cy="411.9" r="1.0" fill="#F8766D" fill-opacity="0.75"/>
<circle cx="184.0" cy="411.9" r="1.0" fill="#F8766D" fill-opacity="0.75"/>
<circle cx="193.6" cy="411.2" r="1.0" fill="#F8766D" fill-opacity="0.75"/>
<circle cx="201.0" cy="415.9" r="1.0" fill="#F8766D" fill-opacity="0.75"/>
<circle cx="186.9" cy="418.0" r="1.0" fill="#F8766D" fill-opacity="0.75"/>
<circle cx="198.7" cy="418.2" r="1.0" fill="#F8766D" fill-opacity="0.75"/>
<circle cx="198.5" cy="420.7" r="1.0" fill="#F8766D" fill-opacity="0.75"/>
<circle cx="180.2" cy="423.9" r="1.0" fill="#F8766D" fill-opacity="0.75"/>
<circle cx="229.4" cy="313.4" r="1.0" fill="#F8766D" fill-opacity="0.75"/>
<circle cx="235.2" cy="327.1" r="1.0" fill="#F8766D" fill-opacity="0.75"/>
<circle cx="229.8" cy="364.7" r="1.0" fill="#F8766D" fill-opacity="0.75"/>
<circle cx="226.6" cy="375.1" r="1.0" fill="#F8766D" fill-opacity="0.75"/>
<circle cx="233.8" cy="375.1" r="1.0" fill="#F8766D" fill-opacity="0.75"/>
<circle cx="244.9" cy="374.5" r="1.0" fill="#F8766D" fill-opacity="0.75"/>
<circle cx="247.1" cy="374.9" r="1.0" fill="#F8766D" fill-opacity="0.75"/>
<circle cx="241.9" cy="374.5" r="1.0" fill="#F8766D" fill-opacity="0.75"/>
<circle cx="231.4" cy="375.0" r="1.0" fill="#F8766D" fill-opacity="0.75"/>
<circle cx="243.1" cy="378.5" r="1.0" fill="#F8766D" fill-opacity="0.75"/>
<circle cx="245.2" cy="378.0" r="1.0" fill="#F8766D" fill-opacity="0.75"/>
<circle cx="236.0" cy="354.4" r="1.0" fill="#00BFC4" fill-opacity="0.65"/>
<circle cx="238.1" cy="360.3" r="1.0" fill="#00BFC4" fill-opacity="0.65"/>
<circle cx="242.2" cy="367.8" r="1.0" fill="#00BFC4" fill-opacity="0.65"/>
<circle cx="228.3" cy="374.7" r="1.0" fill="#00BFC4" fill-opacity="0.65"/>
<circle cx="241.4" cy="380.8" r="1.0" fill="#00BFC4" fill-opacity="0.65"/>
<circle cx="241.5" cy="385.0" r="1.0" fill="#00BFC4" fill-opacity="0.65"/>
<circle cx="249.7" cy="397.4" r="1.0" fill="#00BFC4" fill-opacity="0.65"/>
<circle cx="226.8" cy="428.9" r="1.0" fill="#F8766D" fill-opacity="0.75"/>
<circle cx="227.3" cy="436.7" r="1.0" fill="#F8766D" fill-opacity="0.75"/>
<circle cx="244.7" cy="436.3" r="1.0" fill="#F8766D" fill-opacity="0.75"/>
<circle cx="250.3" cy="436.1" r="1.0" fill="#F8766D" fill-opacity="0.75"/>
<circle cx="234.4" cy="424.0" r="1.0" fill="#F8766D" fill-opacity="0.75"/>
<circle cx="234.9" cy="423.8" r="1.0" fill="#F8766D" fill-opacity="0.75"/>
<circle cx="247.2" cy="422.4" r="1.0" fill="#F8766D" fill-opacity="0.75"/>
<circle cx="283.5" cy="252.3" r="1.0" fill="#00BFC4" fill-opacity="0.65"/>
<circle cx="279.2" cy="313.6" r="1.0" fill="#00BFC4" fill-opacity="0.65"/>
<circle cx="288.5" cy="313.4" r="1.0" fill="#F8766D" fill-opacity="0.75"/>
<circle cx="275.8" cy="327.5" r="1.0" fill="#F8766D" fill-opacity="0.75"/>
<circle cx="278.8" cy="365.2" r="1.0" fill="#F8766D" fill-opacity="0.75"/>
<circle cx="277.6" cy="374.8" r="1.0" fill="#F8766D" fill-opacity="0.75"/>
<circle cx="280.8" cy="374.6" r="1.0" fill="#F8766D" fill-opacity="0.75"/>
<circle cx="296.2" cy="375.0" r="1.0" fill="#F8766D" fill-opacity="0.75"/>
<circle cx="298.2" cy="374.6" r="1.0" fill="#F8766D" fill-opacity="0.75"/>
<circle cx="282.1" cy="374.7" r="1.0" fill="#F8766D" fill-opacity="0.75"/>
<circle cx="278.5" cy="375.3" r="1.0" fill="#F8766D" fill-opacity="0.75"/>
<circle cx="298.6" cy="379.5" r="1.0" fill="#F8766D" fill-opacity="0.75"/>
<circle cx="290.1" cy="345.9" r="1.0" fill="#00BFC4" fill-opacity="0.65"/>
<circle cx="287.1" cy="352.2" r="1.0" fill="#00BFC4" fill-opacity="0.65"/>
<circle cx="282.0" cy="357.7" r="1.0" fill="#00BFC4" fill-opacity="0.65"/>
<circle cx="274.5" cy="358.6" r="1.0" fill="#00BFC4" fill-opacity="0.65"/>
<circle cx="285.6" cy="360.7" r="1.0" fill="#00BFC4" fill-opacity="0.65"/>
<circle cx="285.1" cy="368.3" r="1.0" fill="#00BFC4" fill-opacity="0.65"/>
<circle cx="292.4" cy="367.6" r="1.0" fill="#00BFC4" fill-opacity="0.65"/>
<circle cx="283.9" cy="372.2" r="1.0" fill="#00BFC4" fill-opacity="0.65"/>
<circle cx="275.9" cy="375.0" r="1.0" fill="#00BFC4" fill-opacity="0.65"/>
<circle cx="282.5" cy="375.3" r="1.0" fill="#00BFC4" fill-opacity="0.65"/>
<circle cx="276.2" cy="379.1" r="1.0" fill="#00BFC4" fill-opacity="0.65"/>
<circle cx="292.6" cy="379.3" r="1.0" fill="#00BFC4" fill-opacity="0.65"/>
<circle cx="278.4" cy="383.2" r="1.0" fill="#F8766D" fill-opacity="0.75"/>
<circle cx="282.9" cy="382.3" r="1.0" fill="#F8766D" fill-opacity="0.75"/>
<circle cx="282.1" cy="385.1" r="1.0" fill="#F8766D" fill-opacity="0.75"/>
<circle cx="285.2" cy="384.2" r="1.0" fill="#F8766D" fill-opacity="0.75"/>
<circle cx="290.0" cy="386.8" r="1.0" fill="#F8766D" fill-opacity="0.75"/>
<circle cx="296.5" cy="381.6" r="1.0" fill="#F8766D" fill-opacity="0.75"/>
<circle cx="296.8" cy="389.1" r="1.0" fill="#F8766D" fill-opacity="0.75"/>
<circle cx="282.0" cy="389.6" r="1.0" fill="#F8766D" fill-opacity="0.75"/>
<circle cx="290.3" cy="391.3" r="1.0" fill="#F8766D" fill-opacity="0.75"/>
<circle cx="294.7" cy="390.9" r="1.0" fill="#F8766D" fill-opacity="0.75"/>
<circle cx="296.4" cy="391.8" r="1.0" fill="#F8766D" fill-opacity="0.75"/>
<circle cx="275.4" cy="436.4" r="1.0" fill="#F8766D" fill-opacity="0.75"/>
<circle cx="285.7" cy="435.8" r="1.0" fill="#F8766D" fill-opacity="0.75"/>
<circle cx="288.8" cy="436.3" r="1.0" fill="#F8766D" fill-opacity="0.75"/>
<circle cx="298.8" cy="436.0" r="1.0" fill="#F8766D" fill-opacity="0.75"/>
<circle cx="283.9" cy="435.8" r="1.0" fill="#F8766D" fill-opacity="0.75"/>
<circle cx="297.6" cy="436.3" r="1.0" fill="#F8766D" fill-opacity="0.75"/>
<circle cx="281.7" cy="429.2" r="1.0" fill="#F8766D" fill-opacity="0.75"/>
<circle cx="295.6" cy="429.6" r="1.0" fill="#F8766D" fill-opacity="0.75"/>
<circle cx="292.9" cy="428.1" r="1.0" fill="#F8766D" fill-opacity="0.75"/>
<circle cx="278.3" cy="426.1" r="1.0" fill="#F8766D" fill-opacity="0.75"/>
<circle cx="282.5" cy="425.2" r="1.0" fill="#F8766D" fill-opacity="0.75"/>
<circle cx="286.2" cy="394.9" r="1.0" fill="#F8766D" fill-opacity="0.75"/>
<circle cx="293.6" cy="384.0" r="1.0" fill="#00BFC4" fill-opacity="0.65"/>
<circle cx="284.1" cy="389.9" r="1.0" fill="#00BFC4" fill-opacity="0.65"/>
<circle cx="282.0" cy="394.9" r="1.0" fill="#00BFC4" fill-opacity="0.65"/>
<circle cx="282.7" cy="402.4" r="1.0" fill="#00BFC4" fill-opacity="0.65"/>
<circle cx="284.5" cy="402.6" r="1.0" fill="#00BFC4" fill-opacity="0.65"/>
<circle cx="279.8" cy="405.7" r="1.0" fill="#00BFC4" fill-opacity="0.65"/>
<circle cx="282.7" cy="416.5" r="1.0" fill="#00BFC4" fill-opacity="0.65"/>
<circle cx="323.1" cy="313.6" r="1.0" fill="#00BFC4" fill-opacity="0.65"/>
<circle cx="335.1" cy="339.8" r="1.0" fill="#00BFC4" fill-opacity="0.65"/>
<circle cx="336.9" cy="343.6" r="1.0" fill="#00BFC4" fill-opacity="0.65"/>
<circle cx="344.5" cy="348.4" r="1.0" fill="#00BFC4" fill-opacity="0.65"/>
<circle cx="328.4" cy="352.1" r="1.0" fill="#00BFC4" fill-opacity="0.65"/>
<circle cx="328.3" cy="350.7" r="1.0" fill="#00BFC4" fill-opacity="0.65"/>
<circle cx="334.7" cy="354.0" r="1.0" fill="#00BFC4" fill-opacity="0.65"/>
<circle cx="343.6" cy="357.3" r="1.0" fill="#00BFC4" fill-opacity="0.65"/>
<circle cx="334.1" cy="363.0" r="1.0" fill="#00BFC4" fill-opacity="0.65"/>
<circle cx="323.5" cy="364.9" r="1.0" fill="#00BFC4" fill-opacity="0.65"/>
<circle cx="341.2" cy="364.7" r="1.0" fill="#00BFC4" fill-opacity="0.65"/>
<circle cx="336.6" cy="372.2" r="1.0" fill="#00BFC4" fill-opacity="0.65"/>
<circle cx="324.5" cy="375.0" r="1.0" fill="#00BFC4" fill-opacity="0.65"/>
<circle cx="340.8" cy="374.5" r="1.0" fill="#00BFC4" fill-opacity="0.65"/>
<circle cx="339.8" cy="377.8" r="1.0" fill="#00BFC4" fill-opacity="0.65"/>
<circle cx="343.7" cy="327.7" r="1.0" fill="#F8766D" fill-opacity="0.75"/>
<circle cx="346.7" cy="354.3" r="1.0" fill="#F8766D" fill-opacity="0.75"/>
<circle cx="326.9" cy="364.7" r="1.0" fill="#F8766D" fill-opacity="0.75"/>
<circle cx="328.6" cy="375.0" r="1.0" fill="#F8766D" fill-opacity="0.75"/>
<circle cx="343.2" cy="375.2" r="1.0" fill="#F8766D" fill-opacity="0.75"/>
<circle cx="324.0" cy="379.0" r="1.0" fill="#F8766D" fill-opacity="0.75"/>
<circle cx="327.4" cy="382.0" r="1.0" fill="#F8766D" fill-opacity="0.75"/>
<circle cx="326.6" cy="383.2" r="1.0" fill="#F8766D" fill-opacity="0.75"/>
<circle cx="342.6" cy="384.9" r="1.0" fill="#F8766D" fill-opacity="0.75"/>
<circle cx="346.2" cy="384.1" r="1.0" fill="#F8766D" fill-opacity="0.75"/>
<circle cx="333.8" cy="387.1" r="1.0" fill="#F8766D" fill-opacity="0.75"/>
<circle cx="341.2" cy="387.2" r="1.0" fill="#F8766D" fill-opacity="0.75"/>
<circle cx="323.9" cy="390.5" r="1.0" fill="#F8766D" fill-opacity="0.75"/>
<circle cx="338.6" cy="392.4" r="1.0" fill="#F8766D" fill-opacity="0.75"/>
<circle cx="347.8" cy="389.9" r="1.0" fill="#F8766D" fill-opacity="0.75"/>
<circle cx="326.6" cy="435.8" r="1.0" fill="#F8766D" fill-opacity="0.75"/>
<circle cx="328.8" cy="436.1" r="1.0" fill="#F8766D" fill-opacity="0.75"/>
<circle cx="329.8" cy="435.7" r="1.0" fill="#F8766D" fill-opacity="0.75"/>
<circle cx="333.5" cy="436.2" r="1.0" fill="#F8766D" fill-opacity="0.75"/>
<circle cx="340.5" cy="435.9" r="1.0" fill="#F8766D" fill-opacity="0.75"/>
<circle cx="347.3" cy="436.3" r="1.0" fill="#F8766D" fill-opacity="0.75"/>
<circle cx="329.1" cy="436.2" r="1.0" fill="#F8766D" fill-opacity="0.75"/>
<circle cx="342.3" cy="436.4" r="1.0" fill="#F8766D" fill-opacity="0.75"/>
<circle cx="334.7" cy="436.4" r="1.0" fill="#F8766D" fill-opacity="0.75"/>
<circle cx="334.5" cy="385.3" r="1.0" fill="#00BFC4" fill-opacity="0.65"/>
<circle cx="340.9" cy="384.1" r="1.0" fill="#00BFC4" fill-opacity="0.65"/>
<circle cx="338.3" cy="387.7" r="1.0" fill="#00BFC4" fill-opacity="0.65"/>
<circle cx="322.5" cy="387.8" r="1.0" fill="#00BFC4" fill-opacity="0.65"/>
<circle cx="332.7" cy="391.7" r="1.0" fill="#00BFC4" fill-opacity="0.65"/>
<circle cx="334.1" cy="391.2" r="1.0" fill="#00BFC4" fill-opacity="0.65"/>
<circle cx="340.1" cy="390.2" r="1.0" fill="#00BFC4" fill-opacity="0.65"/>
<circle cx="328.7" cy="395.1" r="1.0" fill="#00BFC4" fill-opacity="0.65"/>
<circle cx="328.9" cy="403.1" r="1.0" fill="#00BFC4" fill-opacity="0.65"/>
<circle cx="335.2" cy="402.5" r="1.0" fill="#00BFC4" fill-opacity="0.65"/>
<circle cx="347.6" cy="402.8" r="1.0" fill="#00BFC4" fill-opacity="0.65"/>
<circle cx="327.9" cy="406.0" r="1.0" fill="#00BFC4" fill-opacity="0.65"/>
<circle cx="324.2" cy="409.2" r="1.0" fill="#00BFC4" fill-opacity="0.65"/>
<circle cx="338.1" cy="401.3" r="1.0" fill="#00BFC4" fill-opacity="0.65"/>
<circle cx="127.4" cy="488.2" r="1.0" fill="#F8766D" fill-opacity="0.75"/>
<circle cx="129.7" cy="487.5" r="1.0" fill="#F8766D" fill-opacity="0.75"/>
<circle cx="133.0" cy="488.5" r="1.0" fill="#F8766D" fill-opacity="0.75"/>
<circle cx="133.8" cy="488.3" r="1.0" fill="#F8766D" fill-opacity="0.75"/>
<circle cx="135.5" cy="487.4" r="1.0" fill="#F8766D" fill-opacity="0.75"/>
<circle cx="139.9" cy="488.0" r="1.0" fill="#F8766D" fill-opacity="0.75"/>
<circle cx="141.7" cy="487.5" r="1.0" fill="#F8766D" fill-opacity="0.75"/>
<circle cx="143.2" cy="488.0" r="1.0" fill="#F8766D" fill-opacity="0.75"/>
<circle cx="145.0" cy="488.3" r="1.0" fill="#F8766D" fill-opacity="0.75"/>
<circle cx="145.7" cy="488.3" r="1.0" fill="#F8766D" fill-opacity="0.75"/>
<circle cx="148.2" cy="488.5" r="1.0" fill="#F8766D" fill-opacity="0.75"/>
<circle cx="151.2" cy="487.0" r="1.0" fill="#F8766D" fill-opacity="0.75"/>
<circle cx="147.6" cy="487.2" r="1.0" fill="#F8766D" fill-opacity="0.75"/>
<circle cx="142.1" cy="487.5" r="1.0" fill="#F8766D" fill-opacity="0.75"/>
<circle cx="132.5" cy="488.5" r="1.0" fill="#F8766D" fill-opacity="0.75"/>
<circle cx="150.0" cy="488.5" r="1.0" fill="#F8766D" fill-opacity="0.75"/>
<circle cx="146.4" cy="488.2" r="1.0" fill="#F8766D" fill-opacity="0.75"/>
<circle cx="137.2" cy="487.5" r="1.0" fill="#F8766D" fill-opacity="0.75"/>
<circle cx="131.0" cy="502.4" r="1.0" fill="#F8766D" fill-opacity="0.75"/>
<circle cx="136.4" cy="534.2" r="1.0" fill="#F8766D" fill-opacity="0.75"/>
<circle cx="127.1" cy="563.1" r="1.0" fill="#F8766D" fill-opacity="0.75"/>
<circle cx="137.2" cy="562.6" r="1.0" fill="#F8766D" fill-opacity="0.75"/>
<circle cx="142.8" cy="563.3" r="1.0" fill="#F8766D" fill-opacity="0.75"/>
<circle cx="143.7" cy="563.3" r="1.0" fill="#F8766D" fill-opacity="0.75"/>
<circle cx="146.3" cy="563.2" r="1.0" fill="#F8766D" fill-opacity="0.75"/>
<circle cx="143.5" cy="563.9" r="1.0" fill="#F8766D" fill-opacity="0.75"/>
<circle cx="127.3" cy="562.9" r="1.0" fill="#F8766D" fill-opacity="0.75"/>
<circle cx="186.7" cy="486.7" r="1.0" fill="#F8766D" fill-opacity="0.75"/>
<circle cx="190.6" cy="502.7" r="1.0" fill="#F8766D" fill-opacity="0.75"/>
<circle cx="196.7" cy="502.7" r="1.0" fill="#F8766D" fill-opacity="0.75"/>
<circle cx="198.4" cy="502.8" r="1.0" fill="#F8766D" fill-opacity="0.75"/>
<circle cx="177.2" cy="517.2" r="1.0" fill="#F8766D" fill-opacity="0.75"/>
<circle cx="177.9" cy="517.4" r="1.0" fill="#F8766D" fill-opacity="0.75"/>
<circle cx="180.9" cy="518.0" r="1.0" fill="#F8766D" fill-opacity="0.75"/>
<circle cx="185.6" cy="518.0" r="1.0" fill="#F8766D" fill-opacity="0.75"/>
<circle cx="186.3" cy="518.7" r="1.0" fill="#F8766D" fill-opacity="0.75"/>
<circle cx="185.9" cy="517.4" r="1.0" fill="#F8766D" fill-opacity="0.75"/>
<circle cx="188.9" cy="517.7" r="1.0" fill="#F8766D" fill-opacity="0.75"/>
<circle cx="189.5" cy="518.3" r="1.0" fill="#F8766D" fill-opacity="0.75"/>
<circle cx="192.3" cy="518.6" r="1.0" fill="#F8766D" fill-opacity="0.75"/>
<circle cx="192.9" cy="517.6" r="1.0" fill="#F8766D" fill-opacity="0.75"/>
<circle cx="194.1" cy="517.6" r="1.0" fill="#F8766D" fill-opacity="0.75"/>
<circle cx="197.3" cy="517.3" r="1.0" fill="#F8766D" fill-opacity="0.75"/>
<circle cx="200.7" cy="517.6" r="1.0" fill="#F8766D" fill-opacity="0.75"/>
<circle cx="194.4" cy="517.5" r="1.0" fill="#F8766D" fill-opacity="0.75"/>
<circle cx="179.3" cy="518.0" r="1.0" fill="#F8766D" fill-opacity="0.75"/>
<circle cx="183.2" cy="517.3" r="1.0" fill="#F8766D" fill-opacity="0.75"/>
<circle cx="199.7" cy="518.7" r="1.0" fill="#F8766D" fill-opacity="0.75"/>
<circle cx="190.4" cy="517.9" r="1.0" fill="#F8766D" fill-opacity="0.75"/>
<circle cx="181.8" cy="518.5" r="1.0" fill="#F8766D" fill-opacity="0.75"/>
<circle cx="178.7" cy="519.4" r="1.0" fill="#F8766D" fill-opacity="0.75"/>
<circle cx="183.1" cy="533.1" r="1.0" fill="#F8766D" fill-opacity="0.75"/>
<circle cx="185.5" cy="533.7" r="1.0" fill="#F8766D" fill-opacity="0.75"/>
<circle cx="186.2" cy="533.5" r="1.0" fill="#F8766D" fill-opacity="0.75"/>
<circle cx="189.9" cy="533.0" r="1.0" fill="#F8766D" fill-opacity="0.75"/>
<circle cx="192.0" cy="532.4" r="1.0" fill="#F8766D" fill-opacity="0.75"/>
<circle cx="192.8" cy="532.8" r="1.0" fill="#F8766D" fill-opacity="0.75"/>
<circle cx="196.4" cy="532.7" r="1.0" fill="#F8766D" fill-opacity="0.75"/>
<circle cx="198.9" cy="533.4" r="1.0" fill="#F8766D" fill-opacity="0.75"/>
<circle cx="200.3" cy="533.3" r="1.0" fill="#F8766D" fill-opacity="0.75"/>
<circle cx="188.9" cy="532.6" r="1.0" fill="#F8766D" fill-opacity="0.75"/>
<circle cx="188.2" cy="532.8" r="1.0" fill="#F8766D" fill-opacity="0.75"/>
<circle cx="199.3" cy="533.5" r="1.0" fill="#F8766D" fill-opacity="0.75"/>
<circle cx="185.3" cy="532.4" r="1.0" fill="#F8766D" fill-opacity="0.75"/>
<circle cx="181.7" cy="537.0" r="1.0" fill="#F8766D" fill-opacity="0.75"/>
<circle cx="175.6" cy="547.7" r="1.0" fill="#F8766D" fill-opacity="0.75"/>
<circle cx="177.6" cy="548.3" r="1.0" fill="#F8766D" fill-opacity="0.75"/>
<circle cx="179.0" cy="548.9" r="1.0" fill="#F8766D" fill-opacity="0.75"/>
<circle cx="179.8" cy="548.8" r="1.0" fill="#F8766D" fill-opacity="0.75"/>
<circle cx="181.7" cy="548.4" r="1.0" fill="#F8766D" fill-opacity="0.75"/>
<circle cx="186.8" cy="547.8" r="1.0" fill="#F8766D" fill-opacity="0.75"/>
<circle cx="187.1" cy="548.2" r="1.0" fill="#F8766D" fill-opacity="0.75"/>
<circle cx="188.0" cy="548.5" r="1.0" fill="#F8766D" fill-opacity="0.75"/>
<circle cx="190.1" cy="548.3" r="1.0" fill="#F8766D" fill-opacity="0.75"/>
<circle cx="190.6" cy="547.9" r="1.0" fill="#F8766D" fill-opacity="0.75"/>
<circle cx="195.7" cy="548.2" r="1.0" fill="#F8766D" fill-opacity="0.75"/>
<circle cx="195.8" cy="547.9" r="1.0" fill="#F8766D" fill-opacity="0.75"/>
<circle cx="197.8" cy="548.0" r="1.0" fill="#F8766D" fill-opacity="0.75"/>
<circle cx="198.4" cy="548.1" r="1.0" fill="#F8766D" fill-opacity="0.75"/>
<circle cx="199.4" cy="548.9" r="1.0" fill="#F8766D" fill-opacity="0.75"/>
<circle cx="191.1" cy="548.3" r="1.0" fill="#F8766D" fill-opacity="0.75"/>
<circle cx="192.8" cy="548.2" r="1.0" fill="#F8766D" fill-opacity="0.75"/>
<circle cx="187.0" cy="547.8" r="1.0" fill="#F8766D" fill-opacity="0.75"/>
<circle cx="189.9" cy="547.8" r="1.0" fill="#F8766D" fill-opacity="0.75"/>
<circle cx="189.9" cy="548.6" r="1.0" fill="#F8766D" fill-opacity="0.75"/>
<circle cx="182.9" cy="548.7" r="1.0" fill="#F8766D" fill-opacity="0.75"/>
<circle cx="195.4" cy="547.6" r="1.0" fill="#F8766D" fill-opacity="0.75"/>
<circle cx="183.7" cy="547.6" r="1.0" fill="#F8766D" fill-opacity="0.75"/>
<circle cx="176.1" cy="594.6" r="1.0" fill="#F8766D" fill-opacity="0.75"/>
<circle cx="177.3" cy="594.0" r="1.0" fill="#F8766D" fill-opacity="0.75"/>
<circle cx="180.2" cy="593.7" r="1.0" fill="#F8766D" fill-opacity="0.75"/>
<circle cx="184.7" cy="593.6" r="1.0" fill="#F8766D" fill-opacity="0.75"/>
<circle cx="186.6" cy="593.8" r="1.0" fill="#F8766D" fill-opacity="0.75"/>
<circle cx="187.4" cy="594.9" r="1.0" fill="#F8766D" fill-opacity="0.75"/>
<circle cx="188.9" cy="594.8" r="1.0" fill="#F8766D" fill-opacity="0.75"/>
<circle cx="190.4" cy="593.8" r="1.0" fill="#F8766D" fill-opacity="0.75"/>
<circle cx="191.3" cy="593.5" r="1.0" fill="#F8766D" fill-opacity="0.75"/>
<circle cx="193.4" cy="594.1" r="1.0" fill="#F8766D" fill-opacity="0.75"/>
<circle cx="195.1" cy="593.4" r="1.0" fill="#F8766D" fill-opacity="0.75"/>
<circle cx="197.7" cy="594.7" r="1.0" fill="#F8766D" fill-opacity="0.75"/>
<circle cx="199.1" cy="593.6" r="1.0" fill="#F8766D" fill-opacity="0.75"/>
<circle cx="200.1" cy="594.2" r="1.0" fill="#F8766D" fill-opacity="0.75"/>
<circle cx="189.5" cy="593.8" r="1.0" fill="#F8766D" fill-opacity="0.75"/>
<circle cx="185.3" cy="594.6" r="1.0" fill="#F8766D" fill-opacity="0.75"/>
<circle cx="183.1" cy="593.7" r="1.0" fill="#F8766D" fill-opacity="0.75"/>
<circle cx="183.8" cy="594.4" r="1.0" fill="#F8766D" fill-opacity="0.75"/>
<circle cx="186.9" cy="594.5" r="1.0" fill="#F8766D" fill-opacity="0.75"/>
<circle cx="197.2" cy="594.1" r="1.0" fill="#F8766D" fill-opacity="0.75"/>
<circle cx="197.8" cy="593.5" r="1.0" fill="#F8766D" fill-opacity="0.75"/>
<circle cx="181.5" cy="601.5" r="1.0" fill="#F8766D" fill-opacity="0.75"/>
<circle cx="176.7" cy="609.1" r="1.0" fill="#F8766D" fill-opacity="0.75"/>
<circle cx="183.2" cy="608.6" r="1.0" fill="#F8766D" fill-opacity="0.75"/>
<circle cx="185.7" cy="609.9" r="1.0" fill="#F8766D" fill-opacity="0.75"/>
<circle cx="187.2" cy="609.3" r="1.0" fill="#F8766D" fill-opacity="0.75"/>
<circle cx="187.7" cy="609.5" r="1.0" fill="#F8766D" fill-opacity="0.75"/>
<circle cx="195.2" cy="609.9" r="1.0" fill="#F8766D" fill-opacity="0.75"/>
<circle cx="199.4" cy="609.4" r="1.0" fill="#F8766D" fill-opacity="0.75"/>
<circle cx="178.5" cy="610.0" r="1.0" fill="#F8766D" fill-opacity="0.75"/>
<circle cx="178.5" cy="608.8" r="1.0" fill="#F8766D" fill-opacity="0.75"/>
<circle cx="186.3" cy="609.1" r="1.0" fill="#F8766D" fill-opacity="0.75"/>
<circle cx="193.3" cy="609.7" r="1.0" fill="#F8766D" fill-opacity="0.75"/>
<circle cx="176.9" cy="614.9" r="1.0" fill="#F8766D" fill-opacity="0.75"/>
<circle cx="239.2" cy="519.7" r="1.0" fill="#00BFC4" fill-opacity="0.65"/>
<circle cx="241.9" cy="578.7" r="1.0" fill="#00BFC4" fill-opacity="0.65"/>
<circle cx="240.8" cy="548.4" r="1.0" fill="#F8766D" fill-opacity="0.75"/>
<circle cx="244.9" cy="548.7" r="1.0" fill="#F8766D" fill-opacity="0.75"/>
<circle cx="249.0" cy="561.7" r="1.0" fill="#F8766D" fill-opacity="0.75"/>
<circle cx="231.2" cy="565.3" r="1.0" fill="#F8766D" fill-opacity="0.75"/>
<circle cx="225.6" cy="577.8" r="1.0" fill="#F8766D" fill-opacity="0.75"/>
<circle cx="226.5" cy="577.5" r="1.0" fill="#F8766D" fill-opacity="0.75"/>
<circle cx="227.4" cy="578.2" r="1.0" fill="#F8766D" fill-opacity="0.75"/>
<circle cx="231.6" cy="577.8" r="1.0" fill="#F8766D" fill-opacity="0.75"/>
<circle cx="236.0" cy="578.3" r="1.0" fill="#F8766D" fill-opacity="0.75"/>
<circle cx="238.4" cy="578.0" r="1.0" fill="#F8766D" fill-opacity="0.75"/>
<circle cx="241.9" cy="577.8" r="1.0" fill="#F8766D" fill-opacity="0.75"/>
<circle cx="244.7" cy="577.3" r="1.0" fill="#F8766D" fill-opacity="0.75"/>
<circle cx="246.0" cy="577.5" r="1.0" fill="#F8766D" fill-opacity="0.75"/>
<circle cx="243.7" cy="576.8" r="1.0" fill="#F8766D" fill-opacity="0.75"/>
<circle cx="235.3" cy="577.4" r="1.0" fill="#F8766D" fill-opacity="0.75"/>
<circle cx="241.9" cy="577.4" r="1.0" fill="#F8766D" fill-opacity="0.75"/>
<circle cx="234.1" cy="577.2" r="1.0" fill="#F8766D" fill-opacity="0.75"/>
<circle cx="227.5" cy="579.0" r="1.0" fill="#F8766D" fill-opacity="0.75"/>
<circle cx="245.9" cy="578.7" r="1.0" fill="#F8766D" fill-opacity="0.75"/>
<circle cx="237.6" cy="593.1" r="1.0" fill="#00BFC4" fill-opacity="0.65"/>
<circle cx="229.3" cy="637.9" r="1.0" fill="#00BFC4" fill-opacity="0.65"/>
<circle cx="243.5" cy="608.2" r="1.0" fill="#00BFC4" fill-opacity="0.65"/>
<circle cx="225.9" cy="594.1" r="1.0" fill="#F8766D" fill-opacity="0.75"/>
<circle cx="226.3" cy="593.5" r="1.0" fill="#F8766D" fill-opacity="0.75"/>
<circle cx="227.3" cy="593.5" r="1.0" fill="#F8766D" fill-opacity="0.75"/>
<circle cx="231.1" cy="593.5" r="1.0" fill="#F8766D" fill-opacity="0.75"/>
<circle cx="233.3" cy="593.8" r="1.0" fill="#F8766D" fill-opacity="0.75"/>
<circle cx="234.6" cy="594.1" r="1.0" fill="#F8766D" fill-opacity="0.75"/>
<circle cx="235.6" cy="593.0" r="1.0" fill="#F8766D" fill-opacity="0.75"/>
<circle cx="236.2" cy="594.2" r="1.0" fill="#F8766D" fill-opacity="0.75"/>
<circle cx="240.2" cy="594.2" r="1.0" fill="#F8766D" fill-opacity="0.75"/>
<circle cx="241.3" cy="593.1" r="1.0" fill="#F8766D" fill-opacity="0.75"/>
<circle cx="245.0" cy="593.8" r="1.0" fill="#F8766D" fill-opacity="0.75"/>
<circle cx="246.5" cy="593.4" r="1.0" fill="#F8766D" fill-opacity="0.75"/>
<circle cx="247.9" cy="594.2" r="1.0" fill="#F8766D" fill-opacity="0.75"/>
<circle cx="230.8" cy="594.0" r="1.0" fill="#F8766D" fill-opacity="0.75"/>
<circle cx="245.7" cy="593.0" r="1.0" fill="#F8766D" fill-opacity="0.75"/>
<circle cx="229.3" cy="593.6" r="1.0" fill="#F8766D" fill-opacity="0.75"/>
<circle cx="225.7" cy="593.9" r="1.0" fill="#F8766D" fill-opacity="0.75"/>
<circle cx="246.1" cy="593.4" r="1.0" fill="#F8766D" fill-opacity="0.75"/>
<circle cx="235.2" cy="592.9" r="1.0" fill="#F8766D" fill-opacity="0.75"/>
<circle cx="231.9" cy="600.6" r="1.0" fill="#F8766D" fill-opacity="0.75"/>
<circle cx="245.5" cy="600.1" r="1.0" fill="#F8766D" fill-opacity="0.75"/>
<circle cx="224.5" cy="609.0" r="1.0" fill="#F8766D" fill-opacity="0.75"/>
<circle cx="226.7" cy="609.4" r="1.0" fill="#F8766D" fill-opacity="0.75"/>
<circle cx="229.4" cy="608.3" r="1.0" fill="#F8766D" fill-opacity="0.75"/>
<circle cx="232.0" cy="609.0" r="1.0" fill="#F8766D" fill-opacity="0.75"/>
<circle cx="234.5" cy="609.4" r="1.0" fill="#F8766D" fill-opacity="0.75"/>
<circle cx="238.7" cy="609.3" r="1.0" fill="#F8766D" fill-opacity="0.75"/>
<circle cx="239.5" cy="608.7" r="1.0" fill="#F8766D" fill-opacity="0.75"/>
<circle cx="241.6" cy="608.3" r="1.0" fill="#F8766D" fill-opacity="0.75"/>
<circle cx="245.4" cy="609.5" r="1.0" fill="#F8766D" fill-opacity="0.75"/>
<circle cx="247.7" cy="609.3" r="1.0" fill="#F8766D" fill-opacity="0.75"/>
<circle cx="250.1" cy="609.3" r="1.0" fill="#F8766D" fill-opacity="0.75"/>
<circle cx="226.7" cy="609.2" r="1.0" fill="#F8766D" fill-opacity="0.75"/>
<circle cx="229.5" cy="609.5" r="1.0" fill="#F8766D" fill-opacity="0.75"/>
<circle cx="237.1" cy="609.4" r="1.0" fill="#F8766D" fill-opacity="0.75"/>
<circle cx="231.5" cy="608.6" r="1.0" fill="#F8766D" fill-opacity="0.75"/>
<circle cx="236.2" cy="608.0" r="1.0" fill="#F8766D" fill-opacity="0.75"/>
<circle cx="243.8" cy="609.0" r="1.0" fill="#F8766D" fill-opacity="0.75"/>
<circle cx="247.0" cy="616.0" r="1.0" fill="#F8766D" fill-opacity="0.75"/>
<circle cx="238.1" cy="617.9" r="1.0" fill="#F8766D" fill-opacity="0.75"/>
<circle cx="224.4" cy="624.6" r="1.0" fill="#F8766D" fill-opacity="0.75"/>
<circle cx="227.1" cy="624.5" r="1.0" fill="#F8766D" fill-opacity="0.75"/>
<circle cx="228.3" cy="624.0" r="1.0" fill="#F8766D" fill-opacity="0.75"/>
<circle cx="231.1" cy="623.3" r="1.0" fill="#F8766D" fill-opacity="0.75"/>
<circle cx="231.5" cy="623.4" r="1.0" fill="#F8766D" fill-opacity="0.75"/>
<circle cx="233.4" cy="623.4" r="1.0" fill="#F8766D" fill-opacity="0.75"/>
<circle cx="234.3" cy="623.4" r="1.0" fill="#F8766D" fill-opacity="0.75"/>
<circle cx="238.5" cy="623.7" r="1.0" fill="#F8766D" fill-opacity="0.75"/>
<circle cx="240.2" cy="623.9" r="1.0" fill="#F8766D" fill-opacity="0.75"/>
<circle cx="242.4" cy="624.1" r="1.0" fill="#F8766D" fill-opacity="0.75"/>
<circle cx="244.5" cy="624.7" r="1.0" fill="#F8766D" fill-opacity="0.75"/>
<circle cx="246.2" cy="624.0" r="1.0" fill="#F8766D" fill-opacity="0.75"/>
<circle cx="246.9" cy="623.9" r="1.0" fill="#F8766D" fill-opacity="0.75"/>
<circle cx="249.0" cy="624.0" r="1.0" fill="#F8766D" fill-opacity="0.75"/>
<circle cx="249.5" cy="624.2" r="1.0" fill="#F8766D" fill-opacity="0.75"/>
<circle cx="233.9" cy="623.4" r="1.0" fill="#F8766D" fill-opacity="0.75"/>
<circle cx="231.4" cy="623.6" r="1.0" fill="#F8766D" fill-opacity="0.75"/>
<circle cx="224.5" cy="623.1" r="1.0" fill="#F8766D" fill-opacity="0.75"/>
<circle cx="228.4" cy="623.4" r="1.0" fill="#F8766D" fill-opacity="0.75"/>
<circle cx="231.0" cy="623.2" r="1.0" fill="#F8766D" fill-opacity="0.75"/>
<circle cx="239.4" cy="623.5" r="1.0" fill="#F8766D" fill-opacity="0.75"/>
<circle cx="225.3" cy="631.3" r="1.0" fill="#F8766D" fill-opacity="0.75"/>
<circle cx="229.0" cy="632.0" r="1.0" fill="#F8766D" fill-opacity="0.75"/>
<circle cx="232.2" cy="631.0" r="1.0" fill="#F8766D" fill-opacity="0.75"/>
<circle cx="233.8" cy="631.4" r="1.0" fill="#F8766D" fill-opacity="0.75"/>
<circle cx="235.2" cy="632.1" r="1.0" fill="#F8766D" fill-opacity="0.75"/>
<circle cx="237.6" cy="630.9" r="1.0" fill="#F8766D" fill-opacity="0.75"/>
<circle cx="239.1" cy="631.2" r="1.0" fill="#F8766D" fill-opacity="0.75"/>
<circle cx="241.3" cy="630.9" r="1.0" fill="#F8766D" fill-opacity="0.75"/>
<circle cx="244.3" cy="631.3" r="1.0" fill="#F8766D" fill-opacity="0.75"/>
<circle cx="245.1" cy="631.2" r="1.0" fill="#F8766D" fill-opacity="0.75"/>
<circle cx="247.9" cy="631.7" r="1.0" fill="#F8766D" fill-opacity="0.75"/>
<circle cx="241.9" cy="630.9" r="1.0" fill="#F8766D" fill-opacity="0.75"/>
<circle cx="235.6" cy="631.4" r="1.0" fill="#F8766D" fill-opacity="0.75"/>
<circle cx="241.2" cy="630.9" r="1.0" fill="#F8766D" fill-opacity="0.75"/>
<circle cx="245.0" cy="630.8" r="1.0" fill="#F8766D" fill-opacity="0.75"/>
<circle cx="235.8" cy="631.0" r="1.0" fill="#F8766D" fill-opacity="0.75"/>
<circle cx="238.0" cy="631.2" r="1.0" fill="#F8766D" fill-opacity="0.75"/>
<circle cx="240.2" cy="644.0" r="1.0" fill="#F8766D" fill-opacity="0.75"/>
<circle cx="242.5" cy="645.5" r="1.0" fill="#F8766D" fill-opacity="0.75"/>
<circle cx="227.9" cy="647.2" r="1.0" fill="#F8766D" fill-opacity="0.75"/>
<circle cx="237.6" cy="647.8" r="1.0" fill="#F8766D" fill-opacity="0.75"/>
<circle cx="245.2" cy="647.7" r="1.0" fill="#F8766D" fill-opacity="0.75"/>
<circle cx="233.4" cy="652.2" r="1.0" fill="#F8766D" fill-opacity="0.75"/>
<circle cx="243.5" cy="652.1" r="1.0" fill="#F8766D" fill-opacity="0.75"/>
<circle cx="238.1" cy="654.9" r="1.0" fill="#F8766D" fill-opacity="0.75"/>
<circle cx="284.0" cy="518.4" r="1.0" fill="#00BFC4" fill-opacity="0.65"/>
<circle cx="293.0" cy="517.4" r="1.0" fill="#00BFC4" fill-opacity="0.65"/>
<circle cx="287.9" cy="576.6" r="1.0" fill="#00BFC4" fill-opacity="0.65"/>
<circle cx="282.8" cy="593.4" r="1.0" fill="#00BFC4" fill-opacity="0.65"/>
<circle cx="294.3" cy="592.7" r="1.0" fill="#00BFC4" fill-opacity="0.65"/>
<circle cx="296.9" cy="592.8" r="1.0" fill="#00BFC4" fill-opacity="0.65"/>
<circle cx="281.1" cy="617.4" r="1.0" fill="#00BFC4" fill-opacity="0.65"/>
<circle cx="277.8" cy="624.0" r="1.0" fill="#00BFC4" fill-opacity="0.65"/>
<circle cx="290.4" cy="624.2" r="1.0" fill="#00BFC4" fill-opacity="0.65"/>
<circle cx="292.5" cy="624.0" r="1.0" fill="#00BFC4" fill-opacity="0.65"/>
<circle cx="297.1" cy="624.4" r="1.0" fill="#00BFC4" fill-opacity="0.65"/>
<circle cx="293.7" cy="623.9" r="1.0" fill="#00BFC4" fill-opacity="0.65"/>
<circle cx="295.5" cy="623.9" r="1.0" fill="#00BFC4" fill-opacity="0.65"/>
<circle cx="280.0" cy="624.7" r="1.0" fill="#F8766D" fill-opacity="0.75"/>
<circle cx="274.0" cy="630.4" r="1.0" fill="#00BFC4" fill-opacity="0.65"/>
<circle cx="279.4" cy="631.9" r="1.0" fill="#00BFC4" fill-opacity="0.65"/>
<circle cx="296.7" cy="631.7" r="1.0" fill="#00BFC4" fill-opacity="0.65"/>
<circle cx="283.6" cy="647.5" r="1.0" fill="#00BFC4" fill-opacity="0.65"/>
<circle cx="284.5" cy="647.0" r="1.0" fill="#00BFC4" fill-opacity="0.65"/>
<circle cx="281.1" cy="639.2" r="1.0" fill="#00BFC4" fill-opacity="0.65"/>
<circle cx="287.3" cy="638.8" r="1.0" fill="#00BFC4" fill-opacity="0.65"/>
<circle cx="278.2" cy="632.4" r="1.0" fill="#F8766D" fill-opacity="0.75"/>
<circle cx="275.4" cy="642.0" r="1.0" fill="#F8766D" fill-opacity="0.75"/>
<circle cx="292.9" cy="641.3" r="1.0" fill="#F8766D" fill-opacity="0.75"/>
<circle cx="275.7" cy="646.6" r="1.0" fill="#F8766D" fill-opacity="0.75"/>
<circle cx="278.1" cy="645.6" r="1.0" fill="#F8766D" fill-opacity="0.75"/>
<circle cx="280.5" cy="647.0" r="1.0" fill="#F8766D" fill-opacity="0.75"/>
<circle cx="285.7" cy="647.0" r="1.0" fill="#F8766D" fill-opacity="0.75"/>
<circle cx="288.8" cy="646.5" r="1.0" fill="#F8766D" fill-opacity="0.75"/>
<circle cx="290.1" cy="646.9" r="1.0" fill="#F8766D" fill-opacity="0.75"/>
<circle cx="292.2" cy="646.7" r="1.0" fill="#F8766D" fill-opacity="0.75"/>
<circle cx="294.4" cy="647.0" r="1.0" fill="#F8766D" fill-opacity="0.75"/>
<circle cx="296.5" cy="646.2" r="1.0" fill="#F8766D" fill-opacity="0.75"/>
<circle cx="298.4" cy="646.6" r="1.0" fill="#F8766D" fill-opacity="0.75"/>
<circle cx="297.3" cy="647.1" r="1.0" fill="#F8766D" fill-opacity="0.75"/>
<circle cx="291.6" cy="645.8" r="1.0" fill="#F8766D" fill-opacity="0.75"/>
<circle cx="284.0" cy="646.1" r="1.0" fill="#F8766D" fill-opacity="0.75"/>
<circle cx="280.4" cy="647.1" r="1.0" fill="#F8766D" fill-opacity="0.75"/>
<circle cx="282.1" cy="646.2" r="1.0" fill="#F8766D" fill-opacity="0.75"/>
<circle cx="288.8" cy="650.5" r="1.0" fill="#F8766D" fill-opacity="0.75"/>
<circle cx="289.9" cy="651.1" r="1.0" fill="#F8766D" fill-opacity="0.75"/>
<circle cx="276.9" cy="653.8" r="1.0" fill="#F8766D" fill-opacity="0.75"/>
<circle cx="278.9" cy="654.4" r="1.0" fill="#F8766D" fill-opacity="0.75"/>
<circle cx="283.2" cy="655.2" r="1.0" fill="#F8766D" fill-opacity="0.75"/>
<circle cx="285.1" cy="654.5" r="1.0" fill="#F8766D" fill-opacity="0.75"/>
<circle cx="291.8" cy="654.3" r="1.0" fill="#F8766D" fill-opacity="0.75"/>
<circle cx="293.6" cy="654.4" r="1.0" fill="#F8766D" fill-opacity="0.75"/>
<circle cx="295.4" cy="654.1" r="1.0" fill="#F8766D" fill-opacity="0.75"/>
<circle cx="297.6" cy="655.1" r="1.0" fill="#F8766D" fill-opacity="0.75"/>
<circle cx="284.1" cy="654.5" r="1.0" fill="#F8766D" fill-opacity="0.75"/>
<circle cx="290.8" cy="654.0" r="1.0" fill="#F8766D" fill-opacity="0.75"/>
<circle cx="294.9" cy="654.4" r="1.0" fill="#F8766D" fill-opacity="0.75"/>
<circle cx="283.4" cy="654.5" r="1.0" fill="#F8766D" fill-opacity="0.75"/>
<circle cx="344.7" cy="520.0" r="1.0" fill="#00BFC4" fill-opacity="0.65"/>
<circle cx="332.3" cy="580.3" r="1.0" fill="#F8766D" fill-opacity="0.75"/>
<circle cx="347.0" cy="608.4" r="1.0" fill="#00BFC4" fill-opacity="0.65"/>
<circle cx="344.8" cy="625.2" r="1.0" fill="#00BFC4" fill-opacity="0.65"/>
<circle cx="335.8" cy="630.1" r="1.0" fill="#00BFC4" fill-opacity="0.65"/>
<circle cx="344.7" cy="630.2" r="1.0" fill="#00BFC4" fill-opacity="0.65"/>
<circle cx="341.3" cy="634.5" r="1.0" fill="#F8766D" fill-opacity="0.75"/>
<circle cx="326.0" cy="639.4" r="1.0" fill="#00BFC4" fill-opacity="0.65"/>
<circle cx="328.2" cy="638.8" r="1.0" fill="#00BFC4" fill-opacity="0.65"/>
<circle cx="331.8" cy="638.0" r="1.0" fill="#00BFC4" fill-opacity="0.65"/>
<circle cx="341.9" cy="639.1" r="1.0" fill="#00BFC4" fill-opacity="0.65"/>
<circle cx="345.4" cy="638.3" r="1.0" fill="#00BFC4" fill-opacity="0.65"/>
<circle cx="332.4" cy="639.2" r="1.0" fill="#00BFC4" fill-opacity="0.65"/>
<circle cx="337.7" cy="638.4" r="1.0" fill="#00BFC4" fill-opacity="0.65"/>
<circle cx="325.5" cy="646.6" r="1.0" fill="#00BFC4" fill-opacity="0.65"/>
<circle cx="333.2" cy="647.6" r="1.0" fill="#00BFC4" fill-opacity="0.65"/>
<circle cx="344.8" cy="647.4" r="1.0" fill="#00BFC4" fill-opacity="0.65"/>
<circle cx="346.3" cy="647.2" r="1.0" fill="#00BFC4" fill-opacity="0.65"/>
<circle cx="333.9" cy="646.9" r="1.0" fill="#00BFC4" fill-opacity="0.65"/>
<circle cx="339.3" cy="647.7" r="1.0" fill="#00BFC4" fill-opacity="0.65"/>
<circle cx="338.7" cy="654.5" r="1.0" fill="#00BFC4" fill-opacity="0.65"/>
<circle cx="326.1" cy="642.1" r="1.0" fill="#F8766D" fill-opacity="0.75"/>
<circle cx="327.1" cy="642.2" r="1.0" fill="#F8766D" fill-opacity="0.75"/>
<circle cx="330.6" cy="641.5" r="1.0" fill="#F8766D" fill-opacity="0.75"/>
<circle cx="332.5" cy="642.5" r="1.0" fill="#F8766D" fill-opacity="0.75"/>
<circle cx="335.9" cy="641.9" r="1.0" fill="#F8766D" fill-opacity="0.75"/>
<circle cx="339.6" cy="642.3" r="1.0" fill="#F8766D" fill-opacity="0.75"/>
<circle cx="341.8" cy="642.9" r="1.0" fill="#F8766D" fill-opacity="0.75"/>
<circle cx="345.9" cy="642.3" r="1.0" fill="#F8766D" fill-opacity="0.75"/>
<circle cx="347.1" cy="642.4" r="1.0" fill="#F8766D" fill-opacity="0.75"/>
<circle cx="325.4" cy="642.9" r="1.0" fill="#F8766D" fill-opacity="0.75"/>
<circle cx="332.5" cy="641.7" r="1.0" fill="#F8766D" fill-opacity="0.75"/>
<circle cx="342.8" cy="642.6" r="1.0" fill="#F8766D" fill-opacity="0.75"/>
<circle cx="327.2" cy="641.6" r="1.0" fill="#F8766D" fill-opacity="0.75"/>
<circle cx="324.5" cy="647.6" r="1.0" fill="#F8766D" fill-opacity="0.75"/>
<circle cx="324.8" cy="647.7" r="1.0" fill="#F8766D" fill-opacity="0.75"/>
<circle cx="327.6" cy="646.5" r="1.0" fill="#F8766D" fill-opacity="0.75"/>
<circle cx="330.0" cy="647.1" r="1.0" fill="#F8766D" fill-opacity="0.75"/>
<circle cx="331.5" cy="647.5" r="1.0" fill="#F8766D" fill-opacity="0.75"/>
<circle cx="333.9" cy="647.4" r="1.0" fill="#F8766D" fill-opacity="0.75"/>
<circle cx="336.7" cy="646.7" r="1.0" fill="#F8766D" fill-opacity="0.75"/>
<circle cx="339.1" cy="646.2" r="1.0" fill="#F8766D" fill-opacity="0.75"/>
<circle cx="340.8" cy="647.4" r="1.0" fill="#F8766D" fill-opacity="0.75"/>
<circle cx="341.7" cy="647.5" r="1.0" fill="#F8766D" fill-opacity="0.75"/>
<circle cx="345.3" cy="647.0" r="1.0" fill="#F8766D" fill-opacity="0.75"/>
<circle cx="347.3" cy="647.3" r="1.0" fill="#F8766D" fill-opacity="0.75"/>
<circle cx="339.2" cy="646.9" r="1.0" fill="#F8766D" fill-opacity="0.75"/>
<circle cx="336.8" cy="647.0" r="1.0" fill="#F8766D" fill-opacity="0.75"/>
<circle cx="343.0" cy="647.0" r="1.0" fill="#F8766D" fill-opacity="0.75"/>
<circle cx="337.3" cy="647.1" r="1.0" fill="#F8766D" fill-opacity="0.75"/>
<circle cx="334.6" cy="646.3" r="1.0" fill="#F8766D" fill-opacity="0.75"/>
<circle cx="331.3" cy="646.8" r="1.0" fill="#F8766D" fill-opacity="0.75"/>
<circle cx="326.0" cy="649.4" r="1.0" fill="#F8766D" fill-opacity="0.75"/>
<circle cx="336.7" cy="649.1" r="1.0" fill="#F8766D" fill-opacity="0.75"/>
<circle cx="322.7" cy="654.0" r="1.0" fill="#F8766D" fill-opacity="0.75"/>
<circle cx="325.7" cy="654.2" r="1.0" fill="#F8766D" fill-opacity="0.75"/>
<circle cx="327.1" cy="654.9" r="1.0" fill="#F8766D" fill-opacity="0.75"/>
<circle cx="328.3" cy="653.7" r="1.0" fill="#F8766D" fill-opacity="0.75"/>
<circle cx="330.3" cy="654.7" r="1.0" fill="#F8766D" fill-opacity="0.75"/>
<circle cx="332.1" cy="655.2" r="1.0" fill="#F8766D" fill-opacity="0.75"/>
<circle cx="336.0" cy="654.5" r="1.0" fill="#F8766D" fill-opacity="0.75"/>
<circle cx="337.7" cy="653.8" r="1.0" fill="#F8766D" fill-opacity="0.75"/>
<circle cx="339.7" cy="654.6" r="1.0" fill="#F8766D" fill-opacity="0.75"/>
<circle cx="345.0" cy="654.2" r="1.0" fill="#F8766D" fill-opacity="0.75"/>
<circle cx="347.1" cy="654.3" r="1.0" fill="#F8766D" fill-opacity="0.75"/>
<circle cx="348.0" cy="653.7" r="1.0" fill="#F8766D" fill-opacity="0.75"/>
<circle cx="332.3" cy="655.2" r="1.0" fill="#F8766D" fill-opacity="0.75"/>
<circle cx="344.7" cy="653.7" r="1.0" fill="#F8766D" fill-opacity="0.75"/>
<circle cx="345.5" cy="654.3" r="1.0" fill="#F8766D" fill-opacity="0.75"/>
<circle cx="348.0" cy="654.0" r="1.0" fill="#F8766D" fill-opacity="0.75"/>
<circle cx="338.5" cy="655.0" r="1.0" fill="#F8766D" fill-opacity="0.75"/>
<circle cx="324.8" cy="655.1" r="1.0" fill="#F8766D" fill-opacity="0.75"/>
<circle cx="323.9" cy="657.8" r="1.0" fill="#F8766D" fill-opacity="0.75"/>
<circle cx="342.8" cy="657.4" r="1.0" fill="#F8766D" fill-opacity="0.75"/>
<circle cx="337.1" cy="663.4" r="1.0" fill="#F8766D" fill-opacity="0.75"/>
<circle cx="336.1" cy="667.7" r="1.0" fill="#F8766D" fill-opacity="0.75"/>
<circle cx="175.5" cy="631.7" r="1.0" fill="#F8766D" fill-opacity="0.75"/>
<rect x="127.7" y="312.9" width="25.7" height="1.9" fill="#F0605A"/>
<text x="-0.5" y="10.6" font-size="20.5" font-weight="bold" fill="#000">a</text>
<text x="-1.2" y="234.7" font-size="19.5" font-weight="bold" fill="#000">b</text>
<text x="-1.0" y="473.9" font-size="19.5" font-weight="bold" fill="#000">c</text>
<text x="83.0" y="16.1" font-size="11.2" font-weight="normal" textLength="9.2" lengthAdjust="spacingAndGlyphs" stroke="#000" stroke-width="0.5" fill="#000">RI</text>
<text x="22.9" y="240.0" font-size="11.2" font-weight="normal" textLength="70.3" lengthAdjust="spacingAndGlyphs" stroke="#000" stroke-width="0.5" fill="#000">RI/baseline RI</text>
<text x="22.9" y="253.5" font-size="11.2" font-weight="normal" textLength="16.3" lengthAdjust="spacingAndGlyphs" stroke="#000" stroke-width="0.5" fill="#000">(%)</text>
<text x="33.4" y="472.5" font-size="11" font-weight="normal" textLength="55.8" lengthAdjust="spacingAndGlyphs" stroke="#000" stroke-width="0.45" fill="#000">Prednisone</text>
<text x="33.2" y="487.3" font-size="11" font-weight="normal" textLength="22.6" lengthAdjust="spacingAndGlyphs" stroke="#000" stroke-width="0.45" fill="#000">dose</text>
<text x="33.2" y="500.8" font-size="11" font-weight="normal" textLength="33.7" lengthAdjust="spacingAndGlyphs" stroke="#000" stroke-width="0.45" fill="#000">(mg/d)</text>
<rect x="382.8" y="14.2" width="14.8" height="14.4" fill="#EBEBEB" stroke="#fff" stroke-width="0.6"/>
<rect x="382.8" y="28.6" width="14.8" height="15.4" fill="#EBEBEB" stroke="#fff" stroke-width="0.6"/>
<circle cx="390.2" cy="21.2" r="2.25" fill="#F8766D" fill-opacity="0.55"/>
<circle cx="390.2" cy="36.9" r="2.25" fill="#00BFC4" fill-opacity="0.55"/>
<text x="406.2" y="25.6" font-size="13" font-weight="normal" textLength="68.5" lengthAdjust="spacingAndGlyphs" stroke="#000" stroke-width="0.65" fill="#000">Non-relapse</text>
<text x="406.2" y="41.6" font-size="13" font-weight="normal" textLength="41.1" lengthAdjust="spacingAndGlyphs" stroke="#000" stroke-width="0.65" fill="#000">Relapse</text>
<text x="107.8" y="206.2" font-size="10" font-weight="bold" text-anchor="end" fill="#000">0</text>
<text x="107.8" y="147.8" font-size="10" font-weight="bold" text-anchor="end" fill="#000">10</text>
<text x="107.8" y="89.5" font-size="10" font-weight="bold" text-anchor="end" fill="#000">20</text>
<text x="107.8" y="31.1" font-size="10" font-weight="bold" text-anchor="end" fill="#000">30</text>
<text x="109.4" y="441.1" font-size="10" font-weight="bold" text-anchor="end" fill="#000">0</text>
<text x="109.4" y="379.8" font-size="10" font-weight="bold" text-anchor="end" fill="#000">50</text>
<text x="109.4" y="318.5" font-size="10" font-weight="bold" text-anchor="end" fill="#000">100</text>
<text x="109.4" y="257.2" font-size="10" font-weight="bold" text-anchor="end" fill="#000">150</text>
<text x="107.8" y="674.5" font-size="10" font-weight="bold" text-anchor="end" fill="#000">0</text>
<text x="107.8" y="613.7" font-size="10" font-weight="bold" text-anchor="end" fill="#000">20</text>
<text x="107.8" y="553.0" font-size="10" font-weight="bold" text-anchor="end" fill="#000">40</text>
<text x="107.8" y="492.2" font-size="10" font-weight="bold" text-anchor="end" fill="#000">60</text>
<text x="124.6" y="222.2" font-size="10.4" font-weight="bold" textLength="35.1" lengthAdjust="spacingAndGlyphs" fill="#000">Baseline</text>
<text x="172.1" y="222.2" font-size="10.4" font-weight="bold" textLength="35.7" lengthAdjust="spacingAndGlyphs" fill="#000">Month 1</text>
<text x="222.9" y="222.2" font-size="10.4" font-weight="bold" textLength="36.1" lengthAdjust="spacingAndGlyphs" fill="#000">Month 3</text>
<text x="271.8" y="222.2" font-size="10.4" font-weight="bold" textLength="36.2" lengthAdjust="spacingAndGlyphs" fill="#000">Month 6</text>
<text x="318.0" y="222.2" font-size="10.4" font-weight="bold" textLength="40.9" lengthAdjust="spacingAndGlyphs" fill="#000">Month 12</text>
<text x="124.6" y="456.3" font-size="10.4" font-weight="bold" textLength="35.1" lengthAdjust="spacingAndGlyphs" fill="#000">Baseline</text>
<text x="172.1" y="456.3" font-size="10.4" font-weight="bold" textLength="35.7" lengthAdjust="spacingAndGlyphs" fill="#000">Month 1</text>
<text x="222.9" y="456.3" font-size="10.4" font-weight="bold" textLength="36.1" lengthAdjust="spacingAndGlyphs" fill="#000">Month 3</text>
<text x="271.8" y="456.3" font-size="10.4" font-weight="bold" textLength="36.2" lengthAdjust="spacingAndGlyphs" fill="#000">Month 6</text>
<text x="318.0" y="456.3" font-size="10.4" font-weight="bold" textLength="40.9" lengthAdjust="spacingAndGlyphs" fill="#000">Month 12</text>
<text x="124.6" y="690.2" font-size="10.4" font-weight="bold" textLength="35.1" lengthAdjust="spacingAndGlyphs" fill="#000">Baseline</text>
<text x="172.1" y="690.2" font-size="10.4" font-weight="bold" textLength="35.7" lengthAdjust="spacingAndGlyphs" fill="#000">Month 1</text>
<text x="222.9" y="690.2" font-size="10.4" font-weight="bold" textLength="36.1" lengthAdjust="spacingAndGlyphs" fill="#000">Month 3</text>
<text x="271.8" y="690.2" font-size="10.4" font-weight="bold" textLength="36.2" lengthAdjust="spacingAndGlyphs" fill="#000">Month 6</text>
<text x="318.0" y="690.2" font-size="10.4" font-weight="bold" textLength="40.9" lengthAdjust="spacingAndGlyphs" fill="#000">Month 12</text>
<text x="374.3" y="223.8" font-size="11.3" font-weight="bold" textLength="24.4" lengthAdjust="spacingAndGlyphs" fill="#000">Time</text>
<text x="372.5" y="453.5" font-size="11.3" font-weight="bold" textLength="24.6" lengthAdjust="spacingAndGlyphs" fill="#000">Time</text>
<text x="372.5" y="688.3" font-size="11.3" font-weight="bold" textLength="24.6" lengthAdjust="spacingAndGlyphs" fill="#000">Time</text>
</svg></body></html>
